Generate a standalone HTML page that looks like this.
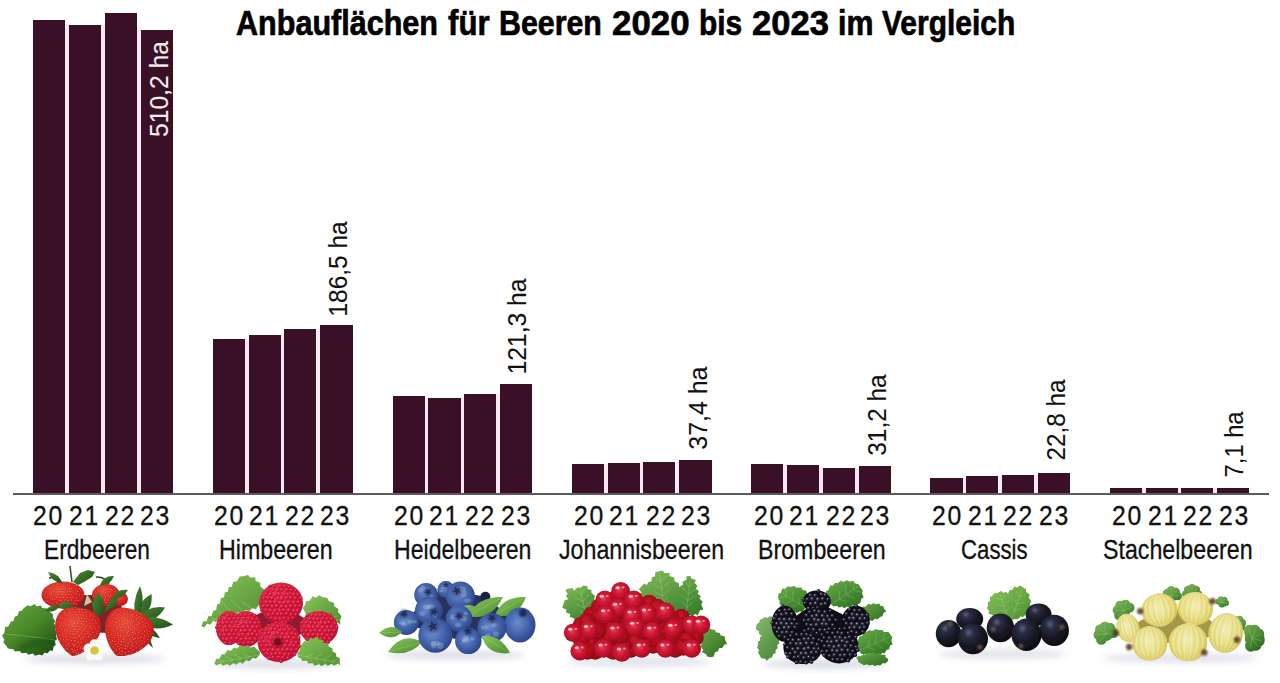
<!DOCTYPE html>
<html><head><meta charset="utf-8"><title>Anbauflächen für Beeren 2020 bis 2023 im Vergleich</title>
<style>
html,body{margin:0;padding:0;background:#fff;}
body{width:1280px;height:683px;position:relative;overflow:hidden;font-family:"Liberation Sans",Arial,sans-serif;color:#111;}
.b{position:absolute;background:#3a1026;}
.gap{position:absolute;background:#fbe8f1;}
.axis{position:absolute;left:13.2px;top:492.8px;width:1256.3px;height:2.5px;background:#5c5c5c;}
.yr{-webkit-text-stroke:0.3px #111;position:absolute;top:502.00px;font-size:27.5px;line-height:1;letter-spacing:1.9px;white-space:nowrap;transform:scaleX(0.9);transform-origin:0 0;}
.nm{-webkit-text-stroke:0.3px #111;position:absolute;top:536.20px;font-size:27.5px;line-height:1;white-space:nowrap;transform-origin:0 0;}
.val{-webkit-text-stroke:0.1px currentColor;position:absolute;left:0;top:0;font-size:26.5px;line-height:1;white-space:nowrap;transform-origin:0 0;}
h1{position:absolute;margin:0;left:0;top:5.50px;width:1280px;height:40px;font-size:35.5px;line-height:1;font-weight:bold;color:#000;}
.tw{position:absolute;top:0;white-space:nowrap;transform-origin:0 0;-webkit-text-stroke:0.7px #000;}
.fr{position:absolute;}
</style></head><body>
<h1><span class="tw" style="left:235.74px;transform:scaleX(0.8606)">Anbauflächen</span><span class="tw" style="left:447.50px;transform:scaleX(0.8777)">für</span><span class="tw" style="left:498.89px;transform:scaleX(0.8547)">Beeren</span><span class="tw" style="left:611.52px;transform:scaleX(0.9818)">2020</span><span class="tw" style="left:698.92px;transform:scaleX(0.8417)">bis</span><span class="tw" style="left:751.53px;transform:scaleX(0.9740)">2023</span><span class="tw" style="left:838.29px;transform:scaleX(0.8553)">im</span><span class="tw" style="left:881.90px;transform:scaleX(0.8442)">Vergleich</span></h1>
<div class="gap" style="left:65.40px;top:25.30px;width:3.70px;height:467.70px"></div>
<div class="gap" style="left:101.30px;top:25.30px;width:3.30px;height:467.70px"></div>
<div class="gap" style="left:136.80px;top:29.70px;width:3.90px;height:463.30px"></div>
<div class="gap" style="left:245.10px;top:338.50px;width:3.70px;height:154.50px"></div>
<div class="gap" style="left:281.00px;top:334.90px;width:3.30px;height:158.10px"></div>
<div class="gap" style="left:316.50px;top:329.00px;width:3.90px;height:164.00px"></div>
<div class="gap" style="left:424.70px;top:397.75px;width:3.70px;height:95.25px"></div>
<div class="gap" style="left:460.60px;top:397.75px;width:3.30px;height:95.25px"></div>
<div class="gap" style="left:496.10px;top:394.40px;width:3.90px;height:98.60px"></div>
<div class="gap" style="left:604.10px;top:463.75px;width:3.70px;height:29.25px"></div>
<div class="gap" style="left:640.00px;top:462.90px;width:3.30px;height:30.10px"></div>
<div class="gap" style="left:675.50px;top:461.90px;width:3.90px;height:31.10px"></div>
<div class="gap" style="left:783.45px;top:465.40px;width:3.70px;height:27.60px"></div>
<div class="gap" style="left:819.35px;top:467.75px;width:3.30px;height:25.25px"></div>
<div class="gap" style="left:854.85px;top:467.75px;width:3.90px;height:25.25px"></div>
<div class="gap" style="left:962.60px;top:477.90px;width:3.70px;height:15.10px"></div>
<div class="gap" style="left:998.50px;top:476.25px;width:3.30px;height:16.75px"></div>
<div class="gap" style="left:1034.00px;top:474.60px;width:3.90px;height:18.40px"></div>
<div class="gap" style="left:1142.00px;top:487.90px;width:3.70px;height:5.10px"></div>
<div class="gap" style="left:1177.90px;top:487.90px;width:3.30px;height:5.10px"></div>
<div class="gap" style="left:1213.40px;top:487.90px;width:3.90px;height:5.10px"></div>
<div class="b" style="left:33.20px;top:19.70px;width:32.2px;height:473.30px"></div>
<div class="b" style="left:69.10px;top:25.30px;width:32.2px;height:467.70px"></div>
<div class="b" style="left:104.60px;top:13.00px;width:32.2px;height:480.00px"></div>
<div class="b" style="left:140.70px;top:29.70px;width:32.2px;height:463.30px"></div>
<div class="b" style="left:212.90px;top:338.50px;width:32.2px;height:154.50px"></div>
<div class="b" style="left:248.80px;top:334.90px;width:32.2px;height:158.10px"></div>
<div class="b" style="left:284.30px;top:329.00px;width:32.2px;height:164.00px"></div>
<div class="b" style="left:320.40px;top:324.60px;width:32.2px;height:168.40px"></div>
<div class="b" style="left:392.50px;top:396.00px;width:32.2px;height:97.00px"></div>
<div class="b" style="left:428.40px;top:397.75px;width:32.2px;height:95.25px"></div>
<div class="b" style="left:463.90px;top:394.40px;width:32.2px;height:98.60px"></div>
<div class="b" style="left:500.00px;top:384.00px;width:32.2px;height:109.00px"></div>
<div class="b" style="left:571.90px;top:463.75px;width:32.2px;height:29.25px"></div>
<div class="b" style="left:607.80px;top:462.90px;width:32.2px;height:30.10px"></div>
<div class="b" style="left:643.30px;top:461.90px;width:32.2px;height:31.10px"></div>
<div class="b" style="left:679.40px;top:460.40px;width:32.2px;height:32.60px"></div>
<div class="b" style="left:751.25px;top:464.10px;width:32.2px;height:28.90px"></div>
<div class="b" style="left:787.15px;top:465.40px;width:32.2px;height:27.60px"></div>
<div class="b" style="left:822.65px;top:467.75px;width:32.2px;height:25.25px"></div>
<div class="b" style="left:858.75px;top:465.90px;width:32.2px;height:27.10px"></div>
<div class="b" style="left:930.40px;top:477.90px;width:32.2px;height:15.10px"></div>
<div class="b" style="left:966.30px;top:476.25px;width:32.2px;height:16.75px"></div>
<div class="b" style="left:1001.80px;top:474.60px;width:32.2px;height:18.40px"></div>
<div class="b" style="left:1037.90px;top:473.10px;width:32.2px;height:19.90px"></div>
<div class="b" style="left:1109.80px;top:487.90px;width:32.2px;height:5.10px"></div>
<div class="b" style="left:1145.70px;top:487.90px;width:32.2px;height:5.10px"></div>
<div class="b" style="left:1181.20px;top:487.90px;width:32.2px;height:5.10px"></div>
<div class="b" style="left:1217.30px;top:487.90px;width:32.2px;height:5.10px"></div>
<div class="axis"></div>
<div class="yr" style="left:32.85px">20</div>
<div class="yr" style="left:68.50px">21</div>
<div class="yr" style="left:105.10px">22</div>
<div class="yr" style="left:140.10px">23</div>
<div class="yr" style="left:213.50px">20</div>
<div class="yr" style="left:248.50px">21</div>
<div class="yr" style="left:285.35px">22</div>
<div class="yr" style="left:320.35px">23</div>
<div class="yr" style="left:393.50px">20</div>
<div class="yr" style="left:429.10px">21</div>
<div class="yr" style="left:465.35px">22</div>
<div class="yr" style="left:501.00px">23</div>
<div class="yr" style="left:573.85px">20</div>
<div class="yr" style="left:609.10px">21</div>
<div class="yr" style="left:645.70px">22</div>
<div class="yr" style="left:681.00px">23</div>
<div class="yr" style="left:753.85px">20</div>
<div class="yr" style="left:789.35px">21</div>
<div class="yr" style="left:826.00px">22</div>
<div class="yr" style="left:860.35px">23</div>
<div class="yr" style="left:932.20px">20</div>
<div class="yr" style="left:967.85px">21</div>
<div class="yr" style="left:1003.10px">22</div>
<div class="yr" style="left:1038.50px">23</div>
<div class="yr" style="left:1112.20px">20</div>
<div class="yr" style="left:1147.60px">21</div>
<div class="yr" style="left:1183.10px">22</div>
<div class="yr" style="left:1218.50px">23</div>
<div class="nm" style="left:43.95px;transform:scaleX(0.8252)">Erdbeeren</div>
<div class="nm" style="left:218.91px;transform:scaleX(0.8447)">Himbeeren</div>
<div class="nm" style="left:393.92px;transform:scaleX(0.8400)">Heidelbeeren</div>
<div class="nm" style="left:559.26px;transform:scaleX(0.8440)">Johannisbeeren</div>
<div class="nm" style="left:758.01px;transform:scaleX(0.8439)">Brombeeren</div>
<div class="nm" style="left:960.69px;transform:scaleX(0.8074)">Cassis</div>
<div class="nm" style="left:1103.26px;transform:scaleX(0.8434)">Stachelbeeren</div>
<div class="val" style="color:#f6ecf2;transform:translate(145.70px,137.03px) rotate(-90deg) scaleX(0.9299)">510,2 ha</div>
<div class="val" style="color:#111;transform:translate(325.40px,316.54px) rotate(-90deg) scaleX(0.9218)">186,5 ha</div>
<div class="val" style="color:#111;transform:translate(504.40px,374.36px) rotate(-90deg) scaleX(0.9287)">121,3 ha</div>
<div class="val" style="color:#111;transform:translate(685.30px,449.64px) rotate(-90deg) scaleX(0.9398)">37,4 ha</div>
<div class="val" style="color:#111;transform:translate(864.40px,455.72px) rotate(-90deg) scaleX(0.9193)">31,2 ha</div>
<div class="val" style="color:#111;transform:translate(1042.60px,460.51px) rotate(-90deg) scaleX(0.9148)">22,8 ha</div>
<div class="val" style="color:#111;transform:translate(1221.20px,477.39px) rotate(-90deg) scaleX(0.8945)">7,1 ha</div>
<svg class="fr" style="left:0;top:555px" width="1280" height="128" viewBox="0 555 1280 128"><defs>
<filter id="blur3" x="-50%" y="-50%" width="200%" height="200%"><feGaussianBlur stdDeviation="3"/></filter>
<filter id="blur2" x="-50%" y="-50%" width="200%" height="200%"><feGaussianBlur stdDeviation="2"/></filter>
<filter id="blur1" x="-30%" y="-30%" width="160%" height="160%"><feGaussianBlur stdDeviation="1"/></filter>
<filter id="soft" x="-5%" y="-5%" width="110%" height="110%"><feGaussianBlur stdDeviation="0.5"/></filter>
<radialGradient id="gStraw" cx="0.4" cy="0.32" r="0.75"><stop offset="0" stop-color="#f0503e"/><stop offset="0.45" stop-color="#dc2c26"/><stop offset="0.85" stop-color="#c21c1e"/><stop offset="1" stop-color="#8e1014"/></radialGradient>
<radialGradient id="gRasp" cx="0.4" cy="0.35" r="0.75"><stop offset="0" stop-color="#f0506a"/><stop offset="0.45" stop-color="#dc2442"/><stop offset="0.85" stop-color="#c0163a"/><stop offset="1" stop-color="#8c0c26"/></radialGradient>
<radialGradient id="gBlue" cx="0.42" cy="0.42" r="0.7"><stop offset="0" stop-color="#6c8cca"/><stop offset="0.45" stop-color="#4767ae"/><stop offset="0.85" stop-color="#2d468a"/><stop offset="1" stop-color="#1c2c60"/></radialGradient>
<radialGradient id="gCurr" cx="0.42" cy="0.42" r="0.68"><stop offset="0" stop-color="#e6445a"/><stop offset="0.35" stop-color="#d21a36"/><stop offset="0.78" stop-color="#b00c26"/><stop offset="1" stop-color="#760616"/></radialGradient>
<radialGradient id="gCurrB" cx="0.42" cy="0.4" r="0.68"><stop offset="0" stop-color="#c81828"/><stop offset="0.7" stop-color="#a00a18"/><stop offset="1" stop-color="#6a0410"/></radialGradient>
<radialGradient id="gDrupB" cx="0.38" cy="0.35" r="0.7"><stop offset="0" stop-color="#6a6c88"/><stop offset="0.35" stop-color="#2a2838"/><stop offset="1" stop-color="#0a0810"/></radialGradient>
<radialGradient id="gDrupR" cx="0.38" cy="0.35" r="0.7"><stop offset="0" stop-color="#f8607a"/><stop offset="0.4" stop-color="#dc1e40"/><stop offset="1" stop-color="#a00a28"/></radialGradient>
<radialGradient id="gBlack" cx="0.45" cy="0.4" r="0.7"><stop offset="0" stop-color="#2c2a40"/><stop offset="0.6" stop-color="#1a1726"/><stop offset="1" stop-color="#0c0a12"/></radialGradient>
<radialGradient id="gCass" cx="0.36" cy="0.3" r="0.8"><stop offset="0" stop-color="#58607e"/><stop offset="0.2" stop-color="#2a2d42"/><stop offset="0.6" stop-color="#15161f"/><stop offset="1" stop-color="#0a0a0e"/></radialGradient>
<radialGradient id="gGoose" cx="0.45" cy="0.42" r="0.65"><stop offset="0" stop-color="#f2ecb4"/><stop offset="0.55" stop-color="#e8de84"/><stop offset="0.85" stop-color="#dacb5e"/><stop offset="1" stop-color="#b8a844"/></radialGradient>
<linearGradient id="gLeaf" x1="0" y1="0" x2="1" y2="1"><stop offset="0" stop-color="#6caa48"/><stop offset="1" stop-color="#2e6a20"/></linearGradient>
<linearGradient id="gLeafL" x1="0" y1="0" x2="1" y2="1"><stop offset="0" stop-color="#8cc65c"/><stop offset="1" stop-color="#4a8c2e"/></linearGradient>
<linearGradient id="gLeafS" x1="0" y1="0" x2="0.8" y2="1"><stop offset="0" stop-color="#6aa63c"/><stop offset="0.5" stop-color="#4a8a2a"/><stop offset="1" stop-color="#1e5214"/></linearGradient>
<linearGradient id="gLeafG" x1="0" y1="0" x2="0.6" y2="1"><stop offset="0" stop-color="#78b04c"/><stop offset="1" stop-color="#2c6a22"/></linearGradient>
<linearGradient id="gLeafB" x1="0" y1="0" x2="0.7" y2="1"><stop offset="0" stop-color="#6cae4a"/><stop offset="1" stop-color="#2e7424"/></linearGradient>
<linearGradient id="gLeafF" x1="0" y1="0" x2="0.7" y2="1"><stop offset="0" stop-color="#8ab870"/><stop offset="1" stop-color="#4a8a3a"/></linearGradient>
<linearGradient id="gLeafG2" x1="0" y1="0" x2="0.6" y2="1"><stop offset="0" stop-color="#84bc58"/><stop offset="1" stop-color="#3c8030"/></linearGradient>
<linearGradient id="gLeafD" x1="0" y1="0" x2="1" y2="1"><stop offset="0" stop-color="#4c8a34"/><stop offset="1" stop-color="#1f5018"/></linearGradient>
<pattern id="pSeed" width="3.6" height="3.6" patternUnits="userSpaceOnUse" patternTransform="rotate(35)"><circle cx="0.9" cy="0.9" r="0.6" fill="#ffbca0" opacity="0.6"/><circle cx="2.7" cy="2.7" r="0.6" fill="#a00c12" opacity="0.5"/></pattern>
<pattern id="pDrup" width="3.4" height="3.4" patternUnits="userSpaceOnUse" patternTransform="rotate(20)"><circle cx="1.7" cy="1.7" r="1" fill="#ff8aa0" opacity="0.4"/><circle cx="0" cy="0" r="0.7" fill="#7a0a1e" opacity="0.45"/></pattern>
<pattern id="pBlk" width="3.4" height="3.4" patternUnits="userSpaceOnUse" patternTransform="rotate(25)"><circle cx="1.7" cy="1.7" r="0.75" fill="#8c94b8" opacity="0.75"/><circle cx="0" cy="0" r="0.9" fill="#05040a" opacity="0.6"/></pattern>
<pattern id="pGoose" width="3.4" height="60" patternUnits="userSpaceOnUse"><rect x="0" y="0" width="1.1" height="60" fill="#fffdf0" opacity="0.6"/><rect x="2" y="0" width="0.6" height="60" fill="#b8b060" opacity="0.35"/></pattern>
</defs><g filter="url(#soft)"><ellipse cx="95" cy="659" rx="70" ry="5" fill="#c4c8d6" opacity="0.55" filter="url(#blur3)"/><path d="M136.0,620.0 Q153.4,612.8 151.6,594.1 Q136.1,602.4 136.0,620.0 Z" fill="url(#gLeafD)"/><path d="M136.0,620.0 Q155.2,624.8 165.0,607.5 Q146.7,604.9 136.0,620.0 Z" fill="url(#gLeafD)"/><path d="M136.0,620.0 Q153.1,634.2 173.0,624.5 Q155.7,612.7 136.0,620.0 Z" fill="url(#gLeafD)"/><path d="M136.0,620.0 Q143.2,635.4 160.0,638.0 Q151.8,623.9 136.0,620.0 Z" fill="url(#gLeafD)"/><path d="M136.0,620.0 Q139.0,637.3 153.0,648.0 Q148.9,631.3 136.0,620.0 Z" fill="url(#gLeafD)"/><path d="M136.0,620.0 Q146.7,604.0 140.0,586.0 Q131.0,602.2 136.0,620.0 Z" fill="url(#gLeafD)"/><path d="M23.7,608.3 L27.5,605.2 L30.2,606.3 L35.0,603.9 L36.3,606.2 L40.9,605.6 L42.2,607.9 L47.5,608.5 L49.2,611.4 L53.1,614.6 L52.7,617.6 L55.2,621.3 L53.8,623.4 L56.3,627.1 L54.9,629.3 L57.4,633.0 L56.0,635.1 L56.9,639.4 L54.8,640.7 L55.7,645.0 L53.6,646.4 L52.6,651.3 L50.3,650.3 L47.2,653.4 L44.9,652.4 L41.8,655.5 L39.5,654.5 L34.9,655.7 L33.0,653.6 L28.3,654.8 L26.4,652.7 L21.6,653.3 L19.8,651.0 L15.0,651.5 L13.2,649.2 L7.9,648.6 L6.2,645.7 L3.3,642.2 L4.4,639.8 L2.0,635.4 L4.4,633.0 L5.0,626.9 L8.3,626.4 L10.7,621.7 L13.5,621.1 L14.8,616.4 L17.6,615.8 L18.9,611.3 L21.7,610.8 Z" fill="url(#gLeafS)"/><path d="M55,640 Q30,636 6,634" stroke="#a8d080" stroke-width="0.7" fill="none" opacity="0.5"/><path d="M20,648 Q35,640 54,642" stroke="#103a0c" stroke-width="6" fill="none" opacity="0.35" filter="url(#blur2)"/><path d="M63.0,595.0 L106.0,595.0 L120.0,599.0 L127.0,633.5 L77.0,632.0 Z" fill="#6a0c0c" opacity="0.9"/><clipPath id="cb1"><ellipse cx="63" cy="595" rx="21.5" ry="13.5"/></clipPath><ellipse cx="63" cy="595" rx="21.5" ry="13.5" fill="url(#gStraw)"/><g clip-path="url(#cb1)"><circle cx="57.9" cy="583.3" r="0.91" fill="#b01818" opacity="0.55"/><circle cx="57.9" cy="583.3" r="0.60" fill="#f8c090" opacity="0.6"/><circle cx="62.3" cy="582.3" r="1.10" fill="#b01818" opacity="0.55"/><circle cx="62.3" cy="582.3" r="0.73" fill="#f8c090" opacity="0.6"/><circle cx="65.3" cy="582.7" r="1.03" fill="#b01818" opacity="0.55"/><circle cx="65.3" cy="582.7" r="0.68" fill="#f8c090" opacity="0.6"/><circle cx="69.0" cy="583.2" r="0.87" fill="#b01818" opacity="0.55"/><circle cx="69.0" cy="583.2" r="0.58" fill="#f8c090" opacity="0.6"/><circle cx="49.3" cy="584.9" r="0.84" fill="#b01818" opacity="0.55"/><circle cx="49.3" cy="584.9" r="0.56" fill="#f8c090" opacity="0.6"/><circle cx="54.0" cy="585.6" r="0.94" fill="#b01818" opacity="0.55"/><circle cx="54.0" cy="585.6" r="0.62" fill="#f8c090" opacity="0.6"/><circle cx="57.2" cy="584.8" r="1.01" fill="#b01818" opacity="0.55"/><circle cx="57.2" cy="584.8" r="0.67" fill="#f8c090" opacity="0.6"/><circle cx="60.1" cy="586.1" r="1.06" fill="#b01818" opacity="0.55"/><circle cx="60.1" cy="586.1" r="0.71" fill="#f8c090" opacity="0.6"/><circle cx="63.1" cy="586.5" r="1.12" fill="#b01818" opacity="0.55"/><circle cx="63.1" cy="586.5" r="0.75" fill="#f8c090" opacity="0.6"/><circle cx="67.7" cy="584.9" r="1.03" fill="#b01818" opacity="0.55"/><circle cx="67.7" cy="584.9" r="0.68" fill="#f8c090" opacity="0.6"/><circle cx="69.6" cy="585.8" r="0.99" fill="#b01818" opacity="0.55"/><circle cx="69.6" cy="585.8" r="0.66" fill="#f8c090" opacity="0.6"/><circle cx="74.5" cy="585.5" r="0.88" fill="#b01818" opacity="0.55"/><circle cx="74.5" cy="585.5" r="0.59" fill="#f8c090" opacity="0.6"/><circle cx="76.7" cy="585.6" r="0.84" fill="#b01818" opacity="0.55"/><circle cx="76.7" cy="585.6" r="0.56" fill="#f8c090" opacity="0.6"/><circle cx="44.1" cy="588.2" r="0.80" fill="#b01818" opacity="0.55"/><circle cx="44.1" cy="588.2" r="0.54" fill="#f8c090" opacity="0.6"/><circle cx="48.2" cy="588.6" r="0.87" fill="#b01818" opacity="0.55"/><circle cx="48.2" cy="588.6" r="0.58" fill="#f8c090" opacity="0.6"/><circle cx="51.2" cy="588.2" r="0.93" fill="#b01818" opacity="0.55"/><circle cx="51.2" cy="588.2" r="0.62" fill="#f8c090" opacity="0.6"/><circle cx="54.6" cy="588.6" r="0.98" fill="#b01818" opacity="0.55"/><circle cx="54.6" cy="588.6" r="0.65" fill="#f8c090" opacity="0.6"/><circle cx="58.1" cy="587.8" r="1.04" fill="#b01818" opacity="0.55"/><circle cx="58.1" cy="587.8" r="0.69" fill="#f8c090" opacity="0.6"/><circle cx="62.5" cy="588.7" r="1.12" fill="#b01818" opacity="0.55"/><circle cx="62.5" cy="588.7" r="0.74" fill="#f8c090" opacity="0.6"/><circle cx="65.5" cy="588.1" r="1.08" fill="#b01818" opacity="0.55"/><circle cx="65.5" cy="588.1" r="0.72" fill="#f8c090" opacity="0.6"/><circle cx="69.5" cy="589.3" r="1.01" fill="#b01818" opacity="0.55"/><circle cx="69.5" cy="589.3" r="0.68" fill="#f8c090" opacity="0.6"/><circle cx="71.5" cy="588.4" r="0.98" fill="#b01818" opacity="0.55"/><circle cx="71.5" cy="588.4" r="0.65" fill="#f8c090" opacity="0.6"/><circle cx="75.9" cy="589.0" r="0.91" fill="#b01818" opacity="0.55"/><circle cx="75.9" cy="589.0" r="0.60" fill="#f8c090" opacity="0.6"/><circle cx="79.6" cy="588.5" r="0.84" fill="#b01818" opacity="0.55"/><circle cx="79.6" cy="588.5" r="0.56" fill="#f8c090" opacity="0.6"/><circle cx="43.8" cy="591.9" r="0.82" fill="#b01818" opacity="0.55"/><circle cx="43.8" cy="591.9" r="0.55" fill="#f8c090" opacity="0.6"/><circle cx="46.3" cy="591.7" r="0.86" fill="#b01818" opacity="0.55"/><circle cx="46.3" cy="591.7" r="0.57" fill="#f8c090" opacity="0.6"/><circle cx="50.7" cy="592.2" r="0.93" fill="#b01818" opacity="0.55"/><circle cx="50.7" cy="592.2" r="0.62" fill="#f8c090" opacity="0.6"/><circle cx="53.4" cy="591.7" r="0.97" fill="#b01818" opacity="0.55"/><circle cx="53.4" cy="591.7" r="0.65" fill="#f8c090" opacity="0.6"/><circle cx="56.0" cy="591.1" r="1.01" fill="#b01818" opacity="0.55"/><circle cx="56.0" cy="591.1" r="0.68" fill="#f8c090" opacity="0.6"/><circle cx="60.7" cy="591.4" r="1.09" fill="#b01818" opacity="0.55"/><circle cx="60.7" cy="591.4" r="0.73" fill="#f8c090" opacity="0.6"/><circle cx="63.0" cy="591.7" r="1.12" fill="#b01818" opacity="0.55"/><circle cx="63.0" cy="591.7" r="0.75" fill="#f8c090" opacity="0.6"/><circle cx="67.3" cy="591.9" r="1.06" fill="#b01818" opacity="0.55"/><circle cx="67.3" cy="591.9" r="0.70" fill="#f8c090" opacity="0.6"/><circle cx="70.2" cy="591.5" r="1.01" fill="#b01818" opacity="0.55"/><circle cx="70.2" cy="591.5" r="0.67" fill="#f8c090" opacity="0.6"/><circle cx="73.8" cy="592.1" r="0.95" fill="#b01818" opacity="0.55"/><circle cx="73.8" cy="592.1" r="0.64" fill="#f8c090" opacity="0.6"/><circle cx="77.2" cy="591.4" r="0.90" fill="#b01818" opacity="0.55"/><circle cx="77.2" cy="591.4" r="0.60" fill="#f8c090" opacity="0.6"/><circle cx="80.6" cy="590.8" r="0.85" fill="#b01818" opacity="0.55"/><circle cx="80.6" cy="590.8" r="0.56" fill="#f8c090" opacity="0.6"/><circle cx="44.1" cy="594.9" r="0.83" fill="#b01818" opacity="0.55"/><circle cx="44.1" cy="594.9" r="0.55" fill="#f8c090" opacity="0.6"/><circle cx="49.1" cy="594.7" r="0.91" fill="#b01818" opacity="0.55"/><circle cx="49.1" cy="594.7" r="0.60" fill="#f8c090" opacity="0.6"/><circle cx="51.5" cy="594.0" r="0.94" fill="#b01818" opacity="0.55"/><circle cx="51.5" cy="594.0" r="0.63" fill="#f8c090" opacity="0.6"/><circle cx="55.1" cy="595.3" r="1.00" fill="#b01818" opacity="0.55"/><circle cx="55.1" cy="595.3" r="0.67" fill="#f8c090" opacity="0.6"/><circle cx="59.0" cy="594.6" r="1.06" fill="#b01818" opacity="0.55"/><circle cx="59.0" cy="594.6" r="0.71" fill="#f8c090" opacity="0.6"/><circle cx="62.5" cy="594.1" r="1.12" fill="#b01818" opacity="0.55"/><circle cx="62.5" cy="594.1" r="0.74" fill="#f8c090" opacity="0.6"/><circle cx="65.3" cy="595.3" r="1.09" fill="#b01818" opacity="0.55"/><circle cx="65.3" cy="595.3" r="0.73" fill="#f8c090" opacity="0.6"/><circle cx="68.8" cy="594.5" r="1.03" fill="#b01818" opacity="0.55"/><circle cx="68.8" cy="594.5" r="0.69" fill="#f8c090" opacity="0.6"/><circle cx="71.7" cy="594.6" r="0.99" fill="#b01818" opacity="0.55"/><circle cx="71.7" cy="594.6" r="0.66" fill="#f8c090" opacity="0.6"/><circle cx="76.3" cy="593.7" r="0.92" fill="#b01818" opacity="0.55"/><circle cx="76.3" cy="593.7" r="0.61" fill="#f8c090" opacity="0.6"/><circle cx="79.4" cy="595.1" r="0.87" fill="#b01818" opacity="0.55"/><circle cx="79.4" cy="595.1" r="0.58" fill="#f8c090" opacity="0.6"/><circle cx="83.0" cy="594.9" r="0.81" fill="#b01818" opacity="0.55"/><circle cx="83.0" cy="594.9" r="0.54" fill="#f8c090" opacity="0.6"/><circle cx="47.1" cy="597.5" r="0.87" fill="#b01818" opacity="0.55"/><circle cx="47.1" cy="597.5" r="0.58" fill="#f8c090" opacity="0.6"/><circle cx="50.1" cy="597.3" r="0.92" fill="#b01818" opacity="0.55"/><circle cx="50.1" cy="597.3" r="0.61" fill="#f8c090" opacity="0.6"/><circle cx="52.6" cy="598.1" r="0.96" fill="#b01818" opacity="0.55"/><circle cx="52.6" cy="598.1" r="0.64" fill="#f8c090" opacity="0.6"/><circle cx="56.9" cy="597.0" r="1.03" fill="#b01818" opacity="0.55"/><circle cx="56.9" cy="597.0" r="0.68" fill="#f8c090" opacity="0.6"/><circle cx="60.2" cy="597.4" r="1.08" fill="#b01818" opacity="0.55"/><circle cx="60.2" cy="597.4" r="0.72" fill="#f8c090" opacity="0.6"/><circle cx="63.4" cy="597.2" r="1.12" fill="#b01818" opacity="0.55"/><circle cx="63.4" cy="597.2" r="0.75" fill="#f8c090" opacity="0.6"/><circle cx="67.1" cy="597.7" r="1.06" fill="#b01818" opacity="0.55"/><circle cx="67.1" cy="597.7" r="0.71" fill="#f8c090" opacity="0.6"/><circle cx="70.6" cy="597.4" r="1.00" fill="#b01818" opacity="0.55"/><circle cx="70.6" cy="597.4" r="0.67" fill="#f8c090" opacity="0.6"/><circle cx="73.0" cy="597.0" r="0.96" fill="#b01818" opacity="0.55"/><circle cx="73.0" cy="597.0" r="0.64" fill="#f8c090" opacity="0.6"/><circle cx="76.7" cy="597.6" r="0.91" fill="#b01818" opacity="0.55"/><circle cx="76.7" cy="597.6" r="0.60" fill="#f8c090" opacity="0.6"/><circle cx="81.2" cy="598.0" r="0.83" fill="#b01818" opacity="0.55"/><circle cx="81.2" cy="598.0" r="0.55" fill="#f8c090" opacity="0.6"/><circle cx="45.4" cy="601.0" r="0.83" fill="#b01818" opacity="0.55"/><circle cx="45.4" cy="601.0" r="0.55" fill="#f8c090" opacity="0.6"/><circle cx="47.9" cy="601.0" r="0.87" fill="#b01818" opacity="0.55"/><circle cx="47.9" cy="601.0" r="0.58" fill="#f8c090" opacity="0.6"/><circle cx="52.0" cy="599.7" r="0.94" fill="#b01818" opacity="0.55"/><circle cx="52.0" cy="599.7" r="0.63" fill="#f8c090" opacity="0.6"/><circle cx="54.3" cy="599.6" r="0.98" fill="#b01818" opacity="0.55"/><circle cx="54.3" cy="599.6" r="0.65" fill="#f8c090" opacity="0.6"/><circle cx="58.9" cy="600.0" r="1.06" fill="#b01818" opacity="0.55"/><circle cx="58.9" cy="600.0" r="0.70" fill="#f8c090" opacity="0.6"/><circle cx="61.2" cy="600.6" r="1.10" fill="#b01818" opacity="0.55"/><circle cx="61.2" cy="600.6" r="0.73" fill="#f8c090" opacity="0.6"/><circle cx="65.0" cy="599.7" r="1.09" fill="#b01818" opacity="0.55"/><circle cx="65.0" cy="599.7" r="0.73" fill="#f8c090" opacity="0.6"/><circle cx="68.1" cy="600.5" r="1.04" fill="#b01818" opacity="0.55"/><circle cx="68.1" cy="600.5" r="0.69" fill="#f8c090" opacity="0.6"/><circle cx="71.5" cy="600.0" r="0.98" fill="#b01818" opacity="0.55"/><circle cx="71.5" cy="600.0" r="0.65" fill="#f8c090" opacity="0.6"/><circle cx="75.9" cy="600.3" r="0.91" fill="#b01818" opacity="0.55"/><circle cx="75.9" cy="600.3" r="0.60" fill="#f8c090" opacity="0.6"/><circle cx="78.6" cy="600.4" r="0.86" fill="#b01818" opacity="0.55"/><circle cx="78.6" cy="600.4" r="0.57" fill="#f8c090" opacity="0.6"/><circle cx="45.8" cy="603.2" r="0.80" fill="#b01818" opacity="0.55"/><circle cx="45.8" cy="603.2" r="0.54" fill="#f8c090" opacity="0.6"/><circle cx="49.9" cy="602.8" r="0.88" fill="#b01818" opacity="0.55"/><circle cx="49.9" cy="602.8" r="0.59" fill="#f8c090" opacity="0.6"/><circle cx="52.7" cy="604.0" r="0.93" fill="#b01818" opacity="0.55"/><circle cx="52.7" cy="604.0" r="0.62" fill="#f8c090" opacity="0.6"/><circle cx="56.8" cy="602.9" r="1.01" fill="#b01818" opacity="0.55"/><circle cx="56.8" cy="602.9" r="0.67" fill="#f8c090" opacity="0.6"/><circle cx="60.4" cy="603.9" r="1.08" fill="#b01818" opacity="0.55"/><circle cx="60.4" cy="603.9" r="0.72" fill="#f8c090" opacity="0.6"/><circle cx="62.8" cy="602.5" r="1.12" fill="#b01818" opacity="0.55"/><circle cx="62.8" cy="602.5" r="0.75" fill="#f8c090" opacity="0.6"/><circle cx="66.4" cy="603.7" r="1.06" fill="#b01818" opacity="0.55"/><circle cx="66.4" cy="603.7" r="0.71" fill="#f8c090" opacity="0.6"/><circle cx="69.8" cy="603.7" r="1.00" fill="#b01818" opacity="0.55"/><circle cx="69.8" cy="603.7" r="0.67" fill="#f8c090" opacity="0.6"/><circle cx="74.1" cy="603.4" r="0.92" fill="#b01818" opacity="0.55"/><circle cx="74.1" cy="603.4" r="0.61" fill="#f8c090" opacity="0.6"/><circle cx="76.7" cy="604.2" r="0.87" fill="#b01818" opacity="0.55"/><circle cx="76.7" cy="604.2" r="0.58" fill="#f8c090" opacity="0.6"/><circle cx="52.2" cy="606.3" r="0.89" fill="#b01818" opacity="0.55"/><circle cx="52.2" cy="606.3" r="0.59" fill="#f8c090" opacity="0.6"/><circle cx="54.6" cy="606.6" r="0.94" fill="#b01818" opacity="0.55"/><circle cx="54.6" cy="606.6" r="0.63" fill="#f8c090" opacity="0.6"/><circle cx="58.3" cy="606.4" r="1.02" fill="#b01818" opacity="0.55"/><circle cx="58.3" cy="606.4" r="0.68" fill="#f8c090" opacity="0.6"/><circle cx="61.6" cy="606.5" r="1.09" fill="#b01818" opacity="0.55"/><circle cx="61.6" cy="606.5" r="0.73" fill="#f8c090" opacity="0.6"/><circle cx="64.5" cy="606.0" r="1.09" fill="#b01818" opacity="0.55"/><circle cx="64.5" cy="606.0" r="0.73" fill="#f8c090" opacity="0.6"/><circle cx="69.5" cy="606.9" r="0.98" fill="#b01818" opacity="0.55"/><circle cx="69.5" cy="606.9" r="0.66" fill="#f8c090" opacity="0.6"/><circle cx="71.8" cy="606.9" r="0.93" fill="#b01818" opacity="0.55"/><circle cx="71.8" cy="606.9" r="0.62" fill="#f8c090" opacity="0.6"/><circle cx="75.2" cy="607.1" r="0.86" fill="#b01818" opacity="0.55"/><circle cx="75.2" cy="607.1" r="0.57" fill="#f8c090" opacity="0.6"/><circle cx="53.8" cy="609.1" r="0.85" fill="#b01818" opacity="0.55"/><circle cx="53.8" cy="609.1" r="0.57" fill="#f8c090" opacity="0.6"/><circle cx="56.4" cy="608.4" r="0.93" fill="#b01818" opacity="0.55"/><circle cx="56.4" cy="608.4" r="0.62" fill="#f8c090" opacity="0.6"/><circle cx="60.8" cy="608.5" r="1.06" fill="#b01818" opacity="0.55"/><circle cx="60.8" cy="608.5" r="0.71" fill="#f8c090" opacity="0.6"/><circle cx="64.1" cy="610.0" r="1.09" fill="#b01818" opacity="0.55"/><circle cx="64.1" cy="610.0" r="0.73" fill="#f8c090" opacity="0.6"/><circle cx="67.1" cy="608.7" r="1.00" fill="#b01818" opacity="0.55"/><circle cx="67.1" cy="608.7" r="0.67" fill="#f8c090" opacity="0.6"/><circle cx="71.0" cy="610.1" r="0.88" fill="#b01818" opacity="0.55"/><circle cx="71.0" cy="610.1" r="0.59" fill="#f8c090" opacity="0.6"/></g><clipPath id="cb2"><ellipse cx="106" cy="595" rx="14" ry="11"/></clipPath><ellipse cx="106" cy="595" rx="14" ry="11" fill="url(#gStraw)"/><g clip-path="url(#cb2)"><circle cx="103.0" cy="586.4" r="0.93" fill="#b01818" opacity="0.55"/><circle cx="103.0" cy="586.4" r="0.62" fill="#f8c090" opacity="0.6"/><circle cx="104.8" cy="584.9" r="1.05" fill="#b01818" opacity="0.55"/><circle cx="104.8" cy="584.9" r="0.70" fill="#f8c090" opacity="0.6"/><circle cx="109.6" cy="586.0" r="0.89" fill="#b01818" opacity="0.55"/><circle cx="109.6" cy="586.0" r="0.59" fill="#f8c090" opacity="0.6"/><circle cx="97.4" cy="588.2" r="0.87" fill="#b01818" opacity="0.55"/><circle cx="97.4" cy="588.2" r="0.58" fill="#f8c090" opacity="0.6"/><circle cx="100.7" cy="588.7" r="0.97" fill="#b01818" opacity="0.55"/><circle cx="100.7" cy="588.7" r="0.64" fill="#f8c090" opacity="0.6"/><circle cx="104.0" cy="588.0" r="1.07" fill="#b01818" opacity="0.55"/><circle cx="104.0" cy="588.0" r="0.71" fill="#f8c090" opacity="0.6"/><circle cx="107.2" cy="588.4" r="1.09" fill="#b01818" opacity="0.55"/><circle cx="107.2" cy="588.4" r="0.73" fill="#f8c090" opacity="0.6"/><circle cx="111.1" cy="589.4" r="0.97" fill="#b01818" opacity="0.55"/><circle cx="111.1" cy="589.4" r="0.65" fill="#f8c090" opacity="0.6"/><circle cx="114.9" cy="588.6" r="0.86" fill="#b01818" opacity="0.55"/><circle cx="114.9" cy="588.6" r="0.57" fill="#f8c090" opacity="0.6"/><circle cx="95.3" cy="591.1" r="0.86" fill="#b01818" opacity="0.55"/><circle cx="95.3" cy="591.1" r="0.57" fill="#f8c090" opacity="0.6"/><circle cx="98.0" cy="590.7" r="0.93" fill="#b01818" opacity="0.55"/><circle cx="98.0" cy="590.7" r="0.62" fill="#f8c090" opacity="0.6"/><circle cx="102.1" cy="591.2" r="1.03" fill="#b01818" opacity="0.55"/><circle cx="102.1" cy="591.2" r="0.69" fill="#f8c090" opacity="0.6"/><circle cx="105.4" cy="592.2" r="1.11" fill="#b01818" opacity="0.55"/><circle cx="105.4" cy="592.2" r="0.74" fill="#f8c090" opacity="0.6"/><circle cx="109.0" cy="591.6" r="1.05" fill="#b01818" opacity="0.55"/><circle cx="109.0" cy="591.6" r="0.70" fill="#f8c090" opacity="0.6"/><circle cx="112.0" cy="590.7" r="0.98" fill="#b01818" opacity="0.55"/><circle cx="112.0" cy="590.7" r="0.65" fill="#f8c090" opacity="0.6"/><circle cx="115.5" cy="590.9" r="0.89" fill="#b01818" opacity="0.55"/><circle cx="115.5" cy="590.9" r="0.59" fill="#f8c090" opacity="0.6"/><circle cx="93.7" cy="595.3" r="0.83" fill="#b01818" opacity="0.55"/><circle cx="93.7" cy="595.3" r="0.55" fill="#f8c090" opacity="0.6"/><circle cx="97.4" cy="593.9" r="0.92" fill="#b01818" opacity="0.55"/><circle cx="97.4" cy="593.9" r="0.61" fill="#f8c090" opacity="0.6"/><circle cx="101.2" cy="594.9" r="1.01" fill="#b01818" opacity="0.55"/><circle cx="101.2" cy="594.9" r="0.67" fill="#f8c090" opacity="0.6"/><circle cx="104.3" cy="595.1" r="1.08" fill="#b01818" opacity="0.55"/><circle cx="104.3" cy="595.1" r="0.72" fill="#f8c090" opacity="0.6"/><circle cx="107.7" cy="594.9" r="1.08" fill="#b01818" opacity="0.55"/><circle cx="107.7" cy="594.9" r="0.72" fill="#f8c090" opacity="0.6"/><circle cx="110.5" cy="595.3" r="1.02" fill="#b01818" opacity="0.55"/><circle cx="110.5" cy="595.3" r="0.68" fill="#f8c090" opacity="0.6"/><circle cx="114.9" cy="593.9" r="0.91" fill="#b01818" opacity="0.55"/><circle cx="114.9" cy="593.9" r="0.61" fill="#f8c090" opacity="0.6"/><circle cx="117.9" cy="594.8" r="0.84" fill="#b01818" opacity="0.55"/><circle cx="117.9" cy="594.8" r="0.56" fill="#f8c090" opacity="0.6"/><circle cx="95.3" cy="597.4" r="0.86" fill="#b01818" opacity="0.55"/><circle cx="95.3" cy="597.4" r="0.57" fill="#f8c090" opacity="0.6"/><circle cx="98.8" cy="598.1" r="0.95" fill="#b01818" opacity="0.55"/><circle cx="98.8" cy="598.1" r="0.63" fill="#f8c090" opacity="0.6"/><circle cx="102.2" cy="597.9" r="1.03" fill="#b01818" opacity="0.55"/><circle cx="102.2" cy="597.9" r="0.69" fill="#f8c090" opacity="0.6"/><circle cx="105.4" cy="598.0" r="1.11" fill="#b01818" opacity="0.55"/><circle cx="105.4" cy="598.0" r="0.74" fill="#f8c090" opacity="0.6"/><circle cx="109.7" cy="597.3" r="1.03" fill="#b01818" opacity="0.55"/><circle cx="109.7" cy="597.3" r="0.69" fill="#f8c090" opacity="0.6"/><circle cx="112.5" cy="598.1" r="0.96" fill="#b01818" opacity="0.55"/><circle cx="112.5" cy="598.1" r="0.64" fill="#f8c090" opacity="0.6"/><circle cx="116.2" cy="597.4" r="0.87" fill="#b01818" opacity="0.55"/><circle cx="116.2" cy="597.4" r="0.58" fill="#f8c090" opacity="0.6"/><circle cx="96.6" cy="600.0" r="0.88" fill="#b01818" opacity="0.55"/><circle cx="96.6" cy="600.0" r="0.58" fill="#f8c090" opacity="0.6"/><circle cx="100.8" cy="599.8" r="0.99" fill="#b01818" opacity="0.55"/><circle cx="100.8" cy="599.8" r="0.66" fill="#f8c090" opacity="0.6"/><circle cx="104.6" cy="599.9" r="1.09" fill="#b01818" opacity="0.55"/><circle cx="104.6" cy="599.9" r="0.73" fill="#f8c090" opacity="0.6"/><circle cx="108.0" cy="600.0" r="1.07" fill="#b01818" opacity="0.55"/><circle cx="108.0" cy="600.0" r="0.71" fill="#f8c090" opacity="0.6"/><circle cx="111.5" cy="600.7" r="0.98" fill="#b01818" opacity="0.55"/><circle cx="111.5" cy="600.7" r="0.65" fill="#f8c090" opacity="0.6"/><circle cx="114.1" cy="600.4" r="0.91" fill="#b01818" opacity="0.55"/><circle cx="114.1" cy="600.4" r="0.61" fill="#f8c090" opacity="0.6"/><circle cx="117.8" cy="600.5" r="0.81" fill="#b01818" opacity="0.55"/><circle cx="117.8" cy="600.5" r="0.54" fill="#f8c090" opacity="0.6"/><circle cx="98.5" cy="602.8" r="0.89" fill="#b01818" opacity="0.55"/><circle cx="98.5" cy="602.8" r="0.60" fill="#f8c090" opacity="0.6"/><circle cx="102.2" cy="604.0" r="1.01" fill="#b01818" opacity="0.55"/><circle cx="102.2" cy="604.0" r="0.67" fill="#f8c090" opacity="0.6"/><circle cx="105.8" cy="602.5" r="1.12" fill="#b01818" opacity="0.55"/><circle cx="105.8" cy="602.5" r="0.75" fill="#f8c090" opacity="0.6"/><circle cx="109.5" cy="603.7" r="1.02" fill="#b01818" opacity="0.55"/><circle cx="109.5" cy="603.7" r="0.68" fill="#f8c090" opacity="0.6"/><circle cx="113.1" cy="602.7" r="0.91" fill="#b01818" opacity="0.55"/><circle cx="113.1" cy="602.7" r="0.61" fill="#f8c090" opacity="0.6"/><circle cx="116.2" cy="602.5" r="0.81" fill="#b01818" opacity="0.55"/><circle cx="116.2" cy="602.5" r="0.54" fill="#f8c090" opacity="0.6"/><circle cx="100.8" cy="605.8" r="0.91" fill="#b01818" opacity="0.55"/><circle cx="100.8" cy="605.8" r="0.60" fill="#f8c090" opacity="0.6"/><circle cx="103.4" cy="606.8" r="1.02" fill="#b01818" opacity="0.55"/><circle cx="103.4" cy="606.8" r="0.68" fill="#f8c090" opacity="0.6"/><circle cx="106.6" cy="606.2" r="1.10" fill="#b01818" opacity="0.55"/><circle cx="106.6" cy="606.2" r="0.73" fill="#f8c090" opacity="0.6"/><circle cx="111.3" cy="605.8" r="0.90" fill="#b01818" opacity="0.55"/><circle cx="111.3" cy="605.8" r="0.60" fill="#f8c090" opacity="0.6"/></g><ellipse cx="120" cy="599" rx="8" ry="7" fill="url(#gStraw)"/><path d="M70,566 Q71,575 72,582" stroke="#2a5a1e" stroke-width="1.6" fill="none"/><path d="M49,578 Q56,577 61,582" stroke="#2a4a1e" stroke-width="1.5" fill="none"/><path d="M96,577 Q104,576 109,584" stroke="#2a4a1e" stroke-width="1.5" fill="none"/><path d="M73.0,582.0 L80.0,573.0 L88.0,570.0 L95.0,572.0 L92.0,577.0 L84.0,582.0 L78.0,585.0 Z" fill="url(#gLeafD)" /><path d="M58.0,606.0 L64.0,601.0 L72.0,604.0 L76.0,611.0 L68.0,612.0 Z" fill="url(#gLeafD)" /><path d="M95.0,618.0 L92.0,604.0 L98.0,592.0 L103.0,600.0 L104.0,612.0 Z" fill="url(#gLeafD)" /><path d="M104.0,612.0 L110.0,600.0 L118.0,596.0 L116.0,606.0 Z" fill="url(#gLeafD)" /><path d="M84.0,606.0 L87.0,594.0 L92.0,602.0 Z" fill="#c8c8a0" /><path d="M62.0,583.0 Q59.2,573.6 48.0,572.0 Q52.2,582.5 62.0,583.0 Z" fill="url(#gLeafD)"/><path d="M100.0,585.0 Q109.8,586.3 114.0,576.0 Q102.8,575.6 100.0,585.0 Z" fill="url(#gLeafD)"/><path d="M112.0,598.0 Q122.1,600.1 128.0,590.0 Q116.3,588.7 112.0,598.0 Z" fill="url(#gLeafD)"/><path d="M60.0,606.0 Q51.5,602.9 45.0,611.0 Q55.0,613.6 60.0,606.0 Z" fill="url(#gLeafD)"/><clipPath id="cs101"><path d="M81.3,607.9 C95.3,610.3 103.0,617.2 100.7,630.0 C98.2,644.4 81.8,655.2 72.7,656.1 C64.6,652.2 52.9,636.5 55.4,622.0 C57.7,609.2 67.2,605.4 81.3,607.9 Z"/></clipPath><path d="M81.3,607.9 C95.3,610.3 103.0,617.2 100.7,630.0 C98.2,644.4 81.8,655.2 72.7,656.1 C64.6,652.2 52.9,636.5 55.4,622.0 C57.7,609.2 67.2,605.4 81.3,607.9 Z" fill="url(#gStraw)"/><g clip-path="url(#cs101)"><circle cx="75.4" cy="607.5" r="0.89" fill="#b01818" opacity="0.55"/><circle cx="75.4" cy="607.5" r="0.59" fill="#f8c090" opacity="0.6"/><circle cx="79.1" cy="609.5" r="1.05" fill="#b01818" opacity="0.55"/><circle cx="79.1" cy="609.5" r="0.70" fill="#f8c090" opacity="0.6"/><circle cx="81.7" cy="609.5" r="1.10" fill="#b01818" opacity="0.55"/><circle cx="81.7" cy="609.5" r="0.73" fill="#f8c090" opacity="0.6"/><circle cx="84.8" cy="609.3" r="0.98" fill="#b01818" opacity="0.55"/><circle cx="84.8" cy="609.3" r="0.65" fill="#f8c090" opacity="0.6"/><circle cx="88.1" cy="610.7" r="0.83" fill="#b01818" opacity="0.55"/><circle cx="88.1" cy="610.7" r="0.56" fill="#f8c090" opacity="0.6"/><circle cx="69.0" cy="610.8" r="0.86" fill="#b01818" opacity="0.55"/><circle cx="69.0" cy="610.8" r="0.57" fill="#f8c090" opacity="0.6"/><circle cx="72.3" cy="610.0" r="0.93" fill="#b01818" opacity="0.55"/><circle cx="72.3" cy="610.0" r="0.62" fill="#f8c090" opacity="0.6"/><circle cx="75.5" cy="611.6" r="1.01" fill="#b01818" opacity="0.55"/><circle cx="75.5" cy="611.6" r="0.67" fill="#f8c090" opacity="0.6"/><circle cx="79.4" cy="611.7" r="1.10" fill="#b01818" opacity="0.55"/><circle cx="79.4" cy="611.7" r="0.73" fill="#f8c090" opacity="0.6"/><circle cx="82.7" cy="612.6" r="1.07" fill="#b01818" opacity="0.55"/><circle cx="82.7" cy="612.6" r="0.72" fill="#f8c090" opacity="0.6"/><circle cx="86.3" cy="612.5" r="0.99" fill="#b01818" opacity="0.55"/><circle cx="86.3" cy="612.5" r="0.66" fill="#f8c090" opacity="0.6"/><circle cx="89.6" cy="613.2" r="0.92" fill="#b01818" opacity="0.55"/><circle cx="89.6" cy="613.2" r="0.61" fill="#f8c090" opacity="0.6"/><circle cx="92.3" cy="614.6" r="0.85" fill="#b01818" opacity="0.55"/><circle cx="92.3" cy="614.6" r="0.57" fill="#f8c090" opacity="0.6"/><circle cx="64.3" cy="612.4" r="0.83" fill="#b01818" opacity="0.55"/><circle cx="64.3" cy="612.4" r="0.56" fill="#f8c090" opacity="0.6"/><circle cx="68.1" cy="612.6" r="0.90" fill="#b01818" opacity="0.55"/><circle cx="68.1" cy="612.6" r="0.60" fill="#f8c090" opacity="0.6"/><circle cx="70.6" cy="613.1" r="0.95" fill="#b01818" opacity="0.55"/><circle cx="70.6" cy="613.1" r="0.63" fill="#f8c090" opacity="0.6"/><circle cx="73.9" cy="614.1" r="1.01" fill="#b01818" opacity="0.55"/><circle cx="73.9" cy="614.1" r="0.67" fill="#f8c090" opacity="0.6"/><circle cx="76.6" cy="614.2" r="1.06" fill="#b01818" opacity="0.55"/><circle cx="76.6" cy="614.2" r="0.71" fill="#f8c090" opacity="0.6"/><circle cx="80.9" cy="614.8" r="1.11" fill="#b01818" opacity="0.55"/><circle cx="80.9" cy="614.8" r="0.74" fill="#f8c090" opacity="0.6"/><circle cx="83.3" cy="615.8" r="1.06" fill="#b01818" opacity="0.55"/><circle cx="83.3" cy="615.8" r="0.71" fill="#f8c090" opacity="0.6"/><circle cx="86.7" cy="616.2" r="1.00" fill="#b01818" opacity="0.55"/><circle cx="86.7" cy="616.2" r="0.67" fill="#f8c090" opacity="0.6"/><circle cx="90.4" cy="615.9" r="0.93" fill="#b01818" opacity="0.55"/><circle cx="90.4" cy="615.9" r="0.62" fill="#f8c090" opacity="0.6"/><circle cx="93.8" cy="616.6" r="0.87" fill="#b01818" opacity="0.55"/><circle cx="93.8" cy="616.6" r="0.58" fill="#f8c090" opacity="0.6"/><circle cx="61.2" cy="614.9" r="0.82" fill="#b01818" opacity="0.55"/><circle cx="61.2" cy="614.9" r="0.55" fill="#f8c090" opacity="0.6"/><circle cx="65.7" cy="615.1" r="0.90" fill="#b01818" opacity="0.55"/><circle cx="65.7" cy="615.1" r="0.60" fill="#f8c090" opacity="0.6"/><circle cx="68.8" cy="615.9" r="0.95" fill="#b01818" opacity="0.55"/><circle cx="68.8" cy="615.9" r="0.63" fill="#f8c090" opacity="0.6"/><circle cx="71.8" cy="617.1" r="1.00" fill="#b01818" opacity="0.55"/><circle cx="71.8" cy="617.1" r="0.67" fill="#f8c090" opacity="0.6"/><circle cx="74.8" cy="617.6" r="1.05" fill="#b01818" opacity="0.55"/><circle cx="74.8" cy="617.6" r="0.70" fill="#f8c090" opacity="0.6"/><circle cx="78.9" cy="618.0" r="1.12" fill="#b01818" opacity="0.55"/><circle cx="78.9" cy="618.0" r="0.74" fill="#f8c090" opacity="0.6"/><circle cx="81.3" cy="617.4" r="1.10" fill="#b01818" opacity="0.55"/><circle cx="81.3" cy="617.4" r="0.73" fill="#f8c090" opacity="0.6"/><circle cx="84.6" cy="618.4" r="1.04" fill="#b01818" opacity="0.55"/><circle cx="84.6" cy="618.4" r="0.69" fill="#f8c090" opacity="0.6"/><circle cx="89.3" cy="620.2" r="0.96" fill="#b01818" opacity="0.55"/><circle cx="89.3" cy="620.2" r="0.64" fill="#f8c090" opacity="0.6"/><circle cx="92.7" cy="619.4" r="0.91" fill="#b01818" opacity="0.55"/><circle cx="92.7" cy="619.4" r="0.61" fill="#f8c090" opacity="0.6"/><circle cx="95.6" cy="621.1" r="0.86" fill="#b01818" opacity="0.55"/><circle cx="95.6" cy="621.1" r="0.57" fill="#f8c090" opacity="0.6"/><circle cx="60.1" cy="617.9" r="0.83" fill="#b01818" opacity="0.55"/><circle cx="60.1" cy="617.9" r="0.56" fill="#f8c090" opacity="0.6"/><circle cx="62.5" cy="617.2" r="0.87" fill="#b01818" opacity="0.55"/><circle cx="62.5" cy="617.2" r="0.58" fill="#f8c090" opacity="0.6"/><circle cx="66.8" cy="618.9" r="0.94" fill="#b01818" opacity="0.55"/><circle cx="66.8" cy="618.9" r="0.63" fill="#f8c090" opacity="0.6"/><circle cx="70.4" cy="619.1" r="0.99" fill="#b01818" opacity="0.55"/><circle cx="70.4" cy="619.1" r="0.66" fill="#f8c090" opacity="0.6"/><circle cx="73.8" cy="619.1" r="1.04" fill="#b01818" opacity="0.55"/><circle cx="73.8" cy="619.1" r="0.70" fill="#f8c090" opacity="0.6"/><circle cx="77.1" cy="621.0" r="1.10" fill="#b01818" opacity="0.55"/><circle cx="77.1" cy="621.0" r="0.73" fill="#f8c090" opacity="0.6"/><circle cx="79.6" cy="620.0" r="1.12" fill="#b01818" opacity="0.55"/><circle cx="79.6" cy="620.0" r="0.74" fill="#f8c090" opacity="0.6"/><circle cx="83.2" cy="621.7" r="1.06" fill="#b01818" opacity="0.55"/><circle cx="83.2" cy="621.7" r="0.71" fill="#f8c090" opacity="0.6"/><circle cx="86.4" cy="621.2" r="1.01" fill="#b01818" opacity="0.55"/><circle cx="86.4" cy="621.2" r="0.68" fill="#f8c090" opacity="0.6"/><circle cx="89.4" cy="623.1" r="0.96" fill="#b01818" opacity="0.55"/><circle cx="89.4" cy="623.1" r="0.64" fill="#f8c090" opacity="0.6"/><circle cx="92.4" cy="623.8" r="0.92" fill="#b01818" opacity="0.55"/><circle cx="92.4" cy="623.8" r="0.61" fill="#f8c090" opacity="0.6"/><circle cx="96.2" cy="623.2" r="0.86" fill="#b01818" opacity="0.55"/><circle cx="96.2" cy="623.2" r="0.57" fill="#f8c090" opacity="0.6"/><circle cx="60.1" cy="621.2" r="0.85" fill="#b01818" opacity="0.55"/><circle cx="60.1" cy="621.2" r="0.57" fill="#f8c090" opacity="0.6"/><circle cx="64.9" cy="620.9" r="0.92" fill="#b01818" opacity="0.55"/><circle cx="64.9" cy="620.9" r="0.61" fill="#f8c090" opacity="0.6"/><circle cx="66.8" cy="621.8" r="0.95" fill="#b01818" opacity="0.55"/><circle cx="66.8" cy="621.8" r="0.63" fill="#f8c090" opacity="0.6"/><circle cx="71.7" cy="621.5" r="1.02" fill="#b01818" opacity="0.55"/><circle cx="71.7" cy="621.5" r="0.68" fill="#f8c090" opacity="0.6"/><circle cx="74.4" cy="623.5" r="1.06" fill="#b01818" opacity="0.55"/><circle cx="74.4" cy="623.5" r="0.71" fill="#f8c090" opacity="0.6"/><circle cx="77.5" cy="623.5" r="1.11" fill="#b01818" opacity="0.55"/><circle cx="77.5" cy="623.5" r="0.74" fill="#f8c090" opacity="0.6"/><circle cx="81.5" cy="623.7" r="1.08" fill="#b01818" opacity="0.55"/><circle cx="81.5" cy="623.7" r="0.72" fill="#f8c090" opacity="0.6"/><circle cx="83.9" cy="624.8" r="1.04" fill="#b01818" opacity="0.55"/><circle cx="83.9" cy="624.8" r="0.70" fill="#f8c090" opacity="0.6"/><circle cx="87.7" cy="625.3" r="0.99" fill="#b01818" opacity="0.55"/><circle cx="87.7" cy="625.3" r="0.66" fill="#f8c090" opacity="0.6"/><circle cx="90.6" cy="626.5" r="0.94" fill="#b01818" opacity="0.55"/><circle cx="90.6" cy="626.5" r="0.63" fill="#f8c090" opacity="0.6"/><circle cx="93.9" cy="626.6" r="0.89" fill="#b01818" opacity="0.55"/><circle cx="93.9" cy="626.6" r="0.60" fill="#f8c090" opacity="0.6"/><circle cx="98.4" cy="626.9" r="0.83" fill="#b01818" opacity="0.55"/><circle cx="98.4" cy="626.9" r="0.55" fill="#f8c090" opacity="0.6"/><circle cx="58.0" cy="622.5" r="0.83" fill="#b01818" opacity="0.55"/><circle cx="58.0" cy="622.5" r="0.55" fill="#f8c090" opacity="0.6"/><circle cx="61.4" cy="622.9" r="0.88" fill="#b01818" opacity="0.55"/><circle cx="61.4" cy="622.9" r="0.58" fill="#f8c090" opacity="0.6"/><circle cx="64.8" cy="623.9" r="0.93" fill="#b01818" opacity="0.55"/><circle cx="64.8" cy="623.9" r="0.62" fill="#f8c090" opacity="0.6"/><circle cx="68.5" cy="624.7" r="0.98" fill="#b01818" opacity="0.55"/><circle cx="68.5" cy="624.7" r="0.66" fill="#f8c090" opacity="0.6"/><circle cx="72.3" cy="625.8" r="1.04" fill="#b01818" opacity="0.55"/><circle cx="72.3" cy="625.8" r="0.69" fill="#f8c090" opacity="0.6"/><circle cx="75.8" cy="625.9" r="1.09" fill="#b01818" opacity="0.55"/><circle cx="75.8" cy="625.9" r="0.73" fill="#f8c090" opacity="0.6"/><circle cx="79.0" cy="626.7" r="1.11" fill="#b01818" opacity="0.55"/><circle cx="79.0" cy="626.7" r="0.74" fill="#f8c090" opacity="0.6"/><circle cx="81.5" cy="627.2" r="1.07" fill="#b01818" opacity="0.55"/><circle cx="81.5" cy="627.2" r="0.72" fill="#f8c090" opacity="0.6"/><circle cx="85.1" cy="628.0" r="1.02" fill="#b01818" opacity="0.55"/><circle cx="85.1" cy="628.0" r="0.68" fill="#f8c090" opacity="0.6"/><circle cx="89.3" cy="628.0" r="0.96" fill="#b01818" opacity="0.55"/><circle cx="89.3" cy="628.0" r="0.64" fill="#f8c090" opacity="0.6"/><circle cx="92.1" cy="628.9" r="0.92" fill="#b01818" opacity="0.55"/><circle cx="92.1" cy="628.9" r="0.61" fill="#f8c090" opacity="0.6"/><circle cx="95.3" cy="628.7" r="0.87" fill="#b01818" opacity="0.55"/><circle cx="95.3" cy="628.7" r="0.58" fill="#f8c090" opacity="0.6"/><circle cx="98.0" cy="630.9" r="0.83" fill="#b01818" opacity="0.55"/><circle cx="98.0" cy="630.9" r="0.55" fill="#f8c090" opacity="0.6"/><circle cx="60.3" cy="626.2" r="0.87" fill="#b01818" opacity="0.55"/><circle cx="60.3" cy="626.2" r="0.58" fill="#f8c090" opacity="0.6"/><circle cx="63.5" cy="626.5" r="0.92" fill="#b01818" opacity="0.55"/><circle cx="63.5" cy="626.5" r="0.61" fill="#f8c090" opacity="0.6"/><circle cx="66.8" cy="628.3" r="0.97" fill="#b01818" opacity="0.55"/><circle cx="66.8" cy="628.3" r="0.64" fill="#f8c090" opacity="0.6"/><circle cx="70.3" cy="628.1" r="1.02" fill="#b01818" opacity="0.55"/><circle cx="70.3" cy="628.1" r="0.68" fill="#f8c090" opacity="0.6"/><circle cx="73.9" cy="629.5" r="1.07" fill="#b01818" opacity="0.55"/><circle cx="73.9" cy="629.5" r="0.72" fill="#f8c090" opacity="0.6"/><circle cx="75.9" cy="628.9" r="1.10" fill="#b01818" opacity="0.55"/><circle cx="75.9" cy="628.9" r="0.73" fill="#f8c090" opacity="0.6"/><circle cx="79.9" cy="629.4" r="1.09" fill="#b01818" opacity="0.55"/><circle cx="79.9" cy="629.4" r="0.73" fill="#f8c090" opacity="0.6"/><circle cx="83.6" cy="629.8" r="1.03" fill="#b01818" opacity="0.55"/><circle cx="83.6" cy="629.8" r="0.69" fill="#f8c090" opacity="0.6"/><circle cx="86.9" cy="631.7" r="0.98" fill="#b01818" opacity="0.55"/><circle cx="86.9" cy="631.7" r="0.65" fill="#f8c090" opacity="0.6"/><circle cx="89.2" cy="631.8" r="0.95" fill="#b01818" opacity="0.55"/><circle cx="89.2" cy="631.8" r="0.63" fill="#f8c090" opacity="0.6"/><circle cx="92.9" cy="632.3" r="0.89" fill="#b01818" opacity="0.55"/><circle cx="92.9" cy="632.3" r="0.60" fill="#f8c090" opacity="0.6"/><circle cx="96.8" cy="633.6" r="0.83" fill="#b01818" opacity="0.55"/><circle cx="96.8" cy="633.6" r="0.55" fill="#f8c090" opacity="0.6"/><circle cx="58.2" cy="628.7" r="0.84" fill="#b01818" opacity="0.55"/><circle cx="58.2" cy="628.7" r="0.56" fill="#f8c090" opacity="0.6"/><circle cx="61.5" cy="628.9" r="0.89" fill="#b01818" opacity="0.55"/><circle cx="61.5" cy="628.9" r="0.59" fill="#f8c090" opacity="0.6"/><circle cx="64.7" cy="630.0" r="0.94" fill="#b01818" opacity="0.55"/><circle cx="64.7" cy="630.0" r="0.63" fill="#f8c090" opacity="0.6"/><circle cx="67.4" cy="630.1" r="0.98" fill="#b01818" opacity="0.55"/><circle cx="67.4" cy="630.1" r="0.65" fill="#f8c090" opacity="0.6"/><circle cx="70.5" cy="631.6" r="1.03" fill="#b01818" opacity="0.55"/><circle cx="70.5" cy="631.6" r="0.69" fill="#f8c090" opacity="0.6"/><circle cx="73.8" cy="631.3" r="1.08" fill="#b01818" opacity="0.55"/><circle cx="73.8" cy="631.3" r="0.72" fill="#f8c090" opacity="0.6"/><circle cx="77.3" cy="631.8" r="1.12" fill="#b01818" opacity="0.55"/><circle cx="77.3" cy="631.8" r="0.75" fill="#f8c090" opacity="0.6"/><circle cx="81.4" cy="633.2" r="1.06" fill="#b01818" opacity="0.55"/><circle cx="81.4" cy="633.2" r="0.70" fill="#f8c090" opacity="0.6"/><circle cx="84.6" cy="634.3" r="1.01" fill="#b01818" opacity="0.55"/><circle cx="84.6" cy="634.3" r="0.67" fill="#f8c090" opacity="0.6"/><circle cx="87.8" cy="633.4" r="0.96" fill="#b01818" opacity="0.55"/><circle cx="87.8" cy="633.4" r="0.64" fill="#f8c090" opacity="0.6"/><circle cx="90.6" cy="634.7" r="0.92" fill="#b01818" opacity="0.55"/><circle cx="90.6" cy="634.7" r="0.61" fill="#f8c090" opacity="0.6"/><circle cx="94.7" cy="636.1" r="0.85" fill="#b01818" opacity="0.55"/><circle cx="94.7" cy="636.1" r="0.57" fill="#f8c090" opacity="0.6"/><circle cx="58.9" cy="631.6" r="0.85" fill="#b01818" opacity="0.55"/><circle cx="58.9" cy="631.6" r="0.57" fill="#f8c090" opacity="0.6"/><circle cx="62.2" cy="633.4" r="0.90" fill="#b01818" opacity="0.55"/><circle cx="62.2" cy="633.4" r="0.60" fill="#f8c090" opacity="0.6"/><circle cx="65.1" cy="633.9" r="0.95" fill="#b01818" opacity="0.55"/><circle cx="65.1" cy="633.9" r="0.63" fill="#f8c090" opacity="0.6"/><circle cx="69.5" cy="634.1" r="1.02" fill="#b01818" opacity="0.55"/><circle cx="69.5" cy="634.1" r="0.68" fill="#f8c090" opacity="0.6"/><circle cx="72.3" cy="633.8" r="1.06" fill="#b01818" opacity="0.55"/><circle cx="72.3" cy="633.8" r="0.71" fill="#f8c090" opacity="0.6"/><circle cx="75.0" cy="634.1" r="1.10" fill="#b01818" opacity="0.55"/><circle cx="75.0" cy="634.1" r="0.73" fill="#f8c090" opacity="0.6"/><circle cx="79.0" cy="636.0" r="1.08" fill="#b01818" opacity="0.55"/><circle cx="79.0" cy="636.0" r="0.72" fill="#f8c090" opacity="0.6"/><circle cx="83.0" cy="636.5" r="1.02" fill="#b01818" opacity="0.55"/><circle cx="83.0" cy="636.5" r="0.68" fill="#f8c090" opacity="0.6"/><circle cx="86.5" cy="636.8" r="0.97" fill="#b01818" opacity="0.55"/><circle cx="86.5" cy="636.8" r="0.65" fill="#f8c090" opacity="0.6"/><circle cx="88.5" cy="636.5" r="0.94" fill="#b01818" opacity="0.55"/><circle cx="88.5" cy="636.5" r="0.63" fill="#f8c090" opacity="0.6"/><circle cx="91.9" cy="638.0" r="0.88" fill="#b01818" opacity="0.55"/><circle cx="91.9" cy="638.0" r="0.59" fill="#f8c090" opacity="0.6"/><circle cx="96.5" cy="638.4" r="0.81" fill="#b01818" opacity="0.55"/><circle cx="96.5" cy="638.4" r="0.54" fill="#f8c090" opacity="0.6"/><circle cx="59.5" cy="635.6" r="0.86" fill="#b01818" opacity="0.55"/><circle cx="59.5" cy="635.6" r="0.57" fill="#f8c090" opacity="0.6"/><circle cx="63.1" cy="635.9" r="0.92" fill="#b01818" opacity="0.55"/><circle cx="63.1" cy="635.9" r="0.61" fill="#f8c090" opacity="0.6"/><circle cx="66.0" cy="636.9" r="0.96" fill="#b01818" opacity="0.55"/><circle cx="66.0" cy="636.9" r="0.64" fill="#f8c090" opacity="0.6"/><circle cx="70.6" cy="637.6" r="1.04" fill="#b01818" opacity="0.55"/><circle cx="70.6" cy="637.6" r="0.69" fill="#f8c090" opacity="0.6"/><circle cx="74.1" cy="637.5" r="1.10" fill="#b01818" opacity="0.55"/><circle cx="74.1" cy="637.5" r="0.73" fill="#f8c090" opacity="0.6"/><circle cx="76.0" cy="637.7" r="1.12" fill="#b01818" opacity="0.55"/><circle cx="76.0" cy="637.7" r="0.75" fill="#f8c090" opacity="0.6"/><circle cx="80.7" cy="638.9" r="1.05" fill="#b01818" opacity="0.55"/><circle cx="80.7" cy="638.9" r="0.70" fill="#f8c090" opacity="0.6"/><circle cx="83.0" cy="638.7" r="1.01" fill="#b01818" opacity="0.55"/><circle cx="83.0" cy="638.7" r="0.67" fill="#f8c090" opacity="0.6"/><circle cx="86.2" cy="639.8" r="0.96" fill="#b01818" opacity="0.55"/><circle cx="86.2" cy="639.8" r="0.64" fill="#f8c090" opacity="0.6"/><circle cx="90.7" cy="641.3" r="0.88" fill="#b01818" opacity="0.55"/><circle cx="90.7" cy="641.3" r="0.59" fill="#f8c090" opacity="0.6"/><circle cx="93.8" cy="641.7" r="0.83" fill="#b01818" opacity="0.55"/><circle cx="93.8" cy="641.7" r="0.56" fill="#f8c090" opacity="0.6"/><circle cx="57.2" cy="638.2" r="0.81" fill="#b01818" opacity="0.55"/><circle cx="57.2" cy="638.2" r="0.54" fill="#f8c090" opacity="0.6"/><circle cx="60.7" cy="638.4" r="0.87" fill="#b01818" opacity="0.55"/><circle cx="60.7" cy="638.4" r="0.58" fill="#f8c090" opacity="0.6"/><circle cx="63.6" cy="639.6" r="0.92" fill="#b01818" opacity="0.55"/><circle cx="63.6" cy="639.6" r="0.62" fill="#f8c090" opacity="0.6"/><circle cx="67.2" cy="639.7" r="0.98" fill="#b01818" opacity="0.55"/><circle cx="67.2" cy="639.7" r="0.66" fill="#f8c090" opacity="0.6"/><circle cx="71.4" cy="640.5" r="1.06" fill="#b01818" opacity="0.55"/><circle cx="71.4" cy="640.5" r="0.70" fill="#f8c090" opacity="0.6"/><circle cx="74.9" cy="640.7" r="1.12" fill="#b01818" opacity="0.55"/><circle cx="74.9" cy="640.7" r="0.74" fill="#f8c090" opacity="0.6"/><circle cx="78.2" cy="642.2" r="1.07" fill="#b01818" opacity="0.55"/><circle cx="78.2" cy="642.2" r="0.72" fill="#f8c090" opacity="0.6"/><circle cx="81.3" cy="642.8" r="1.02" fill="#b01818" opacity="0.55"/><circle cx="81.3" cy="642.8" r="0.68" fill="#f8c090" opacity="0.6"/><circle cx="85.3" cy="641.9" r="0.96" fill="#b01818" opacity="0.55"/><circle cx="85.3" cy="641.9" r="0.64" fill="#f8c090" opacity="0.6"/><circle cx="88.3" cy="642.5" r="0.91" fill="#b01818" opacity="0.55"/><circle cx="88.3" cy="642.5" r="0.60" fill="#f8c090" opacity="0.6"/><circle cx="91.6" cy="643.6" r="0.85" fill="#b01818" opacity="0.55"/><circle cx="91.6" cy="643.6" r="0.57" fill="#f8c090" opacity="0.6"/><circle cx="59.7" cy="640.4" r="0.84" fill="#b01818" opacity="0.55"/><circle cx="59.7" cy="640.4" r="0.56" fill="#f8c090" opacity="0.6"/><circle cx="63.2" cy="641.0" r="0.91" fill="#b01818" opacity="0.55"/><circle cx="63.2" cy="641.0" r="0.60" fill="#f8c090" opacity="0.6"/><circle cx="65.1" cy="641.3" r="0.94" fill="#b01818" opacity="0.55"/><circle cx="65.1" cy="641.3" r="0.63" fill="#f8c090" opacity="0.6"/><circle cx="68.2" cy="643.5" r="1.00" fill="#b01818" opacity="0.55"/><circle cx="68.2" cy="643.5" r="0.67" fill="#f8c090" opacity="0.6"/><circle cx="72.8" cy="644.2" r="1.09" fill="#b01818" opacity="0.55"/><circle cx="72.8" cy="644.2" r="0.73" fill="#f8c090" opacity="0.6"/><circle cx="75.1" cy="644.2" r="1.12" fill="#b01818" opacity="0.55"/><circle cx="75.1" cy="644.2" r="0.75" fill="#f8c090" opacity="0.6"/><circle cx="79.5" cy="645.1" r="1.04" fill="#b01818" opacity="0.55"/><circle cx="79.5" cy="645.1" r="0.69" fill="#f8c090" opacity="0.6"/><circle cx="81.9" cy="645.9" r="0.99" fill="#b01818" opacity="0.55"/><circle cx="81.9" cy="645.9" r="0.66" fill="#f8c090" opacity="0.6"/><circle cx="86.1" cy="646.2" r="0.92" fill="#b01818" opacity="0.55"/><circle cx="86.1" cy="646.2" r="0.61" fill="#f8c090" opacity="0.6"/><circle cx="88.8" cy="646.1" r="0.87" fill="#b01818" opacity="0.55"/><circle cx="88.8" cy="646.1" r="0.58" fill="#f8c090" opacity="0.6"/><circle cx="60.5" cy="644.4" r="0.84" fill="#b01818" opacity="0.55"/><circle cx="60.5" cy="644.4" r="0.56" fill="#f8c090" opacity="0.6"/><circle cx="63.3" cy="645.5" r="0.90" fill="#b01818" opacity="0.55"/><circle cx="63.3" cy="645.5" r="0.60" fill="#f8c090" opacity="0.6"/><circle cx="66.6" cy="646.0" r="0.97" fill="#b01818" opacity="0.55"/><circle cx="66.6" cy="646.0" r="0.64" fill="#f8c090" opacity="0.6"/><circle cx="69.4" cy="645.9" r="1.02" fill="#b01818" opacity="0.55"/><circle cx="69.4" cy="645.9" r="0.68" fill="#f8c090" opacity="0.6"/><circle cx="74.0" cy="645.9" r="1.11" fill="#b01818" opacity="0.55"/><circle cx="74.0" cy="645.9" r="0.74" fill="#f8c090" opacity="0.6"/><circle cx="77.2" cy="646.9" r="1.07" fill="#b01818" opacity="0.55"/><circle cx="77.2" cy="646.9" r="0.71" fill="#f8c090" opacity="0.6"/><circle cx="80.4" cy="648.0" r="1.00" fill="#b01818" opacity="0.55"/><circle cx="80.4" cy="648.0" r="0.67" fill="#f8c090" opacity="0.6"/><circle cx="82.8" cy="649.0" r="0.95" fill="#b01818" opacity="0.55"/><circle cx="82.8" cy="649.0" r="0.63" fill="#f8c090" opacity="0.6"/><circle cx="86.6" cy="648.3" r="0.88" fill="#b01818" opacity="0.55"/><circle cx="86.6" cy="648.3" r="0.58" fill="#f8c090" opacity="0.6"/><circle cx="61.3" cy="646.7" r="0.82" fill="#b01818" opacity="0.55"/><circle cx="61.3" cy="646.7" r="0.55" fill="#f8c090" opacity="0.6"/><circle cx="63.9" cy="648.4" r="0.89" fill="#b01818" opacity="0.55"/><circle cx="63.9" cy="648.4" r="0.59" fill="#f8c090" opacity="0.6"/><circle cx="67.3" cy="648.6" r="0.97" fill="#b01818" opacity="0.55"/><circle cx="67.3" cy="648.6" r="0.64" fill="#f8c090" opacity="0.6"/><circle cx="72.0" cy="649.3" r="1.08" fill="#b01818" opacity="0.55"/><circle cx="72.0" cy="649.3" r="0.72" fill="#f8c090" opacity="0.6"/><circle cx="75.1" cy="650.5" r="1.09" fill="#b01818" opacity="0.55"/><circle cx="75.1" cy="650.5" r="0.73" fill="#f8c090" opacity="0.6"/><circle cx="77.6" cy="649.6" r="1.04" fill="#b01818" opacity="0.55"/><circle cx="77.6" cy="649.6" r="0.69" fill="#f8c090" opacity="0.6"/><circle cx="81.7" cy="651.7" r="0.93" fill="#b01818" opacity="0.55"/><circle cx="81.7" cy="651.7" r="0.62" fill="#f8c090" opacity="0.6"/><circle cx="85.2" cy="652.0" r="0.85" fill="#b01818" opacity="0.55"/><circle cx="85.2" cy="652.0" r="0.57" fill="#f8c090" opacity="0.6"/><circle cx="65.7" cy="652.0" r="0.89" fill="#b01818" opacity="0.55"/><circle cx="65.7" cy="652.0" r="0.59" fill="#f8c090" opacity="0.6"/><circle cx="69.5" cy="652.3" r="1.00" fill="#b01818" opacity="0.55"/><circle cx="69.5" cy="652.3" r="0.67" fill="#f8c090" opacity="0.6"/><circle cx="73.3" cy="651.8" r="1.12" fill="#b01818" opacity="0.55"/><circle cx="73.3" cy="651.8" r="0.75" fill="#f8c090" opacity="0.6"/><circle cx="76.2" cy="653.2" r="1.03" fill="#b01818" opacity="0.55"/><circle cx="76.2" cy="653.2" r="0.69" fill="#f8c090" opacity="0.6"/><circle cx="78.4" cy="653.0" r="0.97" fill="#b01818" opacity="0.55"/><circle cx="78.4" cy="653.0" r="0.64" fill="#f8c090" opacity="0.6"/><circle cx="82.9" cy="654.3" r="0.82" fill="#b01818" opacity="0.55"/><circle cx="82.9" cy="654.3" r="0.55" fill="#f8c090" opacity="0.6"/><circle cx="70.5" cy="654.7" r="0.95" fill="#b01818" opacity="0.55"/><circle cx="70.5" cy="654.7" r="0.63" fill="#f8c090" opacity="0.6"/><circle cx="73.6" cy="656.3" r="1.06" fill="#b01818" opacity="0.55"/><circle cx="73.6" cy="656.3" r="0.71" fill="#f8c090" opacity="0.6"/><circle cx="77.8" cy="656.4" r="0.77" fill="#b01818" opacity="0.55"/><circle cx="77.8" cy="656.4" r="0.51" fill="#f8c090" opacity="0.6"/></g><clipPath id="cs102"><path d="M137.0,611.1 C150.8,617.3 157.2,626.0 151.9,637.9 C145.9,651.3 126.5,657.4 117.0,655.9 C109.5,649.9 101.1,631.4 107.1,617.9 C112.4,606.1 123.1,604.9 137.0,611.1 Z"/></clipPath><path d="M137.0,611.1 C150.8,617.3 157.2,626.0 151.9,637.9 C145.9,651.3 126.5,657.4 117.0,655.9 C109.5,649.9 101.1,631.4 107.1,617.9 C112.4,606.1 123.1,604.9 137.0,611.1 Z" fill="url(#gStraw)"/><g clip-path="url(#cs102)"><circle cx="129.0" cy="609.1" r="0.82" fill="#b01818" opacity="0.55"/><circle cx="129.0" cy="609.1" r="0.55" fill="#f8c090" opacity="0.6"/><circle cx="132.1" cy="610.7" r="0.95" fill="#b01818" opacity="0.55"/><circle cx="132.1" cy="610.7" r="0.63" fill="#f8c090" opacity="0.6"/><circle cx="136.1" cy="611.8" r="1.11" fill="#b01818" opacity="0.55"/><circle cx="136.1" cy="611.8" r="0.74" fill="#f8c090" opacity="0.6"/><circle cx="139.1" cy="613.5" r="1.02" fill="#b01818" opacity="0.55"/><circle cx="139.1" cy="613.5" r="0.68" fill="#f8c090" opacity="0.6"/><circle cx="141.3" cy="614.4" r="0.92" fill="#b01818" opacity="0.55"/><circle cx="141.3" cy="614.4" r="0.62" fill="#f8c090" opacity="0.6"/><circle cx="123.9" cy="609.9" r="0.86" fill="#b01818" opacity="0.55"/><circle cx="123.9" cy="609.9" r="0.57" fill="#f8c090" opacity="0.6"/><circle cx="127.3" cy="611.8" r="0.94" fill="#b01818" opacity="0.55"/><circle cx="127.3" cy="611.8" r="0.63" fill="#f8c090" opacity="0.6"/><circle cx="130.0" cy="612.1" r="1.00" fill="#b01818" opacity="0.55"/><circle cx="130.0" cy="612.1" r="0.66" fill="#f8c090" opacity="0.6"/><circle cx="132.3" cy="614.2" r="1.06" fill="#b01818" opacity="0.55"/><circle cx="132.3" cy="614.2" r="0.71" fill="#f8c090" opacity="0.6"/><circle cx="136.4" cy="615.6" r="1.10" fill="#b01818" opacity="0.55"/><circle cx="136.4" cy="615.6" r="0.73" fill="#f8c090" opacity="0.6"/><circle cx="139.2" cy="616.7" r="1.03" fill="#b01818" opacity="0.55"/><circle cx="139.2" cy="616.7" r="0.69" fill="#f8c090" opacity="0.6"/><circle cx="141.9" cy="618.0" r="0.97" fill="#b01818" opacity="0.55"/><circle cx="141.9" cy="618.0" r="0.65" fill="#f8c090" opacity="0.6"/><circle cx="144.9" cy="619.4" r="0.90" fill="#b01818" opacity="0.55"/><circle cx="144.9" cy="619.4" r="0.60" fill="#f8c090" opacity="0.6"/><circle cx="148.7" cy="621.2" r="0.81" fill="#b01818" opacity="0.55"/><circle cx="148.7" cy="621.2" r="0.54" fill="#f8c090" opacity="0.6"/><circle cx="117.8" cy="609.6" r="0.81" fill="#b01818" opacity="0.55"/><circle cx="117.8" cy="609.6" r="0.54" fill="#f8c090" opacity="0.6"/><circle cx="120.6" cy="612.0" r="0.87" fill="#b01818" opacity="0.55"/><circle cx="120.6" cy="612.0" r="0.58" fill="#f8c090" opacity="0.6"/><circle cx="124.0" cy="613.6" r="0.94" fill="#b01818" opacity="0.55"/><circle cx="124.0" cy="613.6" r="0.63" fill="#f8c090" opacity="0.6"/><circle cx="127.2" cy="614.4" r="0.99" fill="#b01818" opacity="0.55"/><circle cx="127.2" cy="614.4" r="0.66" fill="#f8c090" opacity="0.6"/><circle cx="131.2" cy="615.7" r="1.07" fill="#b01818" opacity="0.55"/><circle cx="131.2" cy="615.7" r="0.71" fill="#f8c090" opacity="0.6"/><circle cx="132.9" cy="617.3" r="1.10" fill="#b01818" opacity="0.55"/><circle cx="132.9" cy="617.3" r="0.74" fill="#f8c090" opacity="0.6"/><circle cx="136.8" cy="618.7" r="1.07" fill="#b01818" opacity="0.55"/><circle cx="136.8" cy="618.7" r="0.72" fill="#f8c090" opacity="0.6"/><circle cx="139.8" cy="620.0" r="1.02" fill="#b01818" opacity="0.55"/><circle cx="139.8" cy="620.0" r="0.68" fill="#f8c090" opacity="0.6"/><circle cx="142.7" cy="622.2" r="0.96" fill="#b01818" opacity="0.55"/><circle cx="142.7" cy="622.2" r="0.64" fill="#f8c090" opacity="0.6"/><circle cx="146.3" cy="623.3" r="0.89" fill="#b01818" opacity="0.55"/><circle cx="146.3" cy="623.3" r="0.60" fill="#f8c090" opacity="0.6"/><circle cx="148.6" cy="624.9" r="0.85" fill="#b01818" opacity="0.55"/><circle cx="148.6" cy="624.9" r="0.56" fill="#f8c090" opacity="0.6"/><circle cx="115.0" cy="612.6" r="0.83" fill="#b01818" opacity="0.55"/><circle cx="115.0" cy="612.6" r="0.55" fill="#f8c090" opacity="0.6"/><circle cx="118.7" cy="614.3" r="0.89" fill="#b01818" opacity="0.55"/><circle cx="118.7" cy="614.3" r="0.59" fill="#f8c090" opacity="0.6"/><circle cx="121.0" cy="615.5" r="0.93" fill="#b01818" opacity="0.55"/><circle cx="121.0" cy="615.5" r="0.62" fill="#f8c090" opacity="0.6"/><circle cx="124.3" cy="617.3" r="0.99" fill="#b01818" opacity="0.55"/><circle cx="124.3" cy="617.3" r="0.66" fill="#f8c090" opacity="0.6"/><circle cx="127.7" cy="618.1" r="1.04" fill="#b01818" opacity="0.55"/><circle cx="127.7" cy="618.1" r="0.69" fill="#f8c090" opacity="0.6"/><circle cx="131.4" cy="619.7" r="1.10" fill="#b01818" opacity="0.55"/><circle cx="131.4" cy="619.7" r="0.73" fill="#f8c090" opacity="0.6"/><circle cx="133.3" cy="621.3" r="1.11" fill="#b01818" opacity="0.55"/><circle cx="133.3" cy="621.3" r="0.74" fill="#f8c090" opacity="0.6"/><circle cx="137.8" cy="621.9" r="1.05" fill="#b01818" opacity="0.55"/><circle cx="137.8" cy="621.9" r="0.70" fill="#f8c090" opacity="0.6"/><circle cx="139.1" cy="623.7" r="1.02" fill="#b01818" opacity="0.55"/><circle cx="139.1" cy="623.7" r="0.68" fill="#f8c090" opacity="0.6"/><circle cx="143.8" cy="624.9" r="0.94" fill="#b01818" opacity="0.55"/><circle cx="143.8" cy="624.9" r="0.63" fill="#f8c090" opacity="0.6"/><circle cx="145.7" cy="626.4" r="0.91" fill="#b01818" opacity="0.55"/><circle cx="145.7" cy="626.4" r="0.61" fill="#f8c090" opacity="0.6"/><circle cx="150.2" cy="627.5" r="0.84" fill="#b01818" opacity="0.55"/><circle cx="150.2" cy="627.5" r="0.56" fill="#f8c090" opacity="0.6"/><circle cx="112.2" cy="614.6" r="0.82" fill="#b01818" opacity="0.55"/><circle cx="112.2" cy="614.6" r="0.55" fill="#f8c090" opacity="0.6"/><circle cx="115.1" cy="615.5" r="0.87" fill="#b01818" opacity="0.55"/><circle cx="115.1" cy="615.5" r="0.58" fill="#f8c090" opacity="0.6"/><circle cx="118.1" cy="616.9" r="0.91" fill="#b01818" opacity="0.55"/><circle cx="118.1" cy="616.9" r="0.61" fill="#f8c090" opacity="0.6"/><circle cx="121.6" cy="617.7" r="0.96" fill="#b01818" opacity="0.55"/><circle cx="121.6" cy="617.7" r="0.64" fill="#f8c090" opacity="0.6"/><circle cx="124.9" cy="619.3" r="1.02" fill="#b01818" opacity="0.55"/><circle cx="124.9" cy="619.3" r="0.68" fill="#f8c090" opacity="0.6"/><circle cx="127.6" cy="620.5" r="1.06" fill="#b01818" opacity="0.55"/><circle cx="127.6" cy="620.5" r="0.70" fill="#f8c090" opacity="0.6"/><circle cx="131.0" cy="622.4" r="1.11" fill="#b01818" opacity="0.55"/><circle cx="131.0" cy="622.4" r="0.74" fill="#f8c090" opacity="0.6"/><circle cx="134.6" cy="624.1" r="1.08" fill="#b01818" opacity="0.55"/><circle cx="134.6" cy="624.1" r="0.72" fill="#f8c090" opacity="0.6"/><circle cx="137.1" cy="624.8" r="1.04" fill="#b01818" opacity="0.55"/><circle cx="137.1" cy="624.8" r="0.70" fill="#f8c090" opacity="0.6"/><circle cx="139.9" cy="627.1" r="0.99" fill="#b01818" opacity="0.55"/><circle cx="139.9" cy="627.1" r="0.66" fill="#f8c090" opacity="0.6"/><circle cx="143.0" cy="628.0" r="0.95" fill="#b01818" opacity="0.55"/><circle cx="143.0" cy="628.0" r="0.63" fill="#f8c090" opacity="0.6"/><circle cx="146.8" cy="630.4" r="0.88" fill="#b01818" opacity="0.55"/><circle cx="146.8" cy="630.4" r="0.59" fill="#f8c090" opacity="0.6"/><circle cx="149.4" cy="631.5" r="0.84" fill="#b01818" opacity="0.55"/><circle cx="149.4" cy="631.5" r="0.56" fill="#f8c090" opacity="0.6"/><circle cx="113.2" cy="617.5" r="0.86" fill="#b01818" opacity="0.55"/><circle cx="113.2" cy="617.5" r="0.57" fill="#f8c090" opacity="0.6"/><circle cx="115.5" cy="618.4" r="0.89" fill="#b01818" opacity="0.55"/><circle cx="115.5" cy="618.4" r="0.60" fill="#f8c090" opacity="0.6"/><circle cx="119.5" cy="620.6" r="0.96" fill="#b01818" opacity="0.55"/><circle cx="119.5" cy="620.6" r="0.64" fill="#f8c090" opacity="0.6"/><circle cx="122.3" cy="622.9" r="1.01" fill="#b01818" opacity="0.55"/><circle cx="122.3" cy="622.9" r="0.67" fill="#f8c090" opacity="0.6"/><circle cx="125.9" cy="623.6" r="1.05" fill="#b01818" opacity="0.55"/><circle cx="125.9" cy="623.6" r="0.70" fill="#f8c090" opacity="0.6"/><circle cx="127.7" cy="624.0" r="1.08" fill="#b01818" opacity="0.55"/><circle cx="127.7" cy="624.0" r="0.72" fill="#f8c090" opacity="0.6"/><circle cx="130.9" cy="626.1" r="1.12" fill="#b01818" opacity="0.55"/><circle cx="130.9" cy="626.1" r="0.75" fill="#f8c090" opacity="0.6"/><circle cx="134.5" cy="628.3" r="1.06" fill="#b01818" opacity="0.55"/><circle cx="134.5" cy="628.3" r="0.71" fill="#f8c090" opacity="0.6"/><circle cx="137.6" cy="629.7" r="1.01" fill="#b01818" opacity="0.55"/><circle cx="137.6" cy="629.7" r="0.67" fill="#f8c090" opacity="0.6"/><circle cx="140.9" cy="630.3" r="0.97" fill="#b01818" opacity="0.55"/><circle cx="140.9" cy="630.3" r="0.64" fill="#f8c090" opacity="0.6"/><circle cx="144.5" cy="631.5" r="0.92" fill="#b01818" opacity="0.55"/><circle cx="144.5" cy="631.5" r="0.61" fill="#f8c090" opacity="0.6"/><circle cx="147.2" cy="633.6" r="0.87" fill="#b01818" opacity="0.55"/><circle cx="147.2" cy="633.6" r="0.58" fill="#f8c090" opacity="0.6"/><circle cx="150.9" cy="634.0" r="0.82" fill="#b01818" opacity="0.55"/><circle cx="150.9" cy="634.0" r="0.55" fill="#f8c090" opacity="0.6"/><circle cx="109.2" cy="620.3" r="0.83" fill="#b01818" opacity="0.55"/><circle cx="109.2" cy="620.3" r="0.55" fill="#f8c090" opacity="0.6"/><circle cx="112.6" cy="620.9" r="0.87" fill="#b01818" opacity="0.55"/><circle cx="112.6" cy="620.9" r="0.58" fill="#f8c090" opacity="0.6"/><circle cx="116.4" cy="622.6" r="0.93" fill="#b01818" opacity="0.55"/><circle cx="116.4" cy="622.6" r="0.62" fill="#f8c090" opacity="0.6"/><circle cx="119.6" cy="624.9" r="0.98" fill="#b01818" opacity="0.55"/><circle cx="119.6" cy="624.9" r="0.66" fill="#f8c090" opacity="0.6"/><circle cx="122.4" cy="624.6" r="1.02" fill="#b01818" opacity="0.55"/><circle cx="122.4" cy="624.6" r="0.68" fill="#f8c090" opacity="0.6"/><circle cx="126.2" cy="626.9" r="1.08" fill="#b01818" opacity="0.55"/><circle cx="126.2" cy="626.9" r="0.72" fill="#f8c090" opacity="0.6"/><circle cx="128.5" cy="627.4" r="1.11" fill="#b01818" opacity="0.55"/><circle cx="128.5" cy="627.4" r="0.74" fill="#f8c090" opacity="0.6"/><circle cx="130.9" cy="629.3" r="1.10" fill="#b01818" opacity="0.55"/><circle cx="130.9" cy="629.3" r="0.73" fill="#f8c090" opacity="0.6"/><circle cx="134.5" cy="630.8" r="1.05" fill="#b01818" opacity="0.55"/><circle cx="134.5" cy="630.8" r="0.70" fill="#f8c090" opacity="0.6"/><circle cx="138.6" cy="632.5" r="0.98" fill="#b01818" opacity="0.55"/><circle cx="138.6" cy="632.5" r="0.66" fill="#f8c090" opacity="0.6"/><circle cx="142.1" cy="633.3" r="0.94" fill="#b01818" opacity="0.55"/><circle cx="142.1" cy="633.3" r="0.62" fill="#f8c090" opacity="0.6"/><circle cx="144.4" cy="635.6" r="0.89" fill="#b01818" opacity="0.55"/><circle cx="144.4" cy="635.6" r="0.60" fill="#f8c090" opacity="0.6"/><circle cx="148.3" cy="636.0" r="0.84" fill="#b01818" opacity="0.55"/><circle cx="148.3" cy="636.0" r="0.56" fill="#f8c090" opacity="0.6"/><circle cx="110.3" cy="623.3" r="0.86" fill="#b01818" opacity="0.55"/><circle cx="110.3" cy="623.3" r="0.57" fill="#f8c090" opacity="0.6"/><circle cx="113.6" cy="624.6" r="0.91" fill="#b01818" opacity="0.55"/><circle cx="113.6" cy="624.6" r="0.60" fill="#f8c090" opacity="0.6"/><circle cx="115.9" cy="626.4" r="0.94" fill="#b01818" opacity="0.55"/><circle cx="115.9" cy="626.4" r="0.63" fill="#f8c090" opacity="0.6"/><circle cx="120.1" cy="627.9" r="1.01" fill="#b01818" opacity="0.55"/><circle cx="120.1" cy="627.9" r="0.67" fill="#f8c090" opacity="0.6"/><circle cx="123.5" cy="629.1" r="1.06" fill="#b01818" opacity="0.55"/><circle cx="123.5" cy="629.1" r="0.70" fill="#f8c090" opacity="0.6"/><circle cx="125.1" cy="630.1" r="1.08" fill="#b01818" opacity="0.55"/><circle cx="125.1" cy="630.1" r="0.72" fill="#f8c090" opacity="0.6"/><circle cx="128.2" cy="631.6" r="1.12" fill="#b01818" opacity="0.55"/><circle cx="128.2" cy="631.6" r="0.75" fill="#f8c090" opacity="0.6"/><circle cx="132.5" cy="632.5" r="1.06" fill="#b01818" opacity="0.55"/><circle cx="132.5" cy="632.5" r="0.71" fill="#f8c090" opacity="0.6"/><circle cx="135.0" cy="633.3" r="1.03" fill="#b01818" opacity="0.55"/><circle cx="135.0" cy="633.3" r="0.68" fill="#f8c090" opacity="0.6"/><circle cx="137.5" cy="636.1" r="0.98" fill="#b01818" opacity="0.55"/><circle cx="137.5" cy="636.1" r="0.65" fill="#f8c090" opacity="0.6"/><circle cx="140.7" cy="637.4" r="0.93" fill="#b01818" opacity="0.55"/><circle cx="140.7" cy="637.4" r="0.62" fill="#f8c090" opacity="0.6"/><circle cx="144.1" cy="637.9" r="0.88" fill="#b01818" opacity="0.55"/><circle cx="144.1" cy="637.9" r="0.59" fill="#f8c090" opacity="0.6"/><circle cx="147.7" cy="639.5" r="0.83" fill="#b01818" opacity="0.55"/><circle cx="147.7" cy="639.5" r="0.55" fill="#f8c090" opacity="0.6"/><circle cx="108.5" cy="625.1" r="0.84" fill="#b01818" opacity="0.55"/><circle cx="108.5" cy="625.1" r="0.56" fill="#f8c090" opacity="0.6"/><circle cx="110.9" cy="626.1" r="0.88" fill="#b01818" opacity="0.55"/><circle cx="110.9" cy="626.1" r="0.58" fill="#f8c090" opacity="0.6"/><circle cx="113.1" cy="628.0" r="0.91" fill="#b01818" opacity="0.55"/><circle cx="113.1" cy="628.0" r="0.61" fill="#f8c090" opacity="0.6"/><circle cx="116.7" cy="629.2" r="0.97" fill="#b01818" opacity="0.55"/><circle cx="116.7" cy="629.2" r="0.65" fill="#f8c090" opacity="0.6"/><circle cx="120.6" cy="630.2" r="1.02" fill="#b01818" opacity="0.55"/><circle cx="120.6" cy="630.2" r="0.68" fill="#f8c090" opacity="0.6"/><circle cx="122.3" cy="632.1" r="1.06" fill="#b01818" opacity="0.55"/><circle cx="122.3" cy="632.1" r="0.70" fill="#f8c090" opacity="0.6"/><circle cx="127.3" cy="633.1" r="1.12" fill="#b01818" opacity="0.55"/><circle cx="127.3" cy="633.1" r="0.75" fill="#f8c090" opacity="0.6"/><circle cx="128.9" cy="635.6" r="1.09" fill="#b01818" opacity="0.55"/><circle cx="128.9" cy="635.6" r="0.73" fill="#f8c090" opacity="0.6"/><circle cx="132.6" cy="637.2" r="1.03" fill="#b01818" opacity="0.55"/><circle cx="132.6" cy="637.2" r="0.69" fill="#f8c090" opacity="0.6"/><circle cx="135.3" cy="638.4" r="0.99" fill="#b01818" opacity="0.55"/><circle cx="135.3" cy="638.4" r="0.66" fill="#f8c090" opacity="0.6"/><circle cx="138.0" cy="638.7" r="0.95" fill="#b01818" opacity="0.55"/><circle cx="138.0" cy="638.7" r="0.64" fill="#f8c090" opacity="0.6"/><circle cx="142.4" cy="640.5" r="0.89" fill="#b01818" opacity="0.55"/><circle cx="142.4" cy="640.5" r="0.59" fill="#f8c090" opacity="0.6"/><circle cx="144.8" cy="641.6" r="0.85" fill="#b01818" opacity="0.55"/><circle cx="144.8" cy="641.6" r="0.57" fill="#f8c090" opacity="0.6"/><circle cx="107.6" cy="629.0" r="0.84" fill="#b01818" opacity="0.55"/><circle cx="107.6" cy="629.0" r="0.56" fill="#f8c090" opacity="0.6"/><circle cx="112.0" cy="629.8" r="0.91" fill="#b01818" opacity="0.55"/><circle cx="112.0" cy="629.8" r="0.60" fill="#f8c090" opacity="0.6"/><circle cx="113.7" cy="631.7" r="0.94" fill="#b01818" opacity="0.55"/><circle cx="113.7" cy="631.7" r="0.63" fill="#f8c090" opacity="0.6"/><circle cx="117.4" cy="633.4" r="1.00" fill="#b01818" opacity="0.55"/><circle cx="117.4" cy="633.4" r="0.67" fill="#f8c090" opacity="0.6"/><circle cx="120.4" cy="634.9" r="1.05" fill="#b01818" opacity="0.55"/><circle cx="120.4" cy="634.9" r="0.70" fill="#f8c090" opacity="0.6"/><circle cx="123.9" cy="635.9" r="1.10" fill="#b01818" opacity="0.55"/><circle cx="123.9" cy="635.9" r="0.73" fill="#f8c090" opacity="0.6"/><circle cx="126.6" cy="636.1" r="1.12" fill="#b01818" opacity="0.55"/><circle cx="126.6" cy="636.1" r="0.74" fill="#f8c090" opacity="0.6"/><circle cx="130.0" cy="639.0" r="1.05" fill="#b01818" opacity="0.55"/><circle cx="130.0" cy="639.0" r="0.70" fill="#f8c090" opacity="0.6"/><circle cx="133.6" cy="639.5" r="1.00" fill="#b01818" opacity="0.55"/><circle cx="133.6" cy="639.5" r="0.67" fill="#f8c090" opacity="0.6"/><circle cx="136.0" cy="641.8" r="0.96" fill="#b01818" opacity="0.55"/><circle cx="136.0" cy="641.8" r="0.64" fill="#f8c090" opacity="0.6"/><circle cx="138.9" cy="641.4" r="0.92" fill="#b01818" opacity="0.55"/><circle cx="138.9" cy="641.4" r="0.61" fill="#f8c090" opacity="0.6"/><circle cx="141.8" cy="643.1" r="0.87" fill="#b01818" opacity="0.55"/><circle cx="141.8" cy="643.1" r="0.58" fill="#f8c090" opacity="0.6"/><circle cx="145.3" cy="645.8" r="0.81" fill="#b01818" opacity="0.55"/><circle cx="145.3" cy="645.8" r="0.54" fill="#f8c090" opacity="0.6"/><circle cx="108.7" cy="632.5" r="0.87" fill="#b01818" opacity="0.55"/><circle cx="108.7" cy="632.5" r="0.58" fill="#f8c090" opacity="0.6"/><circle cx="111.8" cy="634.4" r="0.92" fill="#b01818" opacity="0.55"/><circle cx="111.8" cy="634.4" r="0.61" fill="#f8c090" opacity="0.6"/><circle cx="114.1" cy="635.3" r="0.96" fill="#b01818" opacity="0.55"/><circle cx="114.1" cy="635.3" r="0.64" fill="#f8c090" opacity="0.6"/><circle cx="118.2" cy="635.8" r="1.02" fill="#b01818" opacity="0.55"/><circle cx="118.2" cy="635.8" r="0.68" fill="#f8c090" opacity="0.6"/><circle cx="121.1" cy="637.0" r="1.07" fill="#b01818" opacity="0.55"/><circle cx="121.1" cy="637.0" r="0.71" fill="#f8c090" opacity="0.6"/><circle cx="123.5" cy="639.3" r="1.11" fill="#b01818" opacity="0.55"/><circle cx="123.5" cy="639.3" r="0.74" fill="#f8c090" opacity="0.6"/><circle cx="126.2" cy="640.0" r="1.10" fill="#b01818" opacity="0.55"/><circle cx="126.2" cy="640.0" r="0.73" fill="#f8c090" opacity="0.6"/><circle cx="130.1" cy="641.2" r="1.03" fill="#b01818" opacity="0.55"/><circle cx="130.1" cy="641.2" r="0.69" fill="#f8c090" opacity="0.6"/><circle cx="132.5" cy="642.7" r="0.99" fill="#b01818" opacity="0.55"/><circle cx="132.5" cy="642.7" r="0.66" fill="#f8c090" opacity="0.6"/><circle cx="136.3" cy="643.6" r="0.94" fill="#b01818" opacity="0.55"/><circle cx="136.3" cy="643.6" r="0.62" fill="#f8c090" opacity="0.6"/><circle cx="139.1" cy="646.0" r="0.88" fill="#b01818" opacity="0.55"/><circle cx="139.1" cy="646.0" r="0.59" fill="#f8c090" opacity="0.6"/><circle cx="141.6" cy="647.3" r="0.84" fill="#b01818" opacity="0.55"/><circle cx="141.6" cy="647.3" r="0.56" fill="#f8c090" opacity="0.6"/><circle cx="104.9" cy="633.6" r="0.81" fill="#b01818" opacity="0.55"/><circle cx="104.9" cy="633.6" r="0.54" fill="#f8c090" opacity="0.6"/><circle cx="108.2" cy="635.8" r="0.87" fill="#b01818" opacity="0.55"/><circle cx="108.2" cy="635.8" r="0.58" fill="#f8c090" opacity="0.6"/><circle cx="112.2" cy="637.3" r="0.94" fill="#b01818" opacity="0.55"/><circle cx="112.2" cy="637.3" r="0.62" fill="#f8c090" opacity="0.6"/><circle cx="114.7" cy="637.7" r="0.97" fill="#b01818" opacity="0.55"/><circle cx="114.7" cy="637.7" r="0.65" fill="#f8c090" opacity="0.6"/><circle cx="118.5" cy="639.7" r="1.04" fill="#b01818" opacity="0.55"/><circle cx="118.5" cy="639.7" r="0.69" fill="#f8c090" opacity="0.6"/><circle cx="121.2" cy="641.3" r="1.09" fill="#b01818" opacity="0.55"/><circle cx="121.2" cy="641.3" r="0.73" fill="#f8c090" opacity="0.6"/><circle cx="123.8" cy="641.8" r="1.12" fill="#b01818" opacity="0.55"/><circle cx="123.8" cy="641.8" r="0.74" fill="#f8c090" opacity="0.6"/><circle cx="128.1" cy="643.7" r="1.04" fill="#b01818" opacity="0.55"/><circle cx="128.1" cy="643.7" r="0.70" fill="#f8c090" opacity="0.6"/><circle cx="131.2" cy="644.7" r="0.99" fill="#b01818" opacity="0.55"/><circle cx="131.2" cy="644.7" r="0.66" fill="#f8c090" opacity="0.6"/><circle cx="132.8" cy="646.0" r="0.96" fill="#b01818" opacity="0.55"/><circle cx="132.8" cy="646.0" r="0.64" fill="#f8c090" opacity="0.6"/><circle cx="136.2" cy="647.8" r="0.90" fill="#b01818" opacity="0.55"/><circle cx="136.2" cy="647.8" r="0.60" fill="#f8c090" opacity="0.6"/><circle cx="140.5" cy="648.6" r="0.83" fill="#b01818" opacity="0.55"/><circle cx="140.5" cy="648.6" r="0.55" fill="#f8c090" opacity="0.6"/><circle cx="106.0" cy="637.1" r="0.82" fill="#b01818" opacity="0.55"/><circle cx="106.0" cy="637.1" r="0.55" fill="#f8c090" opacity="0.6"/><circle cx="109.4" cy="639.5" r="0.89" fill="#b01818" opacity="0.55"/><circle cx="109.4" cy="639.5" r="0.59" fill="#f8c090" opacity="0.6"/><circle cx="112.6" cy="640.7" r="0.95" fill="#b01818" opacity="0.55"/><circle cx="112.6" cy="640.7" r="0.63" fill="#f8c090" opacity="0.6"/><circle cx="114.9" cy="641.5" r="0.99" fill="#b01818" opacity="0.55"/><circle cx="114.9" cy="641.5" r="0.66" fill="#f8c090" opacity="0.6"/><circle cx="118.5" cy="642.7" r="1.06" fill="#b01818" opacity="0.55"/><circle cx="118.5" cy="642.7" r="0.70" fill="#f8c090" opacity="0.6"/><circle cx="121.0" cy="644.3" r="1.11" fill="#b01818" opacity="0.55"/><circle cx="121.0" cy="644.3" r="0.74" fill="#f8c090" opacity="0.6"/><circle cx="125.4" cy="645.5" r="1.07" fill="#b01818" opacity="0.55"/><circle cx="125.4" cy="645.5" r="0.71" fill="#f8c090" opacity="0.6"/><circle cx="127.7" cy="646.4" r="1.02" fill="#b01818" opacity="0.55"/><circle cx="127.7" cy="646.4" r="0.68" fill="#f8c090" opacity="0.6"/><circle cx="130.6" cy="648.1" r="0.97" fill="#b01818" opacity="0.55"/><circle cx="130.6" cy="648.1" r="0.64" fill="#f8c090" opacity="0.6"/><circle cx="133.1" cy="649.7" r="0.92" fill="#b01818" opacity="0.55"/><circle cx="133.1" cy="649.7" r="0.61" fill="#f8c090" opacity="0.6"/><circle cx="136.5" cy="651.5" r="0.85" fill="#b01818" opacity="0.55"/><circle cx="136.5" cy="651.5" r="0.57" fill="#f8c090" opacity="0.6"/><circle cx="105.7" cy="640.9" r="0.81" fill="#b01818" opacity="0.55"/><circle cx="105.7" cy="640.9" r="0.54" fill="#f8c090" opacity="0.6"/><circle cx="110.4" cy="641.9" r="0.90" fill="#b01818" opacity="0.55"/><circle cx="110.4" cy="641.9" r="0.60" fill="#f8c090" opacity="0.6"/><circle cx="112.0" cy="644.1" r="0.95" fill="#b01818" opacity="0.55"/><circle cx="112.0" cy="644.1" r="0.63" fill="#f8c090" opacity="0.6"/><circle cx="115.6" cy="644.5" r="1.01" fill="#b01818" opacity="0.55"/><circle cx="115.6" cy="644.5" r="0.67" fill="#f8c090" opacity="0.6"/><circle cx="117.9" cy="646.5" r="1.07" fill="#b01818" opacity="0.55"/><circle cx="117.9" cy="646.5" r="0.71" fill="#f8c090" opacity="0.6"/><circle cx="121.3" cy="648.1" r="1.11" fill="#b01818" opacity="0.55"/><circle cx="121.3" cy="648.1" r="0.74" fill="#f8c090" opacity="0.6"/><circle cx="125.2" cy="648.5" r="1.04" fill="#b01818" opacity="0.55"/><circle cx="125.2" cy="648.5" r="0.69" fill="#f8c090" opacity="0.6"/><circle cx="128.5" cy="651.3" r="0.96" fill="#b01818" opacity="0.55"/><circle cx="128.5" cy="651.3" r="0.64" fill="#f8c090" opacity="0.6"/><circle cx="131.4" cy="652.1" r="0.90" fill="#b01818" opacity="0.55"/><circle cx="131.4" cy="652.1" r="0.60" fill="#f8c090" opacity="0.6"/><circle cx="134.3" cy="654.0" r="0.84" fill="#b01818" opacity="0.55"/><circle cx="134.3" cy="654.0" r="0.56" fill="#f8c090" opacity="0.6"/><circle cx="109.5" cy="644.9" r="0.87" fill="#b01818" opacity="0.55"/><circle cx="109.5" cy="644.9" r="0.58" fill="#f8c090" opacity="0.6"/><circle cx="113.3" cy="646.9" r="0.97" fill="#b01818" opacity="0.55"/><circle cx="113.3" cy="646.9" r="0.65" fill="#f8c090" opacity="0.6"/><circle cx="116.5" cy="649.1" r="1.05" fill="#b01818" opacity="0.55"/><circle cx="116.5" cy="649.1" r="0.70" fill="#f8c090" opacity="0.6"/><circle cx="119.3" cy="649.1" r="1.11" fill="#b01818" opacity="0.55"/><circle cx="119.3" cy="649.1" r="0.74" fill="#f8c090" opacity="0.6"/><circle cx="122.3" cy="651.2" r="1.06" fill="#b01818" opacity="0.55"/><circle cx="122.3" cy="651.2" r="0.71" fill="#f8c090" opacity="0.6"/><circle cx="125.2" cy="652.9" r="0.99" fill="#b01818" opacity="0.55"/><circle cx="125.2" cy="652.9" r="0.66" fill="#f8c090" opacity="0.6"/><circle cx="128.1" cy="654.4" r="0.91" fill="#b01818" opacity="0.55"/><circle cx="128.1" cy="654.4" r="0.61" fill="#f8c090" opacity="0.6"/><circle cx="131.9" cy="654.7" r="0.83" fill="#b01818" opacity="0.55"/><circle cx="131.9" cy="654.7" r="0.56" fill="#f8c090" opacity="0.6"/><circle cx="110.8" cy="648.6" r="0.87" fill="#b01818" opacity="0.55"/><circle cx="110.8" cy="648.6" r="0.58" fill="#f8c090" opacity="0.6"/><circle cx="113.5" cy="651.2" r="0.98" fill="#b01818" opacity="0.55"/><circle cx="113.5" cy="651.2" r="0.65" fill="#f8c090" opacity="0.6"/><circle cx="116.0" cy="650.9" r="1.04" fill="#b01818" opacity="0.55"/><circle cx="116.0" cy="650.9" r="0.69" fill="#f8c090" opacity="0.6"/><circle cx="119.8" cy="653.1" r="1.09" fill="#b01818" opacity="0.55"/><circle cx="119.8" cy="653.1" r="0.72" fill="#f8c090" opacity="0.6"/><circle cx="122.2" cy="654.7" r="1.00" fill="#b01818" opacity="0.55"/><circle cx="122.2" cy="654.7" r="0.67" fill="#f8c090" opacity="0.6"/><circle cx="125.6" cy="655.1" r="0.91" fill="#b01818" opacity="0.55"/><circle cx="125.6" cy="655.1" r="0.60" fill="#f8c090" opacity="0.6"/><circle cx="113.4" cy="654.2" r="0.86" fill="#b01818" opacity="0.55"/><circle cx="113.4" cy="654.2" r="0.57" fill="#f8c090" opacity="0.6"/><circle cx="117.7" cy="654.7" r="1.12" fill="#b01818" opacity="0.55"/><circle cx="117.7" cy="654.7" r="0.75" fill="#f8c090" opacity="0.6"/><circle cx="120.3" cy="656.3" r="0.92" fill="#b01818" opacity="0.55"/><circle cx="120.3" cy="656.3" r="0.61" fill="#f8c090" opacity="0.6"/></g><circle cx="94.5" cy="644.2" r="5" fill="#fbfbf4"/><circle cx="100.5" cy="648.6" r="5" fill="#fbfbf4"/><circle cx="98.2" cy="655.6" r="5" fill="#fbfbf4"/><circle cx="90.8" cy="655.6" r="5" fill="#fbfbf4"/><circle cx="88.5" cy="648.6" r="5" fill="#fbfbf4"/><circle cx="94.5" cy="650.5" r="4.3" fill="#d6c63c"/><ellipse cx="275" cy="664" rx="62" ry="5" fill="#c4c8d6" opacity="0.55" filter="url(#blur3)"/><path d="M201.4,626.2 L203.3,621.2 L206.6,621.0 L208.5,616.0 L211.7,615.9 L213.1,611.1 L216.2,610.1 L217.0,604.6 L220.1,603.6 L220.8,598.2 L224.0,597.2 L224.9,592.3 L227.8,592.0 L228.8,587.1 L231.7,586.9 L233.2,581.8 L236.8,581.6 L239.7,576.5 L243.3,576.3 L248.2,574.9 L249.8,577.4 L255.5,577.5 L255.4,580.7 L260.3,583.1 L260.2,586.4 L265.0,590.2 L263.1,592.9 L266.0,597.6 L264.2,600.4 L261.9,605.1 L258.9,604.7 L255.6,609.4 L252.7,608.0 L248.7,611.5 L245.8,610.1 L241.7,613.6 L238.8,612.2 L234.7,615.8 L232.1,614.3 L228.3,617.7 L225.6,616.2 L221.8,619.6 L219.2,618.1 L216.0,622.0 L213.3,620.8 L210.0,624.7 L207.3,623.5 L204.1,627.4 Z" fill="url(#gLeafL)"/><path d="M262.0,606.0 L205.0,622.0 M252.5,608.7 L241.4,601.9 M252.5,608.7 L246.5,620.2 M243.0,611.3 L230.5,599.6 M243.0,611.3 L238.4,627.9 M233.5,614.0 L220.5,600.5 M233.5,614.0 L229.4,632.3 M224.0,616.7 L211.5,604.9 M224.0,616.7 L219.4,633.2 M214.5,619.3 L203.4,612.6 M214.5,619.3 L208.5,630.9" stroke="#b8e090" stroke-width="0.7" fill="none" opacity="0.5"/><path d="M304.5,606.0 L306.4,601.1 L309.5,600.7 L313.0,595.9 L315.3,597.7 L319.7,595.2 L322.0,597.0 L327.4,597.9 L328.7,601.0 L334.3,602.9 L334.0,606.0 L338.3,608.9 L338.0,612.0 L341.4,616.1 L340.3,619.2 L340.2,624.7 L337.7,622.5 L332.5,624.2 L330.0,622.0 L325.3,622.8 L324.0,620.4 L319.3,621.2 L318.0,618.8 L312.9,619.1 L311.7,616.0 L306.3,615.1 L305.0,612.0 L302.7,608.0 Z" fill="url(#gLeafL)"/><path d="M305.0,610.0 L340.0,621.0 M313.8,612.8 L317.6,618.7 M313.8,612.8 L320.4,610.1 M322.5,615.5 L326.0,622.9 M322.5,615.5 L329.5,611.4 M331.2,618.2 L335.1,624.2 M331.2,618.2 L337.9,615.6" stroke="#b8e090" stroke-width="0.7" fill="none" opacity="0.5"/><path d="M229.0,628.0 L281.0,603.0 L319.0,628.0 L279.0,642.0 Z" fill="#8a1024" opacity="0.95"/><ellipse cx="229" cy="628" rx="13" ry="17" fill="url(#gRasp)"/><circle cx="223.2" cy="614.4" r="1.76" fill="url(#gDrupR)"/><circle cx="228.2" cy="615.6" r="2.03" fill="url(#gDrupR)"/><circle cx="232.3" cy="615.1" r="1.94" fill="url(#gDrupR)"/><circle cx="220.0" cy="618.9" r="1.83" fill="url(#gDrupR)"/><circle cx="225.1" cy="619.4" r="2.20" fill="url(#gDrupR)"/><circle cx="229.8" cy="619.2" r="2.26" fill="url(#gDrupR)"/><circle cx="234.4" cy="619.2" r="2.11" fill="url(#gDrupR)"/><circle cx="238.9" cy="618.7" r="1.72" fill="url(#gDrupR)"/><circle cx="219.0" cy="623.6" r="1.92" fill="url(#gDrupR)"/><circle cx="223.4" cy="623.2" r="2.27" fill="url(#gDrupR)"/><circle cx="227.2" cy="622.6" r="2.40" fill="url(#gDrupR)"/><circle cx="231.8" cy="622.4" r="2.36" fill="url(#gDrupR)"/><circle cx="237.1" cy="622.8" r="2.08" fill="url(#gDrupR)"/><circle cx="216.6" cy="627.4" r="1.71" fill="url(#gDrupR)"/><circle cx="219.9" cy="626.5" r="2.07" fill="url(#gDrupR)"/><circle cx="225.8" cy="626.9" r="2.44" fill="url(#gDrupR)"/><circle cx="230.5" cy="626.8" r="2.48" fill="url(#gDrupR)"/><circle cx="233.8" cy="627.1" r="2.38" fill="url(#gDrupR)"/><circle cx="239.4" cy="626.6" r="1.94" fill="url(#gDrupR)"/><circle cx="217.7" cy="630.7" r="1.82" fill="url(#gDrupR)"/><circle cx="223.5" cy="631.3" r="2.31" fill="url(#gDrupR)"/><circle cx="227.0" cy="630.6" r="2.46" fill="url(#gDrupR)"/><circle cx="231.5" cy="630.3" r="2.45" fill="url(#gDrupR)"/><circle cx="237.1" cy="630.5" r="2.14" fill="url(#gDrupR)"/><circle cx="241.4" cy="630.8" r="1.68" fill="url(#gDrupR)"/><circle cx="220.1" cy="635.1" r="1.94" fill="url(#gDrupR)"/><circle cx="224.7" cy="634.8" r="2.26" fill="url(#gDrupR)"/><circle cx="229.4" cy="634.6" r="2.37" fill="url(#gDrupR)"/><circle cx="235.0" cy="635.3" r="2.15" fill="url(#gDrupR)"/><circle cx="238.7" cy="635.4" r="1.84" fill="url(#gDrupR)"/><circle cx="223.4" cy="639.1" r="1.97" fill="url(#gDrupR)"/><circle cx="226.9" cy="639.6" r="2.07" fill="url(#gDrupR)"/><circle cx="231.7" cy="638.6" r="2.13" fill="url(#gDrupR)"/><circle cx="237.1" cy="638.6" r="1.82" fill="url(#gDrupR)"/><circle cx="225.0" cy="642.8" r="1.75" fill="url(#gDrupR)"/><circle cx="230.4" cy="642.8" r="1.82" fill="url(#gDrupR)"/><ellipse cx="246" cy="629" rx="16" ry="18" fill="url(#gRasp)"/><circle cx="236.3" cy="615.4" r="1.68" fill="url(#gDrupR)"/><circle cx="240.9" cy="615.2" r="1.90" fill="url(#gDrupR)"/><circle cx="245.9" cy="614.9" r="1.96" fill="url(#gDrupR)"/><circle cx="251.2" cy="614.3" r="1.83" fill="url(#gDrupR)"/><circle cx="254.7" cy="615.6" r="1.75" fill="url(#gDrupR)"/><circle cx="234.1" cy="618.9" r="1.74" fill="url(#gDrupR)"/><circle cx="238.7" cy="618.7" r="2.03" fill="url(#gDrupR)"/><circle cx="244.0" cy="618.5" r="2.19" fill="url(#gDrupR)"/><circle cx="248.7" cy="618.3" r="2.17" fill="url(#gDrupR)"/><circle cx="252.5" cy="619.4" r="2.10" fill="url(#gDrupR)"/><circle cx="257.5" cy="618.9" r="1.77" fill="url(#gDrupR)"/><circle cx="232.4" cy="622.9" r="1.77" fill="url(#gDrupR)"/><circle cx="236.7" cy="622.3" r="2.09" fill="url(#gDrupR)"/><circle cx="241.8" cy="623.6" r="2.36" fill="url(#gDrupR)"/><circle cx="246.8" cy="623.2" r="2.41" fill="url(#gDrupR)"/><circle cx="250.5" cy="622.8" r="2.33" fill="url(#gDrupR)"/><circle cx="255.6" cy="623.2" r="2.10" fill="url(#gDrupR)"/><circle cx="259.4" cy="622.6" r="1.78" fill="url(#gDrupR)"/><circle cx="235.0" cy="626.9" r="2.08" fill="url(#gDrupR)"/><circle cx="238.5" cy="627.4" r="2.30" fill="url(#gDrupR)"/><circle cx="243.7" cy="627.0" r="2.47" fill="url(#gDrupR)"/><circle cx="248.0" cy="626.8" r="2.47" fill="url(#gDrupR)"/><circle cx="252.8" cy="627.3" r="2.33" fill="url(#gDrupR)"/><circle cx="257.1" cy="627.0" r="2.07" fill="url(#gDrupR)"/><circle cx="231.9" cy="631.2" r="1.80" fill="url(#gDrupR)"/><circle cx="236.3" cy="630.6" r="2.17" fill="url(#gDrupR)"/><circle cx="241.3" cy="631.1" r="2.41" fill="url(#gDrupR)"/><circle cx="245.5" cy="630.9" r="2.49" fill="url(#gDrupR)"/><circle cx="250.3" cy="630.6" r="2.43" fill="url(#gDrupR)"/><circle cx="255.3" cy="631.6" r="2.19" fill="url(#gDrupR)"/><circle cx="259.9" cy="631.5" r="1.82" fill="url(#gDrupR)"/><circle cx="234.4" cy="634.5" r="1.96" fill="url(#gDrupR)"/><circle cx="239.5" cy="635.5" r="2.24" fill="url(#gDrupR)"/><circle cx="243.1" cy="634.6" r="2.39" fill="url(#gDrupR)"/><circle cx="248.8" cy="634.7" r="2.39" fill="url(#gDrupR)"/><circle cx="252.6" cy="634.2" r="2.28" fill="url(#gDrupR)"/><circle cx="257.0" cy="635.1" r="1.99" fill="url(#gDrupR)"/><circle cx="236.9" cy="638.2" r="1.99" fill="url(#gDrupR)"/><circle cx="241.3" cy="639.3" r="2.14" fill="url(#gDrupR)"/><circle cx="246.6" cy="639.1" r="2.22" fill="url(#gDrupR)"/><circle cx="250.3" cy="638.9" r="2.17" fill="url(#gDrupR)"/><circle cx="255.3" cy="639.1" r="1.93" fill="url(#gDrupR)"/><circle cx="238.9" cy="643.5" r="1.76" fill="url(#gDrupR)"/><circle cx="243.8" cy="643.1" r="1.94" fill="url(#gDrupR)"/><circle cx="248.7" cy="642.5" r="1.99" fill="url(#gDrupR)"/><circle cx="252.7" cy="642.5" r="1.85" fill="url(#gDrupR)"/><ellipse cx="319" cy="628" rx="19" ry="17" fill="url(#gRasp)"/><circle cx="307.3" cy="615.4" r="1.69" fill="url(#gDrupR)"/><circle cx="312.0" cy="615.3" r="1.89" fill="url(#gDrupR)"/><circle cx="316.7" cy="615.4" r="2.01" fill="url(#gDrupR)"/><circle cx="320.4" cy="615.5" r="2.02" fill="url(#gDrupR)"/><circle cx="325.3" cy="615.3" r="1.92" fill="url(#gDrupR)"/><circle cx="330.0" cy="614.9" r="1.69" fill="url(#gDrupR)"/><circle cx="305.0" cy="619.4" r="1.80" fill="url(#gDrupR)"/><circle cx="309.9" cy="619.2" r="2.07" fill="url(#gDrupR)"/><circle cx="313.9" cy="619.3" r="2.21" fill="url(#gDrupR)"/><circle cx="317.9" cy="619.2" r="2.26" fill="url(#gDrupR)"/><circle cx="322.9" cy="618.5" r="2.19" fill="url(#gDrupR)"/><circle cx="327.2" cy="619.0" r="2.09" fill="url(#gDrupR)"/><circle cx="331.9" cy="618.9" r="1.85" fill="url(#gDrupR)"/><circle cx="301.8" cy="622.9" r="1.70" fill="url(#gDrupR)"/><circle cx="306.5" cy="622.6" r="2.03" fill="url(#gDrupR)"/><circle cx="311.1" cy="622.8" r="2.26" fill="url(#gDrupR)"/><circle cx="315.5" cy="623.2" r="2.40" fill="url(#gDrupR)"/><circle cx="321.3" cy="622.8" r="2.40" fill="url(#gDrupR)"/><circle cx="325.6" cy="623.5" r="2.33" fill="url(#gDrupR)"/><circle cx="329.3" cy="622.5" r="2.15" fill="url(#gDrupR)"/><circle cx="334.9" cy="623.4" r="1.82" fill="url(#gDrupR)"/><circle cx="304.5" cy="627.4" r="1.99" fill="url(#gDrupR)"/><circle cx="309.7" cy="627.4" r="2.29" fill="url(#gDrupR)"/><circle cx="313.4" cy="627.4" r="2.42" fill="url(#gDrupR)"/><circle cx="318.2" cy="627.2" r="2.50" fill="url(#gDrupR)"/><circle cx="322.5" cy="627.6" r="2.47" fill="url(#gDrupR)"/><circle cx="327.7" cy="627.2" r="2.31" fill="url(#gDrupR)"/><circle cx="331.8" cy="627.1" r="2.10" fill="url(#gDrupR)"/><circle cx="336.9" cy="627.1" r="1.72" fill="url(#gDrupR)"/><circle cx="302.1" cy="631.2" r="1.78" fill="url(#gDrupR)"/><circle cx="306.7" cy="630.6" r="2.11" fill="url(#gDrupR)"/><circle cx="311.0" cy="631.2" r="2.32" fill="url(#gDrupR)"/><circle cx="315.6" cy="630.5" r="2.45" fill="url(#gDrupR)"/><circle cx="320.1" cy="631.1" r="2.47" fill="url(#gDrupR)"/><circle cx="325.4" cy="631.0" r="2.37" fill="url(#gDrupR)"/><circle cx="329.3" cy="630.8" r="2.22" fill="url(#gDrupR)"/><circle cx="334.3" cy="630.4" r="1.92" fill="url(#gDrupR)"/><circle cx="304.1" cy="634.6" r="1.83" fill="url(#gDrupR)"/><circle cx="308.9" cy="635.0" r="2.10" fill="url(#gDrupR)"/><circle cx="313.2" cy="634.9" r="2.28" fill="url(#gDrupR)"/><circle cx="318.2" cy="635.4" r="2.33" fill="url(#gDrupR)"/><circle cx="322.3" cy="634.7" r="2.34" fill="url(#gDrupR)"/><circle cx="327.6" cy="635.5" r="2.15" fill="url(#gDrupR)"/><circle cx="332.2" cy="634.9" r="1.93" fill="url(#gDrupR)"/><circle cx="307.5" cy="639.2" r="1.80" fill="url(#gDrupR)"/><circle cx="311.2" cy="639.1" r="1.98" fill="url(#gDrupR)"/><circle cx="316.6" cy="638.6" r="2.15" fill="url(#gDrupR)"/><circle cx="320.8" cy="638.7" r="2.15" fill="url(#gDrupR)"/><circle cx="324.9" cy="638.6" r="2.07" fill="url(#gDrupR)"/><circle cx="329.5" cy="638.7" r="1.89" fill="url(#gDrupR)"/><circle cx="313.8" cy="642.9" r="1.76" fill="url(#gDrupR)"/><circle cx="318.2" cy="642.6" r="1.85" fill="url(#gDrupR)"/><circle cx="322.9" cy="642.4" r="1.84" fill="url(#gDrupR)"/><circle cx="328.1" cy="642.3" r="1.68" fill="url(#gDrupR)"/><ellipse cx="281" cy="603" rx="22" ry="20.5" fill="url(#gRasp)"/><circle cx="270.0" cy="586.3" r="1.70" fill="url(#gDrupR)"/><circle cx="274.5" cy="586.1" r="1.83" fill="url(#gDrupR)"/><circle cx="280.4" cy="586.4" r="1.92" fill="url(#gDrupR)"/><circle cx="285.0" cy="586.4" r="1.90" fill="url(#gDrupR)"/><circle cx="289.0" cy="587.0" r="1.85" fill="url(#gDrupR)"/><circle cx="267.8" cy="590.9" r="1.88" fill="url(#gDrupR)"/><circle cx="272.8" cy="589.9" r="2.02" fill="url(#gDrupR)"/><circle cx="277.8" cy="589.9" r="2.12" fill="url(#gDrupR)"/><circle cx="281.7" cy="589.8" r="2.14" fill="url(#gDrupR)"/><circle cx="286.9" cy="589.9" r="2.08" fill="url(#gDrupR)"/><circle cx="291.2" cy="589.9" r="1.95" fill="url(#gDrupR)"/><circle cx="295.8" cy="590.7" r="1.79" fill="url(#gDrupR)"/><circle cx="266.0" cy="593.9" r="1.92" fill="url(#gDrupR)"/><circle cx="270.5" cy="594.1" r="2.13" fill="url(#gDrupR)"/><circle cx="275.6" cy="595.1" r="2.32" fill="url(#gDrupR)"/><circle cx="279.1" cy="594.0" r="2.32" fill="url(#gDrupR)"/><circle cx="284.6" cy="594.5" r="2.33" fill="url(#gDrupR)"/><circle cx="288.2" cy="594.7" r="2.26" fill="url(#gDrupR)"/><circle cx="294.1" cy="594.3" r="2.03" fill="url(#gDrupR)"/><circle cx="297.9" cy="594.5" r="1.84" fill="url(#gDrupR)"/><circle cx="263.8" cy="598.4" r="1.92" fill="url(#gDrupR)"/><circle cx="267.9" cy="598.3" r="2.14" fill="url(#gDrupR)"/><circle cx="272.2" cy="598.2" r="2.31" fill="url(#gDrupR)"/><circle cx="278.1" cy="598.6" r="2.44" fill="url(#gDrupR)"/><circle cx="281.7" cy="599.0" r="2.47" fill="url(#gDrupR)"/><circle cx="286.4" cy="598.1" r="2.40" fill="url(#gDrupR)"/><circle cx="290.6" cy="597.9" r="2.28" fill="url(#gDrupR)"/><circle cx="295.4" cy="598.1" r="2.08" fill="url(#gDrupR)"/><circle cx="300.9" cy="598.1" r="1.73" fill="url(#gDrupR)"/><circle cx="261.0" cy="602.6" r="1.77" fill="url(#gDrupR)"/><circle cx="266.5" cy="602.1" r="2.12" fill="url(#gDrupR)"/><circle cx="270.9" cy="602.2" r="2.31" fill="url(#gDrupR)"/><circle cx="275.2" cy="602.6" r="2.44" fill="url(#gDrupR)"/><circle cx="280.3" cy="602.8" r="2.50" fill="url(#gDrupR)"/><circle cx="284.3" cy="602.9" r="2.48" fill="url(#gDrupR)"/><circle cx="288.7" cy="602.3" r="2.39" fill="url(#gDrupR)"/><circle cx="294.1" cy="602.5" r="2.19" fill="url(#gDrupR)"/><circle cx="298.5" cy="602.2" r="1.95" fill="url(#gDrupR)"/><circle cx="263.6" cy="606.2" r="1.93" fill="url(#gDrupR)"/><circle cx="267.9" cy="605.9" r="2.17" fill="url(#gDrupR)"/><circle cx="272.4" cy="606.7" r="2.34" fill="url(#gDrupR)"/><circle cx="276.9" cy="606.1" r="2.45" fill="url(#gDrupR)"/><circle cx="281.9" cy="606.5" r="2.47" fill="url(#gDrupR)"/><circle cx="286.4" cy="606.8" r="2.42" fill="url(#gDrupR)"/><circle cx="290.9" cy="606.2" r="2.30" fill="url(#gDrupR)"/><circle cx="295.7" cy="605.9" r="2.09" fill="url(#gDrupR)"/><circle cx="300.0" cy="605.9" r="1.83" fill="url(#gDrupR)"/><circle cx="261.6" cy="609.9" r="1.72" fill="url(#gDrupR)"/><circle cx="266.1" cy="610.0" r="2.00" fill="url(#gDrupR)"/><circle cx="270.7" cy="610.6" r="2.19" fill="url(#gDrupR)"/><circle cx="274.9" cy="611.0" r="2.30" fill="url(#gDrupR)"/><circle cx="279.9" cy="610.5" r="2.38" fill="url(#gDrupR)"/><circle cx="283.7" cy="610.3" r="2.38" fill="url(#gDrupR)"/><circle cx="288.6" cy="610.3" r="2.28" fill="url(#gDrupR)"/><circle cx="294.1" cy="610.9" r="2.06" fill="url(#gDrupR)"/><circle cx="297.5" cy="610.6" r="1.89" fill="url(#gDrupR)"/><circle cx="268.7" cy="614.8" r="1.94" fill="url(#gDrupR)"/><circle cx="273.4" cy="613.8" r="2.15" fill="url(#gDrupR)"/><circle cx="277.8" cy="614.1" r="2.23" fill="url(#gDrupR)"/><circle cx="281.5" cy="614.2" r="2.24" fill="url(#gDrupR)"/><circle cx="286.7" cy="613.7" r="2.20" fill="url(#gDrupR)"/><circle cx="291.1" cy="614.8" r="2.03" fill="url(#gDrupR)"/><circle cx="295.8" cy="614.4" r="1.83" fill="url(#gDrupR)"/><circle cx="271.2" cy="618.0" r="1.86" fill="url(#gDrupR)"/><circle cx="275.8" cy="618.9" r="1.92" fill="url(#gDrupR)"/><circle cx="280.3" cy="618.8" r="1.98" fill="url(#gDrupR)"/><circle cx="284.2" cy="618.3" r="2.00" fill="url(#gDrupR)"/><circle cx="288.7" cy="619.0" r="1.86" fill="url(#gDrupR)"/><circle cx="292.9" cy="617.9" r="1.79" fill="url(#gDrupR)"/><circle cx="277.3" cy="622.6" r="1.68" fill="url(#gDrupR)"/><circle cx="282.6" cy="622.2" r="1.73" fill="url(#gDrupR)"/><circle cx="286.2" cy="621.7" r="1.72" fill="url(#gDrupR)"/><path d="M214.3,663.2 L216.5,658.7 L219.5,658.7 L221.6,654.2 L224.6,654.2 L227.7,649.7 L230.4,650.9 L234.1,647.4 L236.9,648.6 L240.5,645.2 L243.3,646.3 L248.1,645.2 L249.8,647.5 L254.5,646.4 L256.2,648.7 L260.1,652.1 L259.4,655.2 L255.8,658.8 L253.0,657.8 L249.4,661.3 L246.5,660.3 L242.4,663.8 L240.1,662.1 L236.0,664.7 L233.6,663.0 L229.5,665.7 L227.2,664.0 L222.7,665.7 L220.8,663.6 L216.2,665.3 Z" fill="url(#gLeafL)"/><path d="M259.0,655.0 L215.0,663.0 M250.2,656.6 L243.0,654.4 M250.2,656.6 L244.2,661.2 M241.4,658.2 L233.9,654.4 M241.4,658.2 L235.7,664.4 M232.6,659.8 L225.1,656.0 M232.6,659.8 L226.9,666.0 M223.8,661.4 L216.6,659.2 M223.8,661.4 L217.8,666.0" stroke="#b8e090" stroke-width="0.7" fill="none" opacity="0.5"/><path d="M298.0,657.2 L297.3,652.3 L299.8,650.9 L299.1,646.0 L301.6,644.6 L304.7,640.8 L307.4,641.7 L310.4,638.0 L313.1,638.8 L318.1,636.5 L318.5,639.2 L323.2,640.1 L323.6,642.8 L328.3,643.7 L328.7,646.4 L332.8,648.6 L332.3,651.3 L336.4,653.5 L335.9,656.2 L340.0,658.4 L339.5,661.1 L340.2,665.5 L338.1,663.6 L333.8,665.8 L331.8,663.8 L327.5,666.0 L325.5,664.1 L321.2,666.2 L319.2,664.3 L314.1,665.8 L313.0,663.2 L308.1,663.4 L307.0,660.8 L302.1,661.0 L301.0,658.4 Z" fill="url(#gLeafL)"/><path d="M298.0,655.0 L340.0,663.0 M306.4,656.6 L312.0,661.7 M306.4,656.6 L313.4,653.9 M314.8,658.2 L320.0,665.1 M314.8,658.2 L322.2,653.7 M323.2,659.8 L328.4,666.7 M323.2,659.8 L330.6,655.3 M331.6,661.4 L337.2,666.5 M331.6,661.4 L338.6,658.7" stroke="#b8e090" stroke-width="0.7" fill="none" opacity="0.5"/><ellipse cx="279" cy="642" rx="21.5" ry="20" fill="url(#gRasp)"/><circle cx="276.4" cy="622.7" r="1.67" fill="url(#gDrupR)"/><circle cx="268.9" cy="625.4" r="1.70" fill="url(#gDrupR)"/><circle cx="273.7" cy="625.8" r="1.87" fill="url(#gDrupR)"/><circle cx="278.3" cy="626.6" r="1.98" fill="url(#gDrupR)"/><circle cx="283.0" cy="625.9" r="1.90" fill="url(#gDrupR)"/><circle cx="287.9" cy="626.7" r="1.84" fill="url(#gDrupR)"/><circle cx="262.4" cy="630.3" r="1.68" fill="url(#gDrupR)"/><circle cx="266.4" cy="630.0" r="1.88" fill="url(#gDrupR)"/><circle cx="271.8" cy="629.4" r="2.06" fill="url(#gDrupR)"/><circle cx="275.4" cy="629.3" r="2.12" fill="url(#gDrupR)"/><circle cx="280.5" cy="630.4" r="2.20" fill="url(#gDrupR)"/><circle cx="285.2" cy="629.8" r="2.10" fill="url(#gDrupR)"/><circle cx="289.7" cy="629.5" r="1.94" fill="url(#gDrupR)"/><circle cx="294.9" cy="629.8" r="1.69" fill="url(#gDrupR)"/><circle cx="260.2" cy="633.7" r="1.68" fill="url(#gDrupR)"/><circle cx="265.0" cy="633.7" r="1.98" fill="url(#gDrupR)"/><circle cx="268.9" cy="633.4" r="2.14" fill="url(#gDrupR)"/><circle cx="274.2" cy="634.4" r="2.33" fill="url(#gDrupR)"/><circle cx="278.2" cy="633.4" r="2.34" fill="url(#gDrupR)"/><circle cx="282.8" cy="633.8" r="2.33" fill="url(#gDrupR)"/><circle cx="287.9" cy="634.5" r="2.23" fill="url(#gDrupR)"/><circle cx="292.3" cy="633.7" r="2.01" fill="url(#gDrupR)"/><circle cx="296.0" cy="634.5" r="1.83" fill="url(#gDrupR)"/><circle cx="262.1" cy="637.9" r="1.92" fill="url(#gDrupR)"/><circle cx="267.4" cy="637.3" r="2.20" fill="url(#gDrupR)"/><circle cx="270.7" cy="638.4" r="2.34" fill="url(#gDrupR)"/><circle cx="276.0" cy="637.9" r="2.45" fill="url(#gDrupR)"/><circle cx="280.9" cy="638.1" r="2.46" fill="url(#gDrupR)"/><circle cx="285.4" cy="637.6" r="2.38" fill="url(#gDrupR)"/><circle cx="289.1" cy="637.3" r="2.26" fill="url(#gDrupR)"/><circle cx="294.1" cy="638.1" r="2.04" fill="url(#gDrupR)"/><circle cx="298.7" cy="637.7" r="1.72" fill="url(#gDrupR)"/><circle cx="260.0" cy="642.2" r="1.81" fill="url(#gDrupR)"/><circle cx="264.5" cy="641.7" r="2.10" fill="url(#gDrupR)"/><circle cx="269.4" cy="642.3" r="2.33" fill="url(#gDrupR)"/><circle cx="274.1" cy="642.5" r="2.45" fill="url(#gDrupR)"/><circle cx="277.5" cy="642.2" r="2.50" fill="url(#gDrupR)"/><circle cx="282.6" cy="641.8" r="2.48" fill="url(#gDrupR)"/><circle cx="287.4" cy="641.4" r="2.36" fill="url(#gDrupR)"/><circle cx="291.7" cy="642.6" r="2.20" fill="url(#gDrupR)"/><circle cx="296.4" cy="642.5" r="1.93" fill="url(#gDrupR)"/><circle cx="261.8" cy="646.0" r="1.91" fill="url(#gDrupR)"/><circle cx="267.0" cy="645.7" r="2.20" fill="url(#gDrupR)"/><circle cx="270.7" cy="645.4" r="2.34" fill="url(#gDrupR)"/><circle cx="276.4" cy="646.2" r="2.45" fill="url(#gDrupR)"/><circle cx="280.0" cy="646.4" r="2.46" fill="url(#gDrupR)"/><circle cx="285.2" cy="645.7" r="2.40" fill="url(#gDrupR)"/><circle cx="290.2" cy="645.4" r="2.24" fill="url(#gDrupR)"/><circle cx="293.7" cy="645.7" r="2.06" fill="url(#gDrupR)"/><circle cx="299.2" cy="646.0" r="1.69" fill="url(#gDrupR)"/><circle cx="264.3" cy="650.3" r="1.94" fill="url(#gDrupR)"/><circle cx="268.3" cy="650.3" r="2.13" fill="url(#gDrupR)"/><circle cx="273.1" cy="650.1" r="2.29" fill="url(#gDrupR)"/><circle cx="278.7" cy="650.1" r="2.36" fill="url(#gDrupR)"/><circle cx="282.9" cy="650.0" r="2.33" fill="url(#gDrupR)"/><circle cx="287.7" cy="649.7" r="2.23" fill="url(#gDrupR)"/><circle cx="291.6" cy="650.0" r="2.06" fill="url(#gDrupR)"/><circle cx="296.6" cy="649.4" r="1.79" fill="url(#gDrupR)"/><circle cx="267.1" cy="653.6" r="1.93" fill="url(#gDrupR)"/><circle cx="271.8" cy="654.5" r="2.06" fill="url(#gDrupR)"/><circle cx="276.1" cy="653.7" r="2.18" fill="url(#gDrupR)"/><circle cx="280.2" cy="653.4" r="2.22" fill="url(#gDrupR)"/><circle cx="284.8" cy="654.6" r="2.09" fill="url(#gDrupR)"/><circle cx="289.1" cy="654.4" r="1.97" fill="url(#gDrupR)"/><circle cx="294.6" cy="654.3" r="1.71" fill="url(#gDrupR)"/><circle cx="269.0" cy="658.4" r="1.73" fill="url(#gDrupR)"/><circle cx="273.2" cy="657.4" r="1.92" fill="url(#gDrupR)"/><circle cx="278.7" cy="657.2" r="1.99" fill="url(#gDrupR)"/><circle cx="282.7" cy="657.7" r="1.93" fill="url(#gDrupR)"/><circle cx="287.9" cy="657.7" r="1.81" fill="url(#gDrupR)"/><circle cx="281.1" cy="661.4" r="1.67" fill="url(#gDrupR)"/><circle cx="278" cy="642" r="4.5" fill="#6a0a18" opacity="0.9" filter="url(#blur1)"/><ellipse cx="455" cy="655" rx="70" ry="5" fill="#c4c8d6" opacity="0.55" filter="url(#blur3)"/><path d="M406.4,622.4 L426.1,594.8 L445.9,589.5 L485.4,596.7 L520.0,625.0 L468.3,640.9 L435.4,635.6 Z" fill="#1c2854" opacity="0.95"/><circle cx="445.9" cy="589.5" r="8.5" fill="url(#gBlue)" /><ellipse cx="448.6" cy="590.7" rx="1.3" ry="1.3" fill="#a8c0e8" opacity="0.35"/><ellipse cx="446.0" cy="585.1" rx="1.9" ry="1.7" fill="#a8c0e8" opacity="0.35"/><ellipse cx="441.1" cy="591.0" rx="2.1" ry="1.1" fill="#a8c0e8" opacity="0.35"/><ellipse cx="442.7" cy="588.1" rx="2.0" ry="1.2" fill="#a8c0e8" opacity="0.35"/><path d="M447.7,587.1 L446.1,586.2 L444.6,587.3 L444.9,585.5 L443.4,584.3 L445.2,584.1 L445.8,582.3 L446.6,584.0 L448.5,584.0 L447.2,585.3 Z" fill="#141c40" opacity="0.9"/><circle cx="446" cy="585" r="3.2" fill="#2a3a70" opacity="0.5" filter="url(#blur1)"/><circle cx="426.1" cy="594.8" r="11.9" fill="url(#gBlue)" /><ellipse cx="426.6" cy="589.0" rx="2.5" ry="1.7" fill="#a8c0e8" opacity="0.35"/><ellipse cx="422.7" cy="588.0" rx="2.5" ry="2.4" fill="#a8c0e8" opacity="0.35"/><ellipse cx="431.2" cy="596.0" rx="2.1" ry="2.0" fill="#a8c0e8" opacity="0.35"/><ellipse cx="420.8" cy="590.3" rx="2.7" ry="2.5" fill="#a8c0e8" opacity="0.35"/><path d="M431.5,593.5 L428.9,593.5 L427.6,595.8 L426.9,593.3 L424.3,592.8 L426.4,591.3 L426.1,588.7 L428.2,590.3 L430.5,589.1 L429.7,591.6 Z" fill="#141c40" opacity="0.9"/><circle cx="428" cy="592" r="4.5" fill="#2a3a70" opacity="0.5" filter="url(#blur1)"/><circle cx="460.4" cy="596.1" r="14.5" fill="url(#gBlue)" /><ellipse cx="467.5" cy="600.6" rx="3.5" ry="2.0" fill="#a8c0e8" opacity="0.35"/><ellipse cx="461.7" cy="589.4" rx="4.0" ry="2.6" fill="#a8c0e8" opacity="0.35"/><ellipse cx="459.1" cy="588.3" rx="2.9" ry="1.9" fill="#a8c0e8" opacity="0.35"/><ellipse cx="463.3" cy="593.9" rx="3.4" ry="3.2" fill="#a8c0e8" opacity="0.35"/><path d="M461.2,592.8 L458.0,592.6 L456.4,595.4 L455.6,592.3 L452.4,591.7 L455.1,589.9 L454.8,586.7 L457.3,588.7 L460.2,587.4 L459.1,590.4 Z" fill="#141c40" opacity="0.9"/><circle cx="457" cy="590.8" r="5.5" fill="#2a3a70" opacity="0.5" filter="url(#blur1)"/><circle cx="485.4" cy="596.7" r="5" fill="#18204a"/><path d="M480.0,616.0 Q478.0,601.8 463.0,606.0 Q468.3,618.4 480.0,616.0 Z" fill="url(#gLeafL)"/><path d="M480.0,616.0 L463.0,606.0" stroke="#b8e090" stroke-width="0.6" opacity="0.5"/><path d="M468.0,616.0 Q491.4,621.5 503.0,597.0 Q477.6,596.2 468.0,616.0 Z" fill="url(#gLeafL)"/><path d="M468.0,616.0 L503.0,597.0" stroke="#b8e090" stroke-width="0.6" opacity="0.5"/><path d="M495.0,615.0 Q517.0,620.7 526.0,597.0 Q502.5,595.8 495.0,615.0 Z" fill="url(#gLeafL)"/><path d="M495.0,615.0 L526.0,597.0" stroke="#b8e090" stroke-width="0.6" opacity="0.5"/><ellipse cx="520" cy="625" rx="15.5" ry="17.5" fill="url(#gBlue)"/><circle cx="523" cy="613" r="4" fill="#18224a" opacity="0.85" filter="url(#blur1)"/><circle cx="406.4" cy="622.4" r="12.5" fill="url(#gBlue)" /><ellipse cx="404.0" cy="624.2" rx="3.0" ry="1.7" fill="#a8c0e8" opacity="0.35"/><ellipse cx="402.1" cy="622.9" rx="3.2" ry="1.7" fill="#a8c0e8" opacity="0.35"/><ellipse cx="409.2" cy="621.8" rx="2.0" ry="2.3" fill="#a8c0e8" opacity="0.35"/><ellipse cx="413.7" cy="621.7" rx="3.4" ry="1.7" fill="#a8c0e8" opacity="0.35"/><path d="M407.9,615.0 L405.2,615.4 L404.3,618.0 L403.0,615.5 L400.3,615.5 L402.3,613.6 L401.4,610.9 L403.9,612.2 L406.1,610.6 L405.7,613.3 Z" fill="#141c40" opacity="0.9"/><circle cx="404" cy="614" r="4.8" fill="#2a3a70" opacity="0.5" filter="url(#blur1)"/><circle cx="428.8" cy="610.6" r="13.8" fill="url(#gBlue)" /><ellipse cx="422.1" cy="613.5" rx="3.2" ry="2.3" fill="#a8c0e8" opacity="0.35"/><ellipse cx="430.8" cy="606.9" rx="4.1" ry="2.4" fill="#a8c0e8" opacity="0.35"/><ellipse cx="434.8" cy="614.9" rx="2.5" ry="3.0" fill="#a8c0e8" opacity="0.35"/><ellipse cx="427.2" cy="606.9" rx="4.1" ry="2.1" fill="#a8c0e8" opacity="0.35"/><path d="M435.6,616.1 L433.5,613.9 L430.6,614.8 L432.0,612.1 L430.3,609.6 L433.3,610.1 L435.1,607.7 L435.5,610.7 L438.4,611.7 L435.7,613.1 Z" fill="#141c40" opacity="0.9"/><circle cx="434" cy="612" r="5.2" fill="#2a3a70" opacity="0.5" filter="url(#blur1)"/><circle cx="459.1" cy="618.5" r="13.2" fill="url(#gBlue)" /><ellipse cx="463.5" cy="618.7" rx="3.4" ry="2.7" fill="#a8c0e8" opacity="0.35"/><ellipse cx="465.8" cy="613.4" rx="2.3" ry="1.9" fill="#a8c0e8" opacity="0.35"/><ellipse cx="452.7" cy="617.4" rx="2.4" ry="2.6" fill="#a8c0e8" opacity="0.35"/><ellipse cx="458.1" cy="625.1" rx="3.3" ry="2.0" fill="#a8c0e8" opacity="0.35"/><path d="M462.6,618.1 L459.8,617.7 L458.1,620.1 L457.6,617.3 L454.8,616.4 L457.4,615.0 L457.3,612.1 L459.4,614.1 L462.2,613.2 L460.9,615.8 Z" fill="#141c40" opacity="0.9"/><circle cx="459" cy="616" r="5.0" fill="#2a3a70" opacity="0.5" filter="url(#blur1)"/><circle cx="492.0" cy="627.7" r="14.5" fill="url(#gBlue)" /><ellipse cx="484.7" cy="627.4" rx="4.0" ry="2.1" fill="#a8c0e8" opacity="0.35"/><ellipse cx="495.9" cy="633.9" rx="2.9" ry="2.7" fill="#a8c0e8" opacity="0.35"/><ellipse cx="493.9" cy="625.0" rx="3.0" ry="2.0" fill="#a8c0e8" opacity="0.35"/><ellipse cx="487.9" cy="635.7" rx="2.6" ry="2.3" fill="#a8c0e8" opacity="0.35"/><path d="M496.5,619.1 L493.3,619.6 L492.3,622.6 L490.9,619.8 L487.7,619.8 L490.0,617.5 L489.0,614.5 L491.8,615.9 L494.4,614.1 L493.9,617.2 Z" fill="#141c40" opacity="0.9"/><circle cx="492" cy="618" r="5.5" fill="#2a3a70" opacity="0.5" filter="url(#blur1)"/><path d="M402.0,632.0 Q391.2,621.3 379.0,633.0 Q392.1,642.0 402.0,632.0 Z" fill="url(#gLeafL)"/><path d="M402.0,632.0 L379.0,633.0" stroke="#b8e090" stroke-width="0.6" opacity="0.5"/><path d="M422.0,642.0 Q402.2,631.2 388.0,652.0 Q409.9,657.2 422.0,642.0 Z" fill="url(#gLeafL)"/><path d="M422.0,642.0 L388.0,652.0" stroke="#b8e090" stroke-width="0.6" opacity="0.5"/><path d="M482.0,636.0 Q487.1,656.0 510.0,653.0 Q500.4,634.1 482.0,636.0 Z" fill="url(#gLeafL)"/><path d="M482.0,636.0 L510.0,653.0" stroke="#b8e090" stroke-width="0.6" opacity="0.5"/><circle cx="435.4" cy="635.6" r="17.1" fill="url(#gBlue)" /><ellipse cx="433.7" cy="644.9" rx="2.7" ry="3.4" fill="#a8c0e8" opacity="0.35"/><ellipse cx="435.2" cy="643.4" rx="4.7" ry="2.5" fill="#a8c0e8" opacity="0.35"/><ellipse cx="430.8" cy="625.8" rx="4.2" ry="2.6" fill="#a8c0e8" opacity="0.35"/><ellipse cx="440.3" cy="645.6" rx="3.3" ry="3.5" fill="#a8c0e8" opacity="0.35"/><path d="M436.9,629.9 L433.3,628.8 L430.7,631.5 L430.6,627.7 L427.2,626.0 L430.8,624.8 L431.4,621.1 L433.6,624.1 L437.3,623.5 L435.2,626.6 Z" fill="#141c40" opacity="0.9"/><circle cx="432.7" cy="626.4" r="6.5" fill="#2a3a70" opacity="0.5" filter="url(#blur1)"/><circle cx="468.3" cy="640.9" r="13.2" fill="url(#gBlue)" /><ellipse cx="465.7" cy="639.9" rx="3.9" ry="2.0" fill="#a8c0e8" opacity="0.35"/><ellipse cx="466.0" cy="638.0" rx="2.7" ry="2.5" fill="#a8c0e8" opacity="0.35"/><ellipse cx="472.4" cy="638.9" rx="2.4" ry="1.7" fill="#a8c0e8" opacity="0.35"/><ellipse cx="463.8" cy="641.1" rx="2.0" ry="1.8" fill="#a8c0e8" opacity="0.35"/><path d="M471.2,633.8 L468.4,632.9 L466.4,634.9 L466.4,632.0 L463.8,630.7 L466.6,629.8 L467.0,626.9 L468.7,629.2 L471.6,628.8 L469.9,631.2 Z" fill="#141c40" opacity="0.9"/><circle cx="468" cy="631" r="5.0" fill="#2a3a70" opacity="0.5" filter="url(#blur1)"/><ellipse cx="640" cy="662" rx="72" ry="5" fill="#c4c8d6" opacity="0.5" filter="url(#blur3)"/><path d="M583.6,585.5 L587.8,586.4 L587.4,589.0 L591.6,589.9 L591.2,592.6 L595.0,596.1 L594.0,599.3 L597.7,601.8 L596.6,604.4 L599.8,608.4 L597.3,609.4 L598.5,613.5 L596.0,614.5 L594.2,618.8 L591.2,618.3 L589.4,622.6 L586.4,622.1 L581.7,622.9 L580.2,620.2 L575.5,621.0 L574.0,618.3 L569.8,616.9 L570.2,614.0 L566.0,612.6 L566.4,609.8 L562.3,607.8 L563.1,605.0 L564.8,599.9 L568.3,599.3 L565.8,595.8 L567.8,594.0 L565.3,590.6 L567.4,588.8 L572.3,587.9 L574.0,590.7 L577.4,587.4 L580.8,587.6 Z" fill="url(#gLeafG2)"/><path d="M587.0,621.0 L580.0,588.0 M585.6,614.4 L589.3,608.4 M585.6,614.4 L579.8,610.5 M584.2,607.8 L590.2,601.4 M584.2,607.8 L576.1,604.3 M582.8,601.2 L588.8,594.8 M582.8,601.2 L574.7,597.7 M581.4,594.6 L585.1,588.6 M581.4,594.6 L575.6,590.7" stroke="#b8e090" stroke-width="0.7" fill="none" opacity="0.5"/><path d="M640.9,586.9 L644.1,583.5 L646.7,585.0 L648.4,581.9 L651.4,581.5 L651.9,576.9 L654.9,576.5 L655.4,571.9 L658.4,571.5 L662.9,570.4 L664.3,573.0 L669.5,572.9 L669.6,576.1 L674.4,577.7 L674.5,581.0 L679.1,583.5 L678.9,586.9 L683.1,584.7 L682.5,581.8 L686.8,579.6 L686.2,576.6 L690.5,576.0 L691.1,578.6 L696.0,580.1 L694.3,582.5 L697.4,585.9 L695.8,588.4 L698.9,591.5 L697.5,593.7 L700.9,596.3 L699.4,598.6 L702.8,601.8 L701.3,604.5 L703.4,609.5 L700.1,610.3 L697.5,615.6 L695.4,613.8 L692.2,616.8 L690.1,615.0 L686.9,618.0 L684.8,616.2 L680.5,617.0 L679.7,614.4 L675.4,615.2 L674.5,612.5 L670.3,613.4 L669.4,610.7 L665.1,611.5 L664.3,608.9 L659.9,610.3 L658.4,607.7 L654.0,609.1 L652.5,606.6 L647.3,606.8 L647.2,603.5 L642.4,601.9 L642.3,598.6 L639.6,594.9 L641.6,592.8 L638.9,589.1 Z" fill="url(#gLeafG2)"/><path d="M664.0,610.0 L660.0,575.0 M663.2,603.0 L667.5,597.2 M663.2,603.0 L657.7,598.3 M662.4,596.0 L669.0,589.9 M662.4,596.0 L654.6,591.6 M661.6,589.0 L668.2,582.9 M661.6,589.0 L653.8,584.6 M660.8,582.0 L665.1,576.2 M660.8,582.0 L655.3,577.3" stroke="#b8e090" stroke-width="0.7" fill="none" opacity="0.45"/><path d="M686.0,614.0 L690.0,580.0 M686.8,607.2 L692.3,602.7 M686.8,607.2 L682.5,601.5 M687.6,600.4 L695.4,596.1 M687.6,600.4 L681.0,594.5 M688.4,593.6 L696.2,589.3 M688.4,593.6 L681.8,587.7 M689.2,586.8 L694.7,582.3 M689.2,586.8 L684.9,581.1" stroke="#b8e090" stroke-width="0.7" fill="none" opacity="0.45"/><path d="M699.4,630.8 L703.2,628.7 L705.2,630.0 L709.0,628.0 L711.1,629.3 L715.2,630.0 L715.8,632.3 L719.9,632.9 L720.5,635.2 L724.7,636.6 L725.0,639.6 L727.3,644.4 L724.7,644.3 L722.2,648.1 L719.5,648.0 L717.6,651.6 L715.0,652.3 L713.7,656.5 L711.1,657.2 L707.0,656.6 L706.2,654.3 L702.0,652.2 L703.1,649.8 L700.5,646.3 L701.6,644.0 L699.2,640.2 L700.4,637.6 L698.2,633.4 Z" fill="url(#gLeaf)"/><path d="M576.5,632.5 L606.2,601.5 L621.0,593.4 L696.6,625.0 L687.9,647.3 L622.2,651.1 L582.7,649.8 Z" fill="#7a0a16" opacity="0.95"/><circle cx="591.2" cy="615.2" r="8.5" fill="url(#gCurrB)" /><circle cx="627.2" cy="639.2" r="8.5" fill="url(#gCurrB)" /><circle cx="679.2" cy="641.2" r="8.5" fill="url(#gCurrB)" /><circle cx="591.2" cy="643.2" r="8.5" fill="url(#gCurrB)" /><circle cx="681.2" cy="617.2" r="8.5" fill="url(#gCurrB)" /><circle cx="603.2" cy="627.2" r="8.5" fill="url(#gCurrB)" /><circle cx="661.2" cy="623.2" r="8.5" fill="url(#gCurrB)" /><circle cx="653.2" cy="645.2" r="8.5" fill="url(#gCurrB)" /><circle cx="621.2" cy="619.2" r="8.5" fill="url(#gCurrB)" /><circle cx="695.2" cy="637.2" r="8.5" fill="url(#gCurrB)" /><circle cx="663.2" cy="635.2" r="8.5" fill="url(#gCurrB)" /><circle cx="615.2" cy="643.2" r="8.5" fill="url(#gCurrB)" /><circle cx="641.2" cy="637.2" r="8.5" fill="url(#gCurrB)" /><circle cx="649.2" cy="603.2" r="8.5" fill="url(#gCurrB)" /><circle cx="581.2" cy="639.2" r="8.5" fill="url(#gCurrB)" /><circle cx="601.2" cy="637.2" r="8.5" fill="url(#gCurrB)" /><circle cx="683.2" cy="631.2" r="8.5" fill="url(#gCurrB)" /><circle cx="625.2" cy="629.2" r="8.5" fill="url(#gCurrB)" /><circle cx="631.2" cy="649.2" r="8.5" fill="url(#gCurrB)" /><circle cx="645.2" cy="623.2" r="8.5" fill="url(#gCurrB)" /><circle cx="671.2" cy="619.2" r="8.5" fill="url(#gCurrB)" /><circle cx="599.2" cy="607.2" r="8.5" fill="url(#gCurrB)" /><circle cx="627.2" cy="607.2" r="8.5" fill="url(#gCurrB)" /><circle cx="581.2" cy="625.2" r="8.5" fill="url(#gCurrB)" /><circle cx="639.2" cy="607.2" r="8.5" fill="url(#gCurrB)" /><circle cx="615.2" cy="599.2" r="8.5" fill="url(#gCurrB)" /><circle cx="657.2" cy="607.2" r="8.5" fill="url(#gCurrB)" /><circle cx="595.2" cy="623.2" r="8.5" fill="url(#gCurrB)" /><circle cx="611.2" cy="623.2" r="8.5" fill="url(#gCurrB)" /><circle cx="675.2" cy="649.2" r="8.5" fill="url(#gCurrB)" /><circle cx="595.2" cy="651.2" r="8.5" fill="url(#gCurrB)" /><circle cx="655.2" cy="617.2" r="8.5" fill="url(#gCurrB)" /><circle cx="625.2" cy="599.2" r="8.5" fill="url(#gCurrB)" /><circle cx="671.2" cy="637.2" r="8.5" fill="url(#gCurrB)" /><circle cx="687.2" cy="639.2" r="8.5" fill="url(#gCurrB)" /><circle cx="613.2" cy="651.2" r="8.5" fill="url(#gCurrB)" /><circle cx="609.2" cy="637.2" r="8.5" fill="url(#gCurrB)" /><circle cx="609.2" cy="607.2" r="8.5" fill="url(#gCurrB)" /><circle cx="587.2" cy="651.2" r="8.5" fill="url(#gCurrB)" /><circle cx="615.2" cy="615.2" r="8.5" fill="url(#gCurrB)" /><circle cx="599.2" cy="617.2" r="8.5" fill="url(#gCurrB)" /><circle cx="639.2" cy="619.2" r="8.5" fill="url(#gCurrB)" /><circle cx="587.2" cy="621.2" r="8.5" fill="url(#gCurrB)" /><circle cx="597.2" cy="631.2" r="8.5" fill="url(#gCurrB)" /><circle cx="631.2" cy="633.2" r="8.5" fill="url(#gCurrB)" /><circle cx="649.2" cy="639.2" r="8.5" fill="url(#gCurrB)" /><circle cx="657.2" cy="639.2" r="8.5" fill="url(#gCurrB)" /><circle cx="635.2" cy="641.2" r="8.5" fill="url(#gCurrB)" /><circle cx="623.2" cy="645.2" r="8.5" fill="url(#gCurrB)" /><circle cx="683.2" cy="647.2" r="8.5" fill="url(#gCurrB)" /><circle cx="645.2" cy="631.2" r="8.5" fill="url(#gCurrB)" /><circle cx="621.2" cy="635.2" r="8.5" fill="url(#gCurrB)" /><circle cx="679.2" cy="625.2" r="8.5" fill="url(#gCurrB)" /><circle cx="629.2" cy="623.2" r="8.5" fill="url(#gCurrB)" /><circle cx="620.6" cy="591.2" r="9.3" fill="url(#gCurr)" /><ellipse cx="617.6" cy="587.7" rx="2.2" ry="1.5" fill="#ffe4e4" opacity="0.85"/><ellipse cx="623.1" cy="587.4" rx="1.4" ry="1.1" fill="#ffe4e4" opacity="0.6"/><circle cx="604.8" cy="599.8" r="9.3" fill="url(#gCurr)" /><ellipse cx="601.8" cy="596.3" rx="2.2" ry="1.5" fill="#ffe4e4" opacity="0.85"/><ellipse cx="607.3" cy="596.0" rx="1.4" ry="1.1" fill="#ffe4e4" opacity="0.6"/><circle cx="633.8" cy="599.8" r="9.3" fill="url(#gCurr)" /><ellipse cx="630.8" cy="596.3" rx="2.2" ry="1.5" fill="#ffe4e4" opacity="0.85"/><ellipse cx="636.3" cy="596.0" rx="1.4" ry="1.1" fill="#ffe4e4" opacity="0.6"/><circle cx="618.0" cy="607.7" r="9.3" fill="url(#gCurr)" /><ellipse cx="615.0" cy="604.2" rx="2.2" ry="1.5" fill="#ffe4e4" opacity="0.85"/><ellipse cx="620.5" cy="603.9" rx="1.4" ry="1.1" fill="#ffe4e4" opacity="0.6"/><circle cx="665.4" cy="611.6" r="9.3" fill="url(#gCurr)" /><ellipse cx="662.4" cy="608.1" rx="2.2" ry="1.5" fill="#ffe4e4" opacity="0.85"/><ellipse cx="667.9" cy="607.8" rx="1.4" ry="1.1" fill="#ffe4e4" opacity="0.6"/><circle cx="647.0" cy="613.6" r="9.3" fill="url(#gCurr)" /><ellipse cx="644.0" cy="610.1" rx="2.2" ry="1.5" fill="#ffe4e4" opacity="0.85"/><ellipse cx="649.5" cy="609.8" rx="1.4" ry="1.1" fill="#ffe4e4" opacity="0.6"/><circle cx="606.1" cy="614.3" r="9.3" fill="url(#gCurr)" /><ellipse cx="603.1" cy="610.8" rx="2.2" ry="1.5" fill="#ffe4e4" opacity="0.85"/><ellipse cx="608.6" cy="610.5" rx="1.4" ry="1.1" fill="#ffe4e4" opacity="0.6"/><circle cx="632.5" cy="615.6" r="9.3" fill="url(#gCurr)" /><ellipse cx="629.5" cy="612.1" rx="2.2" ry="1.5" fill="#ffe4e4" opacity="0.85"/><ellipse cx="635.0" cy="611.8" rx="1.4" ry="1.1" fill="#ffe4e4" opacity="0.6"/><circle cx="691.8" cy="624.8" r="9.3" fill="url(#gCurr)" /><ellipse cx="688.8" cy="621.3" rx="2.2" ry="1.5" fill="#ffe4e4" opacity="0.85"/><ellipse cx="694.3" cy="621.0" rx="1.4" ry="1.1" fill="#ffe4e4" opacity="0.6"/><circle cx="701.0" cy="624.8" r="9.3" fill="url(#gCurr)" /><ellipse cx="698.0" cy="621.3" rx="2.2" ry="1.5" fill="#ffe4e4" opacity="0.85"/><ellipse cx="703.5" cy="621.0" rx="1.4" ry="1.1" fill="#ffe4e4" opacity="0.6"/><circle cx="635.1" cy="626.8" r="9.3" fill="url(#gCurr)" /><ellipse cx="632.1" cy="623.3" rx="2.2" ry="1.5" fill="#ffe4e4" opacity="0.85"/><ellipse cx="637.6" cy="623.0" rx="1.4" ry="1.1" fill="#ffe4e4" opacity="0.6"/><circle cx="673.3" cy="628.8" r="9.3" fill="url(#gCurr)" /><ellipse cx="670.3" cy="625.3" rx="2.2" ry="1.5" fill="#ffe4e4" opacity="0.85"/><ellipse cx="675.8" cy="625.0" rx="1.4" ry="1.1" fill="#ffe4e4" opacity="0.6"/><circle cx="589.0" cy="630.1" r="9.3" fill="url(#gCurr)" /><ellipse cx="586.0" cy="626.6" rx="2.2" ry="1.5" fill="#ffe4e4" opacity="0.85"/><ellipse cx="591.5" cy="626.3" rx="1.4" ry="1.1" fill="#ffe4e4" opacity="0.6"/><circle cx="615.4" cy="631.4" r="9.3" fill="url(#gCurr)" /><ellipse cx="612.4" cy="627.9" rx="2.2" ry="1.5" fill="#ffe4e4" opacity="0.85"/><ellipse cx="617.9" cy="627.6" rx="1.4" ry="1.1" fill="#ffe4e4" opacity="0.6"/><circle cx="652.3" cy="631.4" r="9.3" fill="url(#gCurr)" /><ellipse cx="649.3" cy="627.9" rx="2.2" ry="1.5" fill="#ffe4e4" opacity="0.85"/><ellipse cx="654.8" cy="627.6" rx="1.4" ry="1.1" fill="#ffe4e4" opacity="0.6"/><circle cx="573.2" cy="632.7" r="9.3" fill="url(#gCurr)" /><ellipse cx="570.2" cy="629.2" rx="2.2" ry="1.5" fill="#ffe4e4" opacity="0.85"/><ellipse cx="575.7" cy="628.9" rx="1.4" ry="1.1" fill="#ffe4e4" opacity="0.6"/><circle cx="603.5" cy="648.5" r="9.3" fill="url(#gCurr)" /><ellipse cx="600.5" cy="645.0" rx="2.2" ry="1.5" fill="#ffe4e4" opacity="0.85"/><ellipse cx="606.0" cy="644.7" rx="1.4" ry="1.1" fill="#ffe4e4" opacity="0.6"/><circle cx="641.7" cy="648.5" r="9.3" fill="url(#gCurr)" /><ellipse cx="638.7" cy="645.0" rx="2.2" ry="1.5" fill="#ffe4e4" opacity="0.85"/><ellipse cx="644.2" cy="644.7" rx="1.4" ry="1.1" fill="#ffe4e4" opacity="0.6"/><circle cx="665.4" cy="648.5" r="9.3" fill="url(#gCurr)" /><ellipse cx="662.4" cy="645.0" rx="2.2" ry="1.5" fill="#ffe4e4" opacity="0.85"/><ellipse cx="667.9" cy="644.7" rx="1.4" ry="1.1" fill="#ffe4e4" opacity="0.6"/><circle cx="691.8" cy="648.5" r="9.3" fill="url(#gCurr)" /><ellipse cx="688.8" cy="645.0" rx="2.2" ry="1.5" fill="#ffe4e4" opacity="0.85"/><ellipse cx="694.3" cy="644.7" rx="1.4" ry="1.1" fill="#ffe4e4" opacity="0.6"/><circle cx="579.8" cy="651.2" r="9.3" fill="url(#gCurr)" /><ellipse cx="576.8" cy="647.7" rx="2.2" ry="1.5" fill="#ffe4e4" opacity="0.85"/><ellipse cx="582.3" cy="647.4" rx="1.4" ry="1.1" fill="#ffe4e4" opacity="0.6"/><circle cx="621.9" cy="652.5" r="9.3" fill="url(#gCurr)" /><ellipse cx="618.9" cy="649.0" rx="2.2" ry="1.5" fill="#ffe4e4" opacity="0.85"/><ellipse cx="624.4" cy="648.7" rx="1.4" ry="1.1" fill="#ffe4e4" opacity="0.6"/><ellipse cx="825" cy="664" rx="62" ry="5" fill="#c4c8d6" opacity="0.6" filter="url(#blur3)"/><path d="M778.0,598.0 L778.5,593.8 L780.7,592.7 L782.5,588.3 L784.7,589.0 L787.8,586.3 L790.0,587.0 L794.5,586.0 L796.7,587.7 L801.7,587.5 L802.3,589.7 L806.3,590.8 L807.0,593.0 L809.3,596.7 L808.3,599.0 L809.6,603.6 L807.5,604.2 L806.6,608.1 L804.5,608.8 L802.1,612.5 L800.2,611.2 L796.6,613.0 L794.8,611.8 L790.4,612.7 L789.0,610.3 L784.4,609.4 L783.0,607.0 L779.6,603.8 L779.7,601.0 Z" fill="url(#gLeafB)"/><path d="M825.0,596.0 L825.9,591.4 L828.3,590.0 L830.3,585.3 L832.5,585.8 L835.3,582.8 L837.5,583.2 L841.0,580.6 L843.0,581.9 L847.0,580.3 L849.0,581.6 L853.7,580.9 L854.7,583.3 L859.0,584.6 L860.0,587.0 L862.7,590.5 L862.0,593.0 L863.6,597.6 L861.3,598.7 L860.3,603.0 L858.0,604.0 L854.7,606.2 L852.8,605.2 L849.5,607.4 L847.6,606.4 L843.8,608.2 L842.4,606.6 L838.6,607.4 L837.2,605.8 L833.4,606.6 L832.0,605.0 L828.5,602.8 L828.5,600.5 L825.0,598.3 Z" fill="url(#gLeafB)"/><path d="M860.0,610.0 L862.7,606.6 L865.3,606.7 L868.8,603.5 L870.5,604.8 L873.8,603.0 L875.5,604.2 L879.6,603.5 L880.0,605.5 L883.6,606.5 L884.0,608.5 L886.4,611.6 L884.0,612.3 L882.4,616.3 L880.0,617.0 L877.1,619.4 L875.2,618.6 L872.3,621.0 L870.4,620.2 L866.5,621.7 L865.7,619.7 L861.8,619.1 L861.0,617.0 L859.0,612.7 Z" fill="url(#gLeaf)"/><path d="M756.0,627.0 L757.0,623.4 L759.0,623.0 L760.0,619.4 L762.0,619.0 L765.2,616.9 L767.0,618.0 L770.2,615.9 L772.0,617.0 L775.6,618.2 L776.0,620.3 L779.5,622.9 L778.1,624.6 L779.7,628.0 L778.4,629.7 L780.0,633.2 L778.7,634.9 L780.3,638.3 L779.0,640.0 L779.2,643.8 L777.4,644.8 L777.6,648.6 L775.8,649.6 L775.4,653.6 L773.2,654.0 L771.9,657.6 L769.8,658.0 L766.5,660.8 L765.3,658.7 L761.2,658.2 L760.0,656.0 L758.0,652.6 L759.0,650.5 L757.0,647.1 L758.0,645.0 L758.1,641.3 L760.0,640.5 L760.1,636.8 L762.0,636.0 L758.8,633.7 L759.0,631.5 L755.8,629.2 Z" fill="url(#gLeafF)"/><path d="M858.0,640.0 L859.7,636.3 L862.0,636.0 L863.7,632.3 L866.0,632.0 L869.8,629.9 L872.0,631.0 L875.8,628.9 L878.0,630.0 L882.4,630.0 L884.0,632.0 L888.4,632.0 L890.0,634.0 L892.3,637.7 L891.3,640.0 L892.5,644.7 L890.2,645.2 L889.0,649.2 L886.8,649.8 L884.4,653.6 L882.4,652.8 L879.2,655.2 L877.2,654.4 L874.0,656.8 L872.0,656.0 L867.6,656.0 L866.0,654.0 L861.6,654.0 L860.0,652.0 L857.9,648.2 L859.0,646.0 L856.9,642.2 Z" fill="url(#gLeafB)"/><path d="M856.0,658.0 L858.8,655.7 L860.7,656.3 L863.5,654.0 L865.3,654.7 L868.2,652.4 L870.0,653.0 L873.9,652.3 L875.6,653.8 L879.5,653.1 L881.2,654.6 L885.5,655.1 L885.3,657.0 L888.2,659.1 L888.0,661.0 L885.1,663.5 L883.0,663.0 L880.1,665.5 L878.0,665.0 L874.3,666.0 L872.7,664.7 L869.0,665.6 L867.3,664.3 L863.6,665.3 L862.0,664.0 L858.5,662.2 L858.0,660.0 Z" fill="url(#gLeaf)"/><path d="M806.0,608.0 L780.0,592.0 M799.5,604.0 L798.6,596.8 M799.5,604.0 L792.6,606.4 M793.0,600.0 L793.0,591.2 M793.0,600.0 L785.2,604.0 M786.5,596.0 L785.6,588.8 M786.5,596.0 L779.6,598.4" stroke="#b0d890" stroke-width="0.7" fill="none" opacity="0.4"/><path d="M832.0,604.0 L860.0,585.0 M839.0,599.2 L846.7,601.6 M839.0,599.2 L839.7,591.2 M846.0,594.5 L854.8,598.5 M846.0,594.5 L845.6,584.8 M853.0,589.8 L860.7,592.1 M853.0,589.8 L853.7,581.7" stroke="#b0d890" stroke-width="0.7" fill="none" opacity="0.4"/><path d="M860.0,650.0 L890.0,637.0 M867.5,646.8 L874.3,650.0 M867.5,646.8 L869.7,639.6 M875.0,643.5 L882.5,648.4 M875.0,643.5 L876.5,634.7 M882.5,640.2 L889.3,643.5 M882.5,640.2 L884.7,633.1" stroke="#b0d890" stroke-width="0.7" fill="none" opacity="0.4"/><path d="M784.8,623.7 L816.8,601.4 L855.7,621.0 L839.0,646.0 L802.9,647.4 Z" fill="#120e1a" opacity="1.0"/><ellipse cx="816.8" cy="601.4" rx="14" ry="10.8" fill="#0e0c14"/><circle cx="818.5" cy="591.0" r="1.89" fill="url(#gDrupB)"/><circle cx="817.9" cy="590.5" r="0.60" fill="#b8c0dc" opacity="0.55"/><circle cx="810.4" cy="595.4" r="2.30" fill="url(#gDrupB)"/><circle cx="809.8" cy="594.7" r="0.73" fill="#b8c0dc" opacity="0.55"/><circle cx="815.3" cy="595.7" r="2.52" fill="url(#gDrupB)"/><circle cx="814.5" cy="595.0" r="0.81" fill="#b8c0dc" opacity="0.55"/><circle cx="821.5" cy="594.3" r="2.27" fill="url(#gDrupB)"/><circle cx="820.8" cy="593.7" r="0.73" fill="#b8c0dc" opacity="0.55"/><circle cx="825.3" cy="595.1" r="2.11" fill="url(#gDrupB)"/><circle cx="824.6" cy="594.5" r="0.68" fill="#b8c0dc" opacity="0.55"/><circle cx="803.5" cy="599.3" r="1.88" fill="url(#gDrupB)"/><circle cx="802.9" cy="598.8" r="0.60" fill="#b8c0dc" opacity="0.55"/><circle cx="807.5" cy="599.4" r="2.34" fill="url(#gDrupB)"/><circle cx="806.8" cy="598.7" r="0.75" fill="#b8c0dc" opacity="0.55"/><circle cx="812.4" cy="599.1" r="2.66" fill="url(#gDrupB)"/><circle cx="811.6" cy="598.3" r="0.85" fill="#b8c0dc" opacity="0.55"/><circle cx="818.2" cy="599.5" r="2.76" fill="url(#gDrupB)"/><circle cx="817.3" cy="598.7" r="0.88" fill="#b8c0dc" opacity="0.55"/><circle cx="823.0" cy="599.1" r="2.56" fill="url(#gDrupB)"/><circle cx="822.2" cy="598.3" r="0.82" fill="#b8c0dc" opacity="0.55"/><circle cx="828.1" cy="599.5" r="2.13" fill="url(#gDrupB)"/><circle cx="827.5" cy="598.8" r="0.68" fill="#b8c0dc" opacity="0.55"/><circle cx="805.1" cy="603.2" r="2.08" fill="url(#gDrupB)"/><circle cx="804.4" cy="602.6" r="0.67" fill="#b8c0dc" opacity="0.55"/><circle cx="811.0" cy="604.1" r="2.57" fill="url(#gDrupB)"/><circle cx="810.3" cy="603.3" r="0.82" fill="#b8c0dc" opacity="0.55"/><circle cx="815.9" cy="603.5" r="2.76" fill="url(#gDrupB)"/><circle cx="815.1" cy="602.7" r="0.88" fill="#b8c0dc" opacity="0.55"/><circle cx="821.6" cy="604.5" r="2.60" fill="url(#gDrupB)"/><circle cx="820.8" cy="603.8" r="0.83" fill="#b8c0dc" opacity="0.55"/><circle cx="825.4" cy="603.7" r="2.38" fill="url(#gDrupB)"/><circle cx="824.7" cy="603.0" r="0.76" fill="#b8c0dc" opacity="0.55"/><circle cx="808.6" cy="608.3" r="2.06" fill="url(#gDrupB)"/><circle cx="808.0" cy="607.7" r="0.66" fill="#b8c0dc" opacity="0.55"/><circle cx="813.6" cy="608.7" r="2.30" fill="url(#gDrupB)"/><circle cx="812.9" cy="608.0" r="0.74" fill="#b8c0dc" opacity="0.55"/><circle cx="818.0" cy="608.6" r="2.36" fill="url(#gDrupB)"/><circle cx="817.2" cy="607.9" r="0.76" fill="#b8c0dc" opacity="0.55"/><circle cx="824.0" cy="609.0" r="2.06" fill="url(#gDrupB)"/><circle cx="823.4" cy="608.4" r="0.66" fill="#b8c0dc" opacity="0.55"/><ellipse cx="784.8" cy="623.7" rx="13.2" ry="18" fill="#0e0c14"/><circle cx="782.4" cy="606.1" r="1.83" fill="url(#gDrupB)"/><circle cx="781.9" cy="605.5" r="0.58" fill="#b8c0dc" opacity="0.55"/><circle cx="779.7" cy="610.9" r="2.16" fill="url(#gDrupB)"/><circle cx="779.0" cy="610.3" r="0.69" fill="#b8c0dc" opacity="0.55"/><circle cx="785.2" cy="610.2" r="2.25" fill="url(#gDrupB)"/><circle cx="784.5" cy="609.6" r="0.72" fill="#b8c0dc" opacity="0.55"/><circle cx="789.5" cy="609.8" r="2.09" fill="url(#gDrupB)"/><circle cx="788.9" cy="609.2" r="0.67" fill="#b8c0dc" opacity="0.55"/><circle cx="776.6" cy="615.2" r="2.20" fill="url(#gDrupB)"/><circle cx="775.9" cy="614.6" r="0.70" fill="#b8c0dc" opacity="0.55"/><circle cx="781.9" cy="614.7" r="2.51" fill="url(#gDrupB)"/><circle cx="781.2" cy="614.0" r="0.80" fill="#b8c0dc" opacity="0.55"/><circle cx="786.6" cy="613.9" r="2.49" fill="url(#gDrupB)"/><circle cx="785.9" cy="613.1" r="0.80" fill="#b8c0dc" opacity="0.55"/><circle cx="791.9" cy="614.1" r="2.23" fill="url(#gDrupB)"/><circle cx="791.3" cy="613.4" r="0.71" fill="#b8c0dc" opacity="0.55"/><circle cx="774.4" cy="618.6" r="2.12" fill="url(#gDrupB)"/><circle cx="773.8" cy="618.0" r="0.68" fill="#b8c0dc" opacity="0.55"/><circle cx="779.9" cy="619.5" r="2.61" fill="url(#gDrupB)"/><circle cx="779.2" cy="618.8" r="0.84" fill="#b8c0dc" opacity="0.55"/><circle cx="784.8" cy="619.7" r="2.75" fill="url(#gDrupB)"/><circle cx="784.0" cy="618.9" r="0.88" fill="#b8c0dc" opacity="0.55"/><circle cx="790.0" cy="619.5" r="2.59" fill="url(#gDrupB)"/><circle cx="789.3" cy="618.8" r="0.83" fill="#b8c0dc" opacity="0.55"/><circle cx="794.6" cy="619.8" r="2.22" fill="url(#gDrupB)"/><circle cx="793.9" cy="619.2" r="0.71" fill="#b8c0dc" opacity="0.55"/><circle cx="772.3" cy="623.0" r="1.92" fill="url(#gDrupB)"/><circle cx="771.7" cy="622.4" r="0.61" fill="#b8c0dc" opacity="0.55"/><circle cx="777.1" cy="623.9" r="2.47" fill="url(#gDrupB)"/><circle cx="776.4" cy="623.1" r="0.79" fill="#b8c0dc" opacity="0.55"/><circle cx="781.8" cy="623.6" r="2.75" fill="url(#gDrupB)"/><circle cx="781.0" cy="622.8" r="0.88" fill="#b8c0dc" opacity="0.55"/><circle cx="787.0" cy="624.2" r="2.77" fill="url(#gDrupB)"/><circle cx="786.2" cy="623.4" r="0.89" fill="#b8c0dc" opacity="0.55"/><circle cx="792.2" cy="624.1" r="2.49" fill="url(#gDrupB)"/><circle cx="791.5" cy="623.3" r="0.80" fill="#b8c0dc" opacity="0.55"/><circle cx="797.1" cy="624.1" r="1.94" fill="url(#gDrupB)"/><circle cx="796.6" cy="623.6" r="0.62" fill="#b8c0dc" opacity="0.55"/><circle cx="774.8" cy="627.9" r="2.18" fill="url(#gDrupB)"/><circle cx="774.1" cy="627.3" r="0.70" fill="#b8c0dc" opacity="0.55"/><circle cx="779.4" cy="628.7" r="2.56" fill="url(#gDrupB)"/><circle cx="778.7" cy="627.9" r="0.82" fill="#b8c0dc" opacity="0.55"/><circle cx="784.8" cy="628.0" r="2.74" fill="url(#gDrupB)"/><circle cx="784.0" cy="627.2" r="0.88" fill="#b8c0dc" opacity="0.55"/><circle cx="789.2" cy="627.7" r="2.64" fill="url(#gDrupB)"/><circle cx="788.4" cy="626.9" r="0.85" fill="#b8c0dc" opacity="0.55"/><circle cx="795.1" cy="627.5" r="2.16" fill="url(#gDrupB)"/><circle cx="794.4" cy="626.8" r="0.69" fill="#b8c0dc" opacity="0.55"/><circle cx="777.4" cy="632.2" r="2.27" fill="url(#gDrupB)"/><circle cx="776.7" cy="631.5" r="0.73" fill="#b8c0dc" opacity="0.55"/><circle cx="782.6" cy="632.8" r="2.52" fill="url(#gDrupB)"/><circle cx="781.9" cy="632.0" r="0.81" fill="#b8c0dc" opacity="0.55"/><circle cx="787.1" cy="632.5" r="2.54" fill="url(#gDrupB)"/><circle cx="786.3" cy="631.7" r="0.81" fill="#b8c0dc" opacity="0.55"/><circle cx="792.4" cy="632.6" r="2.23" fill="url(#gDrupB)"/><circle cx="791.8" cy="631.9" r="0.71" fill="#b8c0dc" opacity="0.55"/><circle cx="779.5" cy="636.3" r="2.16" fill="url(#gDrupB)"/><circle cx="778.9" cy="635.6" r="0.69" fill="#b8c0dc" opacity="0.55"/><circle cx="785.0" cy="637.3" r="2.24" fill="url(#gDrupB)"/><circle cx="784.3" cy="636.6" r="0.72" fill="#b8c0dc" opacity="0.55"/><circle cx="790.3" cy="636.5" r="2.14" fill="url(#gDrupB)"/><circle cx="789.6" cy="635.8" r="0.68" fill="#b8c0dc" opacity="0.55"/><circle cx="787.6" cy="641.0" r="1.85" fill="url(#gDrupB)"/><circle cx="787.0" cy="640.4" r="0.59" fill="#b8c0dc" opacity="0.55"/><ellipse cx="855.7" cy="621" rx="14" ry="15.3" fill="#0e0c14"/><circle cx="856.4" cy="606.2" r="1.88" fill="url(#gDrupB)"/><circle cx="855.8" cy="605.7" r="0.60" fill="#b8c0dc" opacity="0.55"/><circle cx="849.6" cy="609.6" r="2.07" fill="url(#gDrupB)"/><circle cx="849.0" cy="609.0" r="0.66" fill="#b8c0dc" opacity="0.55"/><circle cx="854.8" cy="610.7" r="2.35" fill="url(#gDrupB)"/><circle cx="854.1" cy="610.0" r="0.75" fill="#b8c0dc" opacity="0.55"/><circle cx="859.8" cy="610.5" r="2.26" fill="url(#gDrupB)"/><circle cx="859.1" cy="609.9" r="0.72" fill="#b8c0dc" opacity="0.55"/><circle cx="846.5" cy="613.9" r="2.17" fill="url(#gDrupB)"/><circle cx="845.9" cy="613.2" r="0.69" fill="#b8c0dc" opacity="0.55"/><circle cx="852.6" cy="614.6" r="2.58" fill="url(#gDrupB)"/><circle cx="851.8" cy="613.8" r="0.83" fill="#b8c0dc" opacity="0.55"/><circle cx="857.5" cy="615.2" r="2.64" fill="url(#gDrupB)"/><circle cx="856.7" cy="614.4" r="0.85" fill="#b8c0dc" opacity="0.55"/><circle cx="862.6" cy="615.3" r="2.42" fill="url(#gDrupB)"/><circle cx="861.9" cy="614.5" r="0.78" fill="#b8c0dc" opacity="0.55"/><circle cx="867.3" cy="615.1" r="1.98" fill="url(#gDrupB)"/><circle cx="866.7" cy="614.5" r="0.63" fill="#b8c0dc" opacity="0.55"/><circle cx="844.2" cy="619.8" r="2.13" fill="url(#gDrupB)"/><circle cx="843.6" cy="619.1" r="0.68" fill="#b8c0dc" opacity="0.55"/><circle cx="850.0" cy="618.5" r="2.61" fill="url(#gDrupB)"/><circle cx="849.2" cy="617.7" r="0.84" fill="#b8c0dc" opacity="0.55"/><circle cx="854.0" cy="618.6" r="2.76" fill="url(#gDrupB)"/><circle cx="853.2" cy="617.8" r="0.88" fill="#b8c0dc" opacity="0.55"/><circle cx="860.5" cy="619.0" r="2.67" fill="url(#gDrupB)"/><circle cx="859.7" cy="618.2" r="0.85" fill="#b8c0dc" opacity="0.55"/><circle cx="865.1" cy="618.8" r="2.34" fill="url(#gDrupB)"/><circle cx="864.4" cy="618.1" r="0.75" fill="#b8c0dc" opacity="0.55"/><circle cx="846.6" cy="623.7" r="2.36" fill="url(#gDrupB)"/><circle cx="845.9" cy="623.0" r="0.75" fill="#b8c0dc" opacity="0.55"/><circle cx="852.1" cy="624.2" r="2.69" fill="url(#gDrupB)"/><circle cx="851.3" cy="623.4" r="0.86" fill="#b8c0dc" opacity="0.55"/><circle cx="857.4" cy="624.2" r="2.74" fill="url(#gDrupB)"/><circle cx="856.6" cy="623.4" r="0.88" fill="#b8c0dc" opacity="0.55"/><circle cx="862.9" cy="624.3" r="2.50" fill="url(#gDrupB)"/><circle cx="862.1" cy="623.6" r="0.80" fill="#b8c0dc" opacity="0.55"/><circle cx="867.7" cy="623.0" r="2.06" fill="url(#gDrupB)"/><circle cx="867.1" cy="622.4" r="0.66" fill="#b8c0dc" opacity="0.55"/><circle cx="844.8" cy="628.7" r="1.96" fill="url(#gDrupB)"/><circle cx="844.2" cy="628.1" r="0.63" fill="#b8c0dc" opacity="0.55"/><circle cx="850.1" cy="628.1" r="2.43" fill="url(#gDrupB)"/><circle cx="849.3" cy="627.4" r="0.78" fill="#b8c0dc" opacity="0.55"/><circle cx="854.9" cy="627.6" r="2.62" fill="url(#gDrupB)"/><circle cx="854.1" cy="626.8" r="0.84" fill="#b8c0dc" opacity="0.55"/><circle cx="860.2" cy="628.1" r="2.48" fill="url(#gDrupB)"/><circle cx="859.5" cy="627.4" r="0.80" fill="#b8c0dc" opacity="0.55"/><circle cx="864.6" cy="627.3" r="2.24" fill="url(#gDrupB)"/><circle cx="863.9" cy="626.7" r="0.72" fill="#b8c0dc" opacity="0.55"/><circle cx="851.9" cy="631.9" r="2.23" fill="url(#gDrupB)"/><circle cx="851.2" cy="631.3" r="0.71" fill="#b8c0dc" opacity="0.55"/><circle cx="856.8" cy="632.9" r="2.20" fill="url(#gDrupB)"/><circle cx="856.2" cy="632.2" r="0.70" fill="#b8c0dc" opacity="0.55"/><circle cx="862.9" cy="631.8" r="2.06" fill="url(#gDrupB)"/><circle cx="862.3" cy="631.1" r="0.66" fill="#b8c0dc" opacity="0.55"/><ellipse cx="819.6" cy="621" rx="18" ry="13.9" fill="#0e0c14"/><circle cx="817.7" cy="607.6" r="1.87" fill="url(#gDrupB)"/><circle cx="817.1" cy="607.0" r="0.60" fill="#b8c0dc" opacity="0.55"/><circle cx="809.8" cy="612.0" r="2.10" fill="url(#gDrupB)"/><circle cx="809.2" cy="611.4" r="0.67" fill="#b8c0dc" opacity="0.55"/><circle cx="814.9" cy="611.1" r="2.24" fill="url(#gDrupB)"/><circle cx="814.3" cy="610.4" r="0.72" fill="#b8c0dc" opacity="0.55"/><circle cx="819.3" cy="611.8" r="2.37" fill="url(#gDrupB)"/><circle cx="818.6" cy="611.0" r="0.76" fill="#b8c0dc" opacity="0.55"/><circle cx="825.1" cy="612.1" r="2.31" fill="url(#gDrupB)"/><circle cx="824.5" cy="611.4" r="0.74" fill="#b8c0dc" opacity="0.55"/><circle cx="830.5" cy="610.9" r="1.92" fill="url(#gDrupB)"/><circle cx="829.9" cy="610.3" r="0.62" fill="#b8c0dc" opacity="0.55"/><circle cx="806.7" cy="615.4" r="2.14" fill="url(#gDrupB)"/><circle cx="806.1" cy="614.7" r="0.68" fill="#b8c0dc" opacity="0.55"/><circle cx="812.6" cy="616.6" r="2.55" fill="url(#gDrupB)"/><circle cx="811.8" cy="615.8" r="0.82" fill="#b8c0dc" opacity="0.55"/><circle cx="817.1" cy="615.7" r="2.64" fill="url(#gDrupB)"/><circle cx="816.3" cy="614.9" r="0.84" fill="#b8c0dc" opacity="0.55"/><circle cx="822.8" cy="616.1" r="2.65" fill="url(#gDrupB)"/><circle cx="822.0" cy="615.3" r="0.85" fill="#b8c0dc" opacity="0.55"/><circle cx="828.0" cy="616.6" r="2.49" fill="url(#gDrupB)"/><circle cx="827.2" cy="615.8" r="0.80" fill="#b8c0dc" opacity="0.55"/><circle cx="832.5" cy="615.9" r="2.16" fill="url(#gDrupB)"/><circle cx="831.9" cy="615.2" r="0.69" fill="#b8c0dc" opacity="0.55"/><circle cx="804.3" cy="620.4" r="2.09" fill="url(#gDrupB)"/><circle cx="803.7" cy="619.8" r="0.67" fill="#b8c0dc" opacity="0.55"/><circle cx="808.8" cy="620.2" r="2.44" fill="url(#gDrupB)"/><circle cx="808.1" cy="619.5" r="0.78" fill="#b8c0dc" opacity="0.55"/><circle cx="815.0" cy="619.8" r="2.73" fill="url(#gDrupB)"/><circle cx="814.1" cy="619.0" r="0.87" fill="#b8c0dc" opacity="0.55"/><circle cx="818.9" cy="620.7" r="2.80" fill="url(#gDrupB)"/><circle cx="818.1" cy="619.8" r="0.90" fill="#b8c0dc" opacity="0.55"/><circle cx="824.4" cy="620.5" r="2.73" fill="url(#gDrupB)"/><circle cx="823.6" cy="619.7" r="0.87" fill="#b8c0dc" opacity="0.55"/><circle cx="829.9" cy="620.2" r="2.48" fill="url(#gDrupB)"/><circle cx="829.1" cy="619.5" r="0.79" fill="#b8c0dc" opacity="0.55"/><circle cx="835.9" cy="620.0" r="2.00" fill="url(#gDrupB)"/><circle cx="835.3" cy="619.4" r="0.64" fill="#b8c0dc" opacity="0.55"/><circle cx="807.0" cy="624.6" r="2.25" fill="url(#gDrupB)"/><circle cx="806.3" cy="623.9" r="0.72" fill="#b8c0dc" opacity="0.55"/><circle cx="811.7" cy="625.3" r="2.52" fill="url(#gDrupB)"/><circle cx="810.9" cy="624.6" r="0.80" fill="#b8c0dc" opacity="0.55"/><circle cx="816.8" cy="625.0" r="2.69" fill="url(#gDrupB)"/><circle cx="816.0" cy="624.2" r="0.86" fill="#b8c0dc" opacity="0.55"/><circle cx="822.8" cy="624.3" r="2.71" fill="url(#gDrupB)"/><circle cx="822.0" cy="623.5" r="0.87" fill="#b8c0dc" opacity="0.55"/><circle cx="826.7" cy="624.5" r="2.59" fill="url(#gDrupB)"/><circle cx="825.9" cy="623.8" r="0.83" fill="#b8c0dc" opacity="0.55"/><circle cx="832.9" cy="625.1" r="2.18" fill="url(#gDrupB)"/><circle cx="832.3" cy="624.5" r="0.70" fill="#b8c0dc" opacity="0.55"/><circle cx="808.8" cy="629.3" r="2.10" fill="url(#gDrupB)"/><circle cx="808.2" cy="628.7" r="0.67" fill="#b8c0dc" opacity="0.55"/><circle cx="813.8" cy="629.7" r="2.31" fill="url(#gDrupB)"/><circle cx="813.1" cy="629.0" r="0.74" fill="#b8c0dc" opacity="0.55"/><circle cx="820.2" cy="630.1" r="2.38" fill="url(#gDrupB)"/><circle cx="819.5" cy="629.4" r="0.76" fill="#b8c0dc" opacity="0.55"/><circle cx="825.1" cy="630.1" r="2.29" fill="url(#gDrupB)"/><circle cx="824.5" cy="629.4" r="0.73" fill="#b8c0dc" opacity="0.55"/><circle cx="829.2" cy="629.1" r="2.19" fill="url(#gDrupB)"/><circle cx="828.5" cy="628.4" r="0.70" fill="#b8c0dc" opacity="0.55"/><circle cx="811.6" cy="633.4" r="1.83" fill="url(#gDrupB)"/><circle cx="811.0" cy="632.8" r="0.58" fill="#b8c0dc" opacity="0.55"/><circle cx="817.0" cy="633.3" r="2.01" fill="url(#gDrupB)"/><circle cx="816.4" cy="632.7" r="0.64" fill="#b8c0dc" opacity="0.55"/><circle cx="822.0" cy="634.6" r="1.85" fill="url(#gDrupB)"/><circle cx="821.5" cy="634.0" r="0.59" fill="#b8c0dc" opacity="0.55"/><circle cx="827.1" cy="633.1" r="1.89" fill="url(#gDrupB)"/><circle cx="826.5" cy="632.5" r="0.60" fill="#b8c0dc" opacity="0.55"/><ellipse cx="802.9" cy="647.4" rx="19.5" ry="16.7" fill="#0e0c14"/><circle cx="804.7" cy="630.9" r="1.84" fill="url(#gDrupB)"/><circle cx="804.1" cy="630.4" r="0.59" fill="#b8c0dc" opacity="0.55"/><circle cx="790.8" cy="635.8" r="1.95" fill="url(#gDrupB)"/><circle cx="790.2" cy="635.2" r="0.62" fill="#b8c0dc" opacity="0.55"/><circle cx="796.7" cy="634.6" r="2.13" fill="url(#gDrupB)"/><circle cx="796.1" cy="634.0" r="0.68" fill="#b8c0dc" opacity="0.55"/><circle cx="801.9" cy="634.6" r="2.22" fill="url(#gDrupB)"/><circle cx="801.2" cy="633.9" r="0.71" fill="#b8c0dc" opacity="0.55"/><circle cx="806.8" cy="634.6" r="2.18" fill="url(#gDrupB)"/><circle cx="806.1" cy="633.9" r="0.70" fill="#b8c0dc" opacity="0.55"/><circle cx="811.0" cy="635.7" r="2.15" fill="url(#gDrupB)"/><circle cx="810.3" cy="635.1" r="0.69" fill="#b8c0dc" opacity="0.55"/><circle cx="788.6" cy="639.9" r="2.08" fill="url(#gDrupB)"/><circle cx="788.0" cy="639.3" r="0.66" fill="#b8c0dc" opacity="0.55"/><circle cx="793.2" cy="640.3" r="2.38" fill="url(#gDrupB)"/><circle cx="792.5" cy="639.6" r="0.76" fill="#b8c0dc" opacity="0.55"/><circle cx="799.2" cy="640.3" r="2.59" fill="url(#gDrupB)"/><circle cx="798.4" cy="639.6" r="0.83" fill="#b8c0dc" opacity="0.55"/><circle cx="804.6" cy="639.3" r="2.56" fill="url(#gDrupB)"/><circle cx="803.8" cy="638.5" r="0.82" fill="#b8c0dc" opacity="0.55"/><circle cx="808.9" cy="639.1" r="2.46" fill="url(#gDrupB)"/><circle cx="808.2" cy="638.4" r="0.79" fill="#b8c0dc" opacity="0.55"/><circle cx="813.8" cy="639.0" r="2.24" fill="url(#gDrupB)"/><circle cx="813.1" cy="638.3" r="0.72" fill="#b8c0dc" opacity="0.55"/><circle cx="819.2" cy="639.8" r="1.91" fill="url(#gDrupB)"/><circle cx="818.6" cy="639.2" r="0.61" fill="#b8c0dc" opacity="0.55"/><circle cx="785.2" cy="644.4" r="1.96" fill="url(#gDrupB)"/><circle cx="784.6" cy="643.8" r="0.63" fill="#b8c0dc" opacity="0.55"/><circle cx="790.9" cy="643.8" r="2.38" fill="url(#gDrupB)"/><circle cx="790.2" cy="643.1" r="0.76" fill="#b8c0dc" opacity="0.55"/><circle cx="796.8" cy="644.1" r="2.66" fill="url(#gDrupB)"/><circle cx="796.0" cy="643.3" r="0.85" fill="#b8c0dc" opacity="0.55"/><circle cx="801.1" cy="644.1" r="2.75" fill="url(#gDrupB)"/><circle cx="800.3" cy="643.2" r="0.88" fill="#b8c0dc" opacity="0.55"/><circle cx="806.9" cy="643.4" r="2.70" fill="url(#gDrupB)"/><circle cx="806.1" cy="642.6" r="0.86" fill="#b8c0dc" opacity="0.55"/><circle cx="812.5" cy="643.3" r="2.51" fill="url(#gDrupB)"/><circle cx="811.7" cy="642.6" r="0.80" fill="#b8c0dc" opacity="0.55"/><circle cx="817.3" cy="644.6" r="2.24" fill="url(#gDrupB)"/><circle cx="816.6" cy="643.9" r="0.72" fill="#b8c0dc" opacity="0.55"/><circle cx="821.3" cy="644.5" r="1.90" fill="url(#gDrupB)"/><circle cx="820.7" cy="644.0" r="0.61" fill="#b8c0dc" opacity="0.55"/><circle cx="787.8" cy="647.8" r="2.21" fill="url(#gDrupB)"/><circle cx="787.1" cy="647.2" r="0.71" fill="#b8c0dc" opacity="0.55"/><circle cx="793.2" cy="649.3" r="2.55" fill="url(#gDrupB)"/><circle cx="792.4" cy="648.5" r="0.81" fill="#b8c0dc" opacity="0.55"/><circle cx="798.4" cy="648.9" r="2.74" fill="url(#gDrupB)"/><circle cx="797.6" cy="648.1" r="0.88" fill="#b8c0dc" opacity="0.55"/><circle cx="804.7" cy="649.2" r="2.78" fill="url(#gDrupB)"/><circle cx="803.8" cy="648.4" r="0.89" fill="#b8c0dc" opacity="0.55"/><circle cx="808.9" cy="648.3" r="2.70" fill="url(#gDrupB)"/><circle cx="808.1" cy="647.5" r="0.87" fill="#b8c0dc" opacity="0.55"/><circle cx="814.4" cy="649.0" r="2.45" fill="url(#gDrupB)"/><circle cx="813.6" cy="648.2" r="0.79" fill="#b8c0dc" opacity="0.55"/><circle cx="818.9" cy="648.9" r="2.14" fill="url(#gDrupB)"/><circle cx="818.2" cy="648.3" r="0.68" fill="#b8c0dc" opacity="0.55"/><circle cx="786.4" cy="653.6" r="1.97" fill="url(#gDrupB)"/><circle cx="785.8" cy="653.0" r="0.63" fill="#b8c0dc" opacity="0.55"/><circle cx="790.4" cy="653.7" r="2.26" fill="url(#gDrupB)"/><circle cx="789.7" cy="653.0" r="0.72" fill="#b8c0dc" opacity="0.55"/><circle cx="795.6" cy="652.8" r="2.56" fill="url(#gDrupB)"/><circle cx="794.9" cy="652.0" r="0.82" fill="#b8c0dc" opacity="0.55"/><circle cx="801.6" cy="653.7" r="2.66" fill="url(#gDrupB)"/><circle cx="800.8" cy="652.9" r="0.85" fill="#b8c0dc" opacity="0.55"/><circle cx="806.3" cy="653.7" r="2.63" fill="url(#gDrupB)"/><circle cx="805.5" cy="652.9" r="0.84" fill="#b8c0dc" opacity="0.55"/><circle cx="811.8" cy="652.7" r="2.50" fill="url(#gDrupB)"/><circle cx="811.1" cy="652.0" r="0.80" fill="#b8c0dc" opacity="0.55"/><circle cx="816.6" cy="652.5" r="2.22" fill="url(#gDrupB)"/><circle cx="815.9" cy="651.8" r="0.71" fill="#b8c0dc" opacity="0.55"/><circle cx="821.4" cy="652.5" r="1.83" fill="url(#gDrupB)"/><circle cx="820.8" cy="651.9" r="0.59" fill="#b8c0dc" opacity="0.55"/><circle cx="788.0" cy="656.8" r="1.92" fill="url(#gDrupB)"/><circle cx="787.5" cy="656.2" r="0.61" fill="#b8c0dc" opacity="0.55"/><circle cx="794.5" cy="657.5" r="2.26" fill="url(#gDrupB)"/><circle cx="793.8" cy="656.8" r="0.72" fill="#b8c0dc" opacity="0.55"/><circle cx="798.7" cy="657.1" r="2.43" fill="url(#gDrupB)"/><circle cx="798.0" cy="656.3" r="0.78" fill="#b8c0dc" opacity="0.55"/><circle cx="804.2" cy="658.0" r="2.40" fill="url(#gDrupB)"/><circle cx="803.4" cy="657.3" r="0.77" fill="#b8c0dc" opacity="0.55"/><circle cx="809.1" cy="657.3" r="2.35" fill="url(#gDrupB)"/><circle cx="808.4" cy="656.6" r="0.75" fill="#b8c0dc" opacity="0.55"/><circle cx="813.6" cy="658.1" r="2.10" fill="url(#gDrupB)"/><circle cx="813.0" cy="657.5" r="0.67" fill="#b8c0dc" opacity="0.55"/><circle cx="796.5" cy="662.4" r="1.91" fill="url(#gDrupB)"/><circle cx="795.9" cy="661.8" r="0.61" fill="#b8c0dc" opacity="0.55"/><circle cx="800.8" cy="661.8" r="2.06" fill="url(#gDrupB)"/><circle cx="800.2" cy="661.2" r="0.66" fill="#b8c0dc" opacity="0.55"/><circle cx="806.0" cy="662.5" r="1.98" fill="url(#gDrupB)"/><circle cx="805.4" cy="661.9" r="0.63" fill="#b8c0dc" opacity="0.55"/><circle cx="811.4" cy="661.9" r="1.88" fill="url(#gDrupB)"/><circle cx="810.9" cy="661.3" r="0.60" fill="#b8c0dc" opacity="0.55"/><ellipse cx="839" cy="646" rx="19.5" ry="17.4" fill="#0e0c14"/><circle cx="834.9" cy="629.0" r="1.82" fill="url(#gDrupB)"/><circle cx="834.4" cy="628.5" r="0.58" fill="#b8c0dc" opacity="0.55"/><circle cx="839.9" cy="629.0" r="1.86" fill="url(#gDrupB)"/><circle cx="839.4" cy="628.5" r="0.60" fill="#b8c0dc" opacity="0.55"/><circle cx="827.7" cy="632.7" r="1.90" fill="url(#gDrupB)"/><circle cx="827.1" cy="632.1" r="0.61" fill="#b8c0dc" opacity="0.55"/><circle cx="832.8" cy="633.3" r="2.18" fill="url(#gDrupB)"/><circle cx="832.2" cy="632.7" r="0.70" fill="#b8c0dc" opacity="0.55"/><circle cx="838.1" cy="632.8" r="2.23" fill="url(#gDrupB)"/><circle cx="837.4" cy="632.1" r="0.72" fill="#b8c0dc" opacity="0.55"/><circle cx="842.1" cy="633.5" r="2.27" fill="url(#gDrupB)"/><circle cx="841.4" cy="632.8" r="0.73" fill="#b8c0dc" opacity="0.55"/><circle cx="848.3" cy="633.0" r="2.03" fill="url(#gDrupB)"/><circle cx="847.7" cy="632.4" r="0.65" fill="#b8c0dc" opacity="0.55"/><circle cx="824.2" cy="637.8" r="2.02" fill="url(#gDrupB)"/><circle cx="823.6" cy="637.2" r="0.64" fill="#b8c0dc" opacity="0.55"/><circle cx="829.6" cy="638.2" r="2.37" fill="url(#gDrupB)"/><circle cx="828.9" cy="637.5" r="0.76" fill="#b8c0dc" opacity="0.55"/><circle cx="835.6" cy="637.5" r="2.54" fill="url(#gDrupB)"/><circle cx="834.8" cy="636.8" r="0.81" fill="#b8c0dc" opacity="0.55"/><circle cx="840.3" cy="637.8" r="2.58" fill="url(#gDrupB)"/><circle cx="839.6" cy="637.1" r="0.83" fill="#b8c0dc" opacity="0.55"/><circle cx="845.7" cy="638.3" r="2.49" fill="url(#gDrupB)"/><circle cx="845.0" cy="637.5" r="0.80" fill="#b8c0dc" opacity="0.55"/><circle cx="849.7" cy="637.3" r="2.26" fill="url(#gDrupB)"/><circle cx="849.0" cy="636.6" r="0.72" fill="#b8c0dc" opacity="0.55"/><circle cx="855.7" cy="637.2" r="1.83" fill="url(#gDrupB)"/><circle cx="855.2" cy="636.7" r="0.59" fill="#b8c0dc" opacity="0.55"/><circle cx="822.2" cy="641.4" r="2.00" fill="url(#gDrupB)"/><circle cx="821.6" cy="640.7" r="0.64" fill="#b8c0dc" opacity="0.55"/><circle cx="827.8" cy="642.0" r="2.43" fill="url(#gDrupB)"/><circle cx="827.1" cy="641.3" r="0.78" fill="#b8c0dc" opacity="0.55"/><circle cx="831.8" cy="642.2" r="2.62" fill="url(#gDrupB)"/><circle cx="831.0" cy="641.5" r="0.84" fill="#b8c0dc" opacity="0.55"/><circle cx="837.2" cy="641.5" r="2.73" fill="url(#gDrupB)"/><circle cx="836.4" cy="640.7" r="0.87" fill="#b8c0dc" opacity="0.55"/><circle cx="842.7" cy="641.4" r="2.70" fill="url(#gDrupB)"/><circle cx="841.8" cy="640.6" r="0.86" fill="#b8c0dc" opacity="0.55"/><circle cx="847.4" cy="642.5" r="2.58" fill="url(#gDrupB)"/><circle cx="846.6" cy="641.8" r="0.83" fill="#b8c0dc" opacity="0.55"/><circle cx="853.3" cy="641.2" r="2.20" fill="url(#gDrupB)"/><circle cx="852.6" cy="640.6" r="0.70" fill="#b8c0dc" opacity="0.55"/><circle cx="824.8" cy="646.1" r="2.28" fill="url(#gDrupB)"/><circle cx="824.2" cy="645.5" r="0.73" fill="#b8c0dc" opacity="0.55"/><circle cx="829.6" cy="646.3" r="2.57" fill="url(#gDrupB)"/><circle cx="828.8" cy="645.5" r="0.82" fill="#b8c0dc" opacity="0.55"/><circle cx="834.4" cy="647.2" r="2.74" fill="url(#gDrupB)"/><circle cx="833.6" cy="646.4" r="0.88" fill="#b8c0dc" opacity="0.55"/><circle cx="839.4" cy="646.3" r="2.80" fill="url(#gDrupB)"/><circle cx="838.6" cy="645.5" r="0.90" fill="#b8c0dc" opacity="0.55"/><circle cx="845.6" cy="646.3" r="2.69" fill="url(#gDrupB)"/><circle cx="844.8" cy="645.5" r="0.86" fill="#b8c0dc" opacity="0.55"/><circle cx="851.2" cy="646.1" r="2.42" fill="url(#gDrupB)"/><circle cx="850.4" cy="645.3" r="0.77" fill="#b8c0dc" opacity="0.55"/><circle cx="856.3" cy="647.1" r="2.02" fill="url(#gDrupB)"/><circle cx="855.7" cy="646.4" r="0.65" fill="#b8c0dc" opacity="0.55"/><circle cx="822.3" cy="651.5" r="1.99" fill="url(#gDrupB)"/><circle cx="821.7" cy="650.9" r="0.64" fill="#b8c0dc" opacity="0.55"/><circle cx="827.1" cy="651.4" r="2.34" fill="url(#gDrupB)"/><circle cx="826.4" cy="650.7" r="0.75" fill="#b8c0dc" opacity="0.55"/><circle cx="832.8" cy="650.9" r="2.62" fill="url(#gDrupB)"/><circle cx="832.1" cy="650.1" r="0.84" fill="#b8c0dc" opacity="0.55"/><circle cx="837.5" cy="651.2" r="2.71" fill="url(#gDrupB)"/><circle cx="836.7" cy="650.4" r="0.87" fill="#b8c0dc" opacity="0.55"/><circle cx="842.5" cy="650.3" r="2.71" fill="url(#gDrupB)"/><circle cx="841.7" cy="649.5" r="0.87" fill="#b8c0dc" opacity="0.55"/><circle cx="848.2" cy="650.5" r="2.51" fill="url(#gDrupB)"/><circle cx="847.5" cy="649.8" r="0.80" fill="#b8c0dc" opacity="0.55"/><circle cx="853.0" cy="651.3" r="2.20" fill="url(#gDrupB)"/><circle cx="852.3" cy="650.7" r="0.71" fill="#b8c0dc" opacity="0.55"/><circle cx="857.6" cy="650.2" r="1.85" fill="url(#gDrupB)"/><circle cx="857.1" cy="649.6" r="0.59" fill="#b8c0dc" opacity="0.55"/><circle cx="824.4" cy="655.0" r="1.99" fill="url(#gDrupB)"/><circle cx="823.8" cy="654.4" r="0.64" fill="#b8c0dc" opacity="0.55"/><circle cx="829.7" cy="656.0" r="2.25" fill="url(#gDrupB)"/><circle cx="829.1" cy="655.4" r="0.72" fill="#b8c0dc" opacity="0.55"/><circle cx="834.6" cy="655.2" r="2.47" fill="url(#gDrupB)"/><circle cx="833.8" cy="654.5" r="0.79" fill="#b8c0dc" opacity="0.55"/><circle cx="840.7" cy="655.5" r="2.50" fill="url(#gDrupB)"/><circle cx="839.9" cy="654.8" r="0.80" fill="#b8c0dc" opacity="0.55"/><circle cx="844.9" cy="655.3" r="2.43" fill="url(#gDrupB)"/><circle cx="844.2" cy="654.6" r="0.78" fill="#b8c0dc" opacity="0.55"/><circle cx="850.4" cy="654.8" r="2.21" fill="url(#gDrupB)"/><circle cx="849.7" cy="654.2" r="0.71" fill="#b8c0dc" opacity="0.55"/><circle cx="855.4" cy="655.1" r="1.84" fill="url(#gDrupB)"/><circle cx="854.8" cy="654.5" r="0.59" fill="#b8c0dc" opacity="0.55"/><circle cx="833.0" cy="659.6" r="2.11" fill="url(#gDrupB)"/><circle cx="832.4" cy="659.0" r="0.67" fill="#b8c0dc" opacity="0.55"/><circle cx="837.7" cy="659.6" r="2.20" fill="url(#gDrupB)"/><circle cx="837.0" cy="658.9" r="0.70" fill="#b8c0dc" opacity="0.55"/><circle cx="842.5" cy="659.8" r="2.15" fill="url(#gDrupB)"/><circle cx="841.9" cy="659.2" r="0.69" fill="#b8c0dc" opacity="0.55"/><circle cx="848.3" cy="660.5" r="1.90" fill="url(#gDrupB)"/><circle cx="847.7" cy="659.9" r="0.61" fill="#b8c0dc" opacity="0.55"/><ellipse cx="1002" cy="654" rx="64" ry="5" fill="#c4c8d6" opacity="0.5" filter="url(#blur3)"/><path d="M988.0,606.0 L987.9,601.9 L990.0,601.0 L989.9,596.9 L992.0,596.0 L994.9,592.8 L997.3,593.3 L1001.4,590.7 L1002.7,592.7 L1006.7,592.0 L1008.0,594.0 L1009.6,590.1 L1012.0,590.0 L1014.8,586.3 L1016.7,587.7 L1020.2,585.6 L1022.0,587.0 L1025.9,589.1 L1026.0,591.7 L1029.8,594.7 L1028.7,597.3 L1031.1,601.4 L1030.0,604.0 L1030.1,608.1 L1028.0,609.0 L1028.1,613.1 L1026.0,614.0 L1023.0,617.1 L1020.5,616.5 L1017.5,619.6 L1015.0,619.0 L1010.9,620.3 L1009.0,618.6 L1004.9,619.9 L1003.0,618.2 L998.4,619.1 L997.5,617.0 L993.4,617.1 L992.5,615.0 L988.2,613.4 L989.3,611.3 L986.9,608.0 Z" fill="url(#gLeafL)"/><path d="M1008.0,618.0 L1000.0,594.0 M1006.0,612.0 L1009.7,606.8 M1006.0,612.0 L999.9,610.0 M1004.0,606.0 L1009.2,600.3 M1004.0,606.0 L996.4,604.5 M1002.0,600.0 L1005.7,594.8 M1002.0,600.0 L995.9,598.0" stroke="#c0e0a0" stroke-width="0.7" fill="none" opacity="0.4"/><path d="M1012.0,618.0 L1022.0,590.0 M1014.5,611.0 L1020.8,608.5 M1014.5,611.0 L1011.2,605.1 M1017.0,604.0 L1024.9,602.1 M1017.0,604.0 L1012.1,597.5 M1019.5,597.0 L1025.8,594.5 M1019.5,597.0 L1016.2,591.1" stroke="#c0e0a0" stroke-width="0.7" fill="none" opacity="0.4"/><ellipse cx="969.7" cy="619.0" rx="13.5" ry="11.0" fill="url(#gCass)" /><ellipse cx="1038.6" cy="614.5" rx="13.0" ry="11.0" fill="url(#gCass)" /><ellipse cx="948.6" cy="633.7" rx="12.8" ry="13.6" fill="url(#gCass)" /><circle cx="950" cy="624" r="2.6" fill="#7a5a48" opacity="0.8" filter="url(#blur1)"/><ellipse cx="1000.5" cy="627.9" rx="13.8" ry="14.4" fill="url(#gCass)" /><circle cx="993" cy="629" r="2.6" fill="#7a5a48" opacity="0.8" filter="url(#blur1)"/><ellipse cx="1054.3" cy="630.4" rx="14.6" ry="15.6" fill="url(#gCass)" /><circle cx="1062" cy="627" r="2.6" fill="#7a5a48" opacity="0.8" filter="url(#blur1)"/><ellipse cx="973.0" cy="638.8" rx="15.0" ry="15.4" fill="url(#gCass)" /><circle cx="980" cy="647" r="2.6" fill="#7a5a48" opacity="0.8" filter="url(#blur1)"/><ellipse cx="1026.5" cy="634.8" rx="15.0" ry="16.2" fill="url(#gCass)" /><circle cx="1021" cy="646" r="2.6" fill="#7a5a48" opacity="0.8" filter="url(#blur1)"/><ellipse cx="1180" cy="658" rx="78" ry="5" fill="#c4c8d6" opacity="0.5" filter="url(#blur3)"/><path d="M1166.5,596.0 a5.5,5.5 0 1,0 11.0,0 a5.5,5.5 0 1,0 -11.0,0 M1162.3,598.0 a4.2,4.2 0 1,0 8.4,0 a4.2,4.2 0 1,0 -8.4,0 M1162.8,593.1 a4.2,4.2 0 1,0 8.4,0 a4.2,4.2 0 1,0 -8.4,0 M1166.8,590.3 a4.2,4.2 0 1,0 8.4,0 a4.2,4.2 0 1,0 -8.4,0 M1171.5,591.6 a4.2,4.2 0 1,0 8.4,0 a4.2,4.2 0 1,0 -8.4,0 M1173.6,596.0 a4.2,4.2 0 1,0 8.4,0 a4.2,4.2 0 1,0 -8.4,0 " fill="url(#gLeafG2)"/><path d="M1172.0,596.0 L1165.0,598.6 M1172.0,596.0 L1165.5,592.3 M1172.0,596.0 L1170.7,588.6 M1172.0,596.0 L1176.8,590.3 M1172.0,596.0 L1179.5,596.0 " stroke="#b8e090" stroke-width="0.6" opacity="0.45" fill="none"/><path d="M1186.5,594.0 a5.5,5.5 0 1,0 11.0,0 a5.5,5.5 0 1,0 -11.0,0 M1182.0,594.0 a4.2,4.2 0 1,0 8.4,0 a4.2,4.2 0 1,0 -8.4,0 M1183.7,589.9 a4.2,4.2 0 1,0 8.4,0 a4.2,4.2 0 1,0 -8.4,0 M1187.8,588.2 a4.2,4.2 0 1,0 8.4,0 a4.2,4.2 0 1,0 -8.4,0 M1191.9,589.9 a4.2,4.2 0 1,0 8.4,0 a4.2,4.2 0 1,0 -8.4,0 M1193.6,594.0 a4.2,4.2 0 1,0 8.4,0 a4.2,4.2 0 1,0 -8.4,0 " fill="url(#gLeafG2)"/><path d="M1192.0,594.0 L1184.5,594.0 M1192.0,594.0 L1186.7,588.7 M1192.0,594.0 L1192.0,586.5 M1192.0,594.0 L1197.3,588.7 M1192.0,594.0 L1199.5,594.0 " stroke="#b8e090" stroke-width="0.6" opacity="0.45" fill="none"/><path d="M1117.7,611.0 a6.3,6.3 0 1,0 12.7,0 a6.3,6.3 0 1,0 -12.7,0 M1114.1,615.3 a4.8,4.8 0 1,0 9.7,0 a4.8,4.8 0 1,0 -9.7,0 M1112.6,610.1 a4.8,4.8 0 1,0 9.7,0 a4.8,4.8 0 1,0 -9.7,0 M1115.3,605.5 a4.8,4.8 0 1,0 9.7,0 a4.8,4.8 0 1,0 -9.7,0 M1120.6,604.5 a4.8,4.8 0 1,0 9.7,0 a4.8,4.8 0 1,0 -9.7,0 M1124.9,607.7 a4.8,4.8 0 1,0 9.7,0 a4.8,4.8 0 1,0 -9.7,0 " fill="url(#gLeafG2)"/><path d="M1124.0,611.0 L1117.4,616.5 M1124.0,611.0 L1115.5,609.9 M1124.0,611.0 L1119.1,604.0 M1124.0,611.0 L1125.9,602.6 M1124.0,611.0 L1131.4,606.7 " stroke="#b8e090" stroke-width="0.6" opacity="0.45" fill="none"/><path d="M1099.1,634.0 a6.9,6.9 0 1,0 13.8,0 a6.9,6.9 0 1,0 -13.8,0 M1096.1,639.6 a5.2,5.2 0 1,0 10.5,0 a5.2,5.2 0 1,0 -10.5,0 M1093.5,634.8 a5.2,5.2 0 1,0 10.5,0 a5.2,5.2 0 1,0 -10.5,0 M1095.0,629.5 a5.2,5.2 0 1,0 10.5,0 a5.2,5.2 0 1,0 -10.5,0 M1099.7,626.8 a5.2,5.2 0 1,0 10.5,0 a5.2,5.2 0 1,0 -10.5,0 M1105.0,628.1 a5.2,5.2 0 1,0 10.5,0 a5.2,5.2 0 1,0 -10.5,0 M1107.9,632.7 a5.2,5.2 0 1,0 10.5,0 a5.2,5.2 0 1,0 -10.5,0 " fill="url(#gLeafG2)"/><path d="M1106.0,634.0 L1100.0,641.2 M1106.0,634.0 L1096.7,635.0 M1106.0,634.0 L1098.6,628.2 M1106.0,634.0 L1104.7,624.7 M1106.0,634.0 L1111.5,626.4 M1106.0,634.0 L1115.2,632.4 " stroke="#b8e090" stroke-width="0.6" opacity="0.45" fill="none"/><path d="M1233.6,624.0 a4.4,4.4 0 1,0 8.8,0 a4.4,4.4 0 1,0 -8.8,0 M1232.3,620.0 a3.4,3.4 0 1,0 6.7,0 a3.4,3.4 0 1,0 -6.7,0 M1236.5,619.7 a3.4,3.4 0 1,0 6.7,0 a3.4,3.4 0 1,0 -6.7,0 M1239.2,622.9 a3.4,3.4 0 1,0 6.7,0 a3.4,3.4 0 1,0 -6.7,0 M1238.2,627.0 a3.4,3.4 0 1,0 6.7,0 a3.4,3.4 0 1,0 -6.7,0 " fill="url(#gLeafG2)"/><path d="M1238.0,624.0 L1235.0,618.8 M1238.0,624.0 L1240.4,618.5 M1238.0,624.0 L1243.8,622.6 M1238.0,624.0 L1242.6,627.8 " stroke="#b8e090" stroke-width="0.6" opacity="0.45" fill="none"/><path d="M1244.8,638.0 a7.2,7.2 0 1,0 14.3,0 a7.2,7.2 0 1,0 -14.3,0 M1244.0,630.9 a5.5,5.5 0 1,0 10.9,0 a5.5,5.5 0 1,0 -10.9,0 M1249.4,631.0 a5.5,5.5 0 1,0 10.9,0 a5.5,5.5 0 1,0 -10.9,0 M1253.3,634.7 a5.5,5.5 0 1,0 10.9,0 a5.5,5.5 0 1,0 -10.9,0 M1253.8,640.1 a5.5,5.5 0 1,0 10.9,0 a5.5,5.5 0 1,0 -10.9,0 M1250.5,644.4 a5.5,5.5 0 1,0 10.9,0 a5.5,5.5 0 1,0 -10.9,0 M1245.2,645.4 a5.5,5.5 0 1,0 10.9,0 a5.5,5.5 0 1,0 -10.9,0 " fill="url(#gLeafG)"/><path d="M1252.0,638.0 L1248.7,628.9 M1252.0,638.0 L1255.6,629.0 M1252.0,638.0 L1260.7,633.7 M1252.0,638.0 L1261.3,640.7 M1252.0,638.0 L1257.2,646.2 M1252.0,638.0 L1250.3,647.6 " stroke="#b8e090" stroke-width="0.6" opacity="0.45" fill="none"/><path d="M1218.2,603.0 a3.9,3.9 0 1,0 7.7,0 a3.9,3.9 0 1,0 -7.7,0 M1215.2,601.6 a2.9,2.9 0 1,0 5.9,0 a2.9,2.9 0 1,0 -5.9,0 M1217.9,599.1 a2.9,2.9 0 1,0 5.9,0 a2.9,2.9 0 1,0 -5.9,0 M1221.5,599.7 a2.9,2.9 0 1,0 5.9,0 a2.9,2.9 0 1,0 -5.9,0 M1223.1,603.0 a2.9,2.9 0 1,0 5.9,0 a2.9,2.9 0 1,0 -5.9,0 " fill="url(#gLeafG2)"/><path d="M1222.0,603.0 L1217.1,601.2 M1222.0,603.0 L1220.5,598.0 M1222.0,603.0 L1225.1,598.8 M1222.0,603.0 L1227.2,603.0 " stroke="#b8e090" stroke-width="0.6" opacity="0.45" fill="none"/><path d="M1128.0,628.0 L1159.4,610.0 L1195.4,608.6 L1225.8,633.0 L1188.0,642.3 L1149.8,643.5 Z" fill="#9a8c34" opacity="0.9"/><g transform="rotate(-10 1159.4 610)"><ellipse cx="1159.4" cy="610" rx="18.2" ry="16.6" fill="url(#gGoose)"/><ellipse cx="1159.4" cy="610" rx="3.3" ry="16.3" fill="none" stroke="#fffbe0" stroke-width="0.9" opacity="0.4"/><ellipse cx="1159.4" cy="610" rx="9.1" ry="16.3" fill="none" stroke="#fffbe0" stroke-width="0.9" opacity="0.4"/><ellipse cx="1159.4" cy="610" rx="14.2" ry="16.3" fill="none" stroke="#fffbe0" stroke-width="0.9" opacity="0.4"/><ellipse cx="1159.4" cy="610" rx="6.2" ry="16.1" fill="none" stroke="#b8ae50" stroke-width="0.6" opacity="0.3"/><ellipse cx="1159.4" cy="610" rx="11.6" ry="16.1" fill="none" stroke="#b8ae50" stroke-width="0.6" opacity="0.3"/><ellipse cx="1159.4" cy="610" rx="16.4" ry="16.1" fill="none" stroke="#b8ae50" stroke-width="0.6" opacity="0.3"/></g><g transform="rotate(8 1195.4 608.6)"><ellipse cx="1195.4" cy="608.6" rx="17.8" ry="16.6" fill="url(#gGoose)"/><ellipse cx="1195.4" cy="608.6" rx="3.2" ry="16.3" fill="none" stroke="#fffbe0" stroke-width="0.9" opacity="0.4"/><ellipse cx="1195.4" cy="608.6" rx="8.9" ry="16.3" fill="none" stroke="#fffbe0" stroke-width="0.9" opacity="0.4"/><ellipse cx="1195.4" cy="608.6" rx="13.9" ry="16.3" fill="none" stroke="#fffbe0" stroke-width="0.9" opacity="0.4"/><ellipse cx="1195.4" cy="608.6" rx="6.1" ry="16.1" fill="none" stroke="#b8ae50" stroke-width="0.6" opacity="0.3"/><ellipse cx="1195.4" cy="608.6" rx="11.4" ry="16.1" fill="none" stroke="#b8ae50" stroke-width="0.6" opacity="0.3"/><ellipse cx="1195.4" cy="608.6" rx="16.0" ry="16.1" fill="none" stroke="#b8ae50" stroke-width="0.6" opacity="0.3"/></g><g transform="rotate(-15 1128 628)"><ellipse cx="1128" cy="628" rx="11.5" ry="14.5" fill="url(#gGoose)"/><ellipse cx="1128" cy="628" rx="2.1" ry="14.2" fill="none" stroke="#fffbe0" stroke-width="0.9" opacity="0.4"/><ellipse cx="1128" cy="628" rx="5.8" ry="14.2" fill="none" stroke="#fffbe0" stroke-width="0.9" opacity="0.4"/><ellipse cx="1128" cy="628" rx="9.0" ry="14.2" fill="none" stroke="#fffbe0" stroke-width="0.9" opacity="0.4"/><ellipse cx="1128" cy="628" rx="3.9" ry="14.1" fill="none" stroke="#b8ae50" stroke-width="0.6" opacity="0.3"/><ellipse cx="1128" cy="628" rx="7.4" ry="14.1" fill="none" stroke="#b8ae50" stroke-width="0.6" opacity="0.3"/><ellipse cx="1128" cy="628" rx="10.3" ry="14.1" fill="none" stroke="#b8ae50" stroke-width="0.6" opacity="0.3"/></g><g transform="rotate(10 1225.8 633)"><ellipse cx="1225.8" cy="633" rx="17.3" ry="20" fill="url(#gGoose)"/><ellipse cx="1225.8" cy="633" rx="3.1" ry="19.6" fill="none" stroke="#fffbe0" stroke-width="0.9" opacity="0.4"/><ellipse cx="1225.8" cy="633" rx="8.7" ry="19.6" fill="none" stroke="#fffbe0" stroke-width="0.9" opacity="0.4"/><ellipse cx="1225.8" cy="633" rx="13.5" ry="19.6" fill="none" stroke="#fffbe0" stroke-width="0.9" opacity="0.4"/><ellipse cx="1225.8" cy="633" rx="5.9" ry="19.4" fill="none" stroke="#b8ae50" stroke-width="0.6" opacity="0.3"/><ellipse cx="1225.8" cy="633" rx="11.1" ry="19.4" fill="none" stroke="#b8ae50" stroke-width="0.6" opacity="0.3"/><ellipse cx="1225.8" cy="633" rx="15.6" ry="19.4" fill="none" stroke="#b8ae50" stroke-width="0.6" opacity="0.3"/></g><g transform="rotate(-5 1149.8 643.5)"><ellipse cx="1149.8" cy="643.5" rx="17.6" ry="17.2" fill="url(#gGoose)"/><ellipse cx="1149.8" cy="643.5" rx="3.2" ry="16.9" fill="none" stroke="#fffbe0" stroke-width="0.9" opacity="0.4"/><ellipse cx="1149.8" cy="643.5" rx="8.8" ry="16.9" fill="none" stroke="#fffbe0" stroke-width="0.9" opacity="0.4"/><ellipse cx="1149.8" cy="643.5" rx="13.7" ry="16.9" fill="none" stroke="#fffbe0" stroke-width="0.9" opacity="0.4"/><ellipse cx="1149.8" cy="643.5" rx="6.0" ry="16.7" fill="none" stroke="#b8ae50" stroke-width="0.6" opacity="0.3"/><ellipse cx="1149.8" cy="643.5" rx="11.3" ry="16.7" fill="none" stroke="#b8ae50" stroke-width="0.6" opacity="0.3"/><ellipse cx="1149.8" cy="643.5" rx="15.8" ry="16.7" fill="none" stroke="#b8ae50" stroke-width="0.6" opacity="0.3"/></g><g transform="rotate(3 1188 642.3)"><ellipse cx="1188" cy="642.3" rx="19.3" ry="19" fill="url(#gGoose)"/><ellipse cx="1188" cy="642.3" rx="3.5" ry="18.6" fill="none" stroke="#fffbe0" stroke-width="0.9" opacity="0.4"/><ellipse cx="1188" cy="642.3" rx="9.7" ry="18.6" fill="none" stroke="#fffbe0" stroke-width="0.9" opacity="0.4"/><ellipse cx="1188" cy="642.3" rx="15.1" ry="18.6" fill="none" stroke="#fffbe0" stroke-width="0.9" opacity="0.4"/><ellipse cx="1188" cy="642.3" rx="6.6" ry="18.4" fill="none" stroke="#b8ae50" stroke-width="0.6" opacity="0.3"/><ellipse cx="1188" cy="642.3" rx="12.4" ry="18.4" fill="none" stroke="#b8ae50" stroke-width="0.6" opacity="0.3"/><ellipse cx="1188" cy="642.3" rx="17.4" ry="18.4" fill="none" stroke="#b8ae50" stroke-width="0.6" opacity="0.3"/></g><circle cx="1140.3" cy="611.3" r="3.2" fill="#5a3a24" opacity="0.9" filter="url(#blur1)"/><circle cx="1115.8" cy="633" r="3.2" fill="#5a3a24" opacity="0.9" filter="url(#blur1)"/><circle cx="1129.2" cy="647" r="3.2" fill="#5a3a24" opacity="0.9" filter="url(#blur1)"/><circle cx="1212.5" cy="601.2" r="3.2" fill="#5a3a24" opacity="0.9" filter="url(#blur1)"/><circle cx="1237" cy="639.8" r="3.2" fill="#5a3a24" opacity="0.9" filter="url(#blur1)"/><circle cx="1204.3" cy="652.4" r="3.2" fill="#5a3a24" opacity="0.9" filter="url(#blur1)"/></g></svg>
</body></html>
